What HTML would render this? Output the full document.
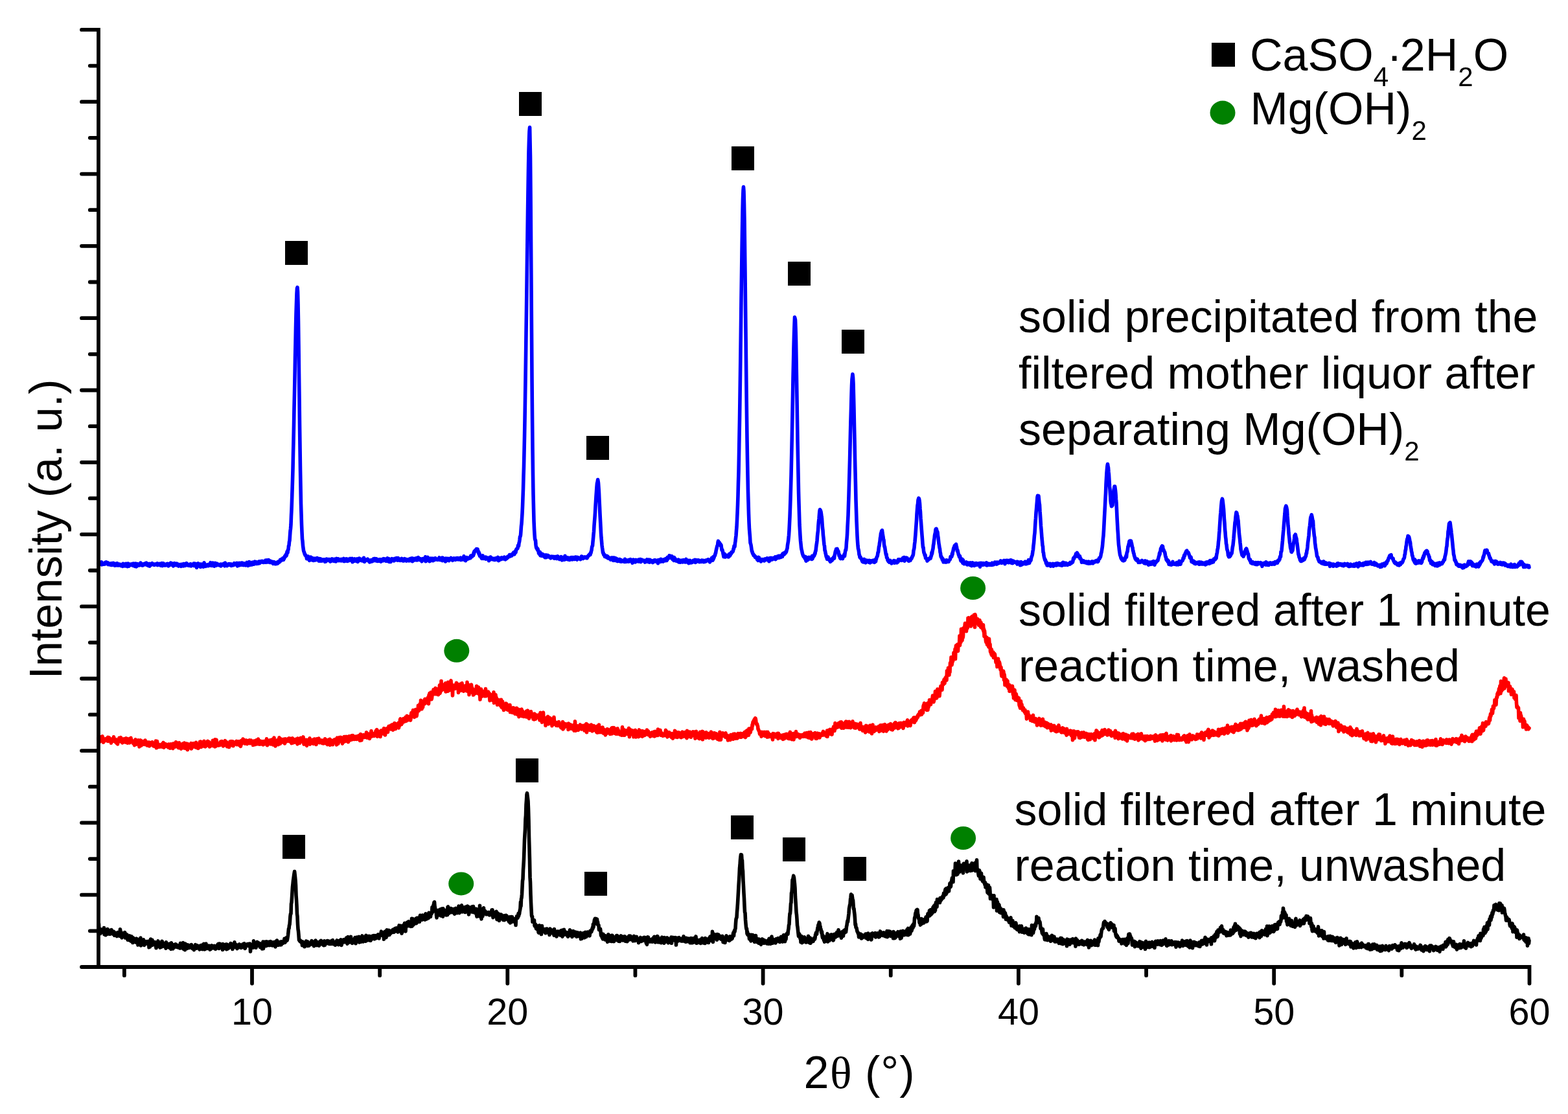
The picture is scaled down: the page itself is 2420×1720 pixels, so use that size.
<!DOCTYPE html>
<html><head><meta charset="utf-8"><title>XRD</title>
<style>
html,body{margin:0;padding:0;background:#fff;overflow:hidden;}
svg{display:block;}
text{font-family:"Liberation Sans",Arial,sans-serif;fill:#000;}
</style></head><body>
<svg width="2420" height="1720" viewBox="0 0 2420 1720">
<rect width="2420" height="1720" fill="#fff"/>
<path d="M152.0,870.0L152.5,871.6 153.0,871.5 153.5,869.4 154.0,869.6 154.5,869.4 155.0,870.7 155.5,869.9 156.0,870.9 156.5,867.8 157.0,871.9 157.5,869.9 158.0,870.8 158.5,869.9 159.0,869.6 159.5,870.6 160.0,871.1 160.5,869.8 161.0,869.9 161.5,871.0 162.0,869.1 162.5,868.4 163.0,870.7 163.5,869.5 164.0,868.0 164.5,869.4 165.0,869.8 165.5,869.0 166.0,868.7 166.5,870.5 167.0,871.6 167.5,870.3 168.0,869.8 168.5,871.2 169.0,871.6 169.5,870.4 170.0,871.5 170.5,872.1 171.0,870.7 171.5,870.0 172.0,871.5 172.5,871.4 173.0,872.5 173.5,869.7 174.0,870.5 174.5,870.3 175.0,869.3 175.5,871.6 176.0,872.1 176.5,870.6 177.0,873.2 177.5,872.6 178.0,872.4 178.5,872.2 179.0,872.9 179.5,870.2 180.0,872.6 180.5,872.6 181.0,869.8 181.5,872.4 182.0,871.7 182.5,873.0 183.0,871.5 183.5,872.1 184.0,872.5 184.5,871.1 185.0,872.9 185.5,872.1 186.0,872.8 186.5,871.6 187.0,873.6 187.5,873.0 188.0,872.1 188.5,873.1 189.0,873.8 189.5,874.4 190.0,870.4 190.5,873.4 191.0,872.9 191.5,872.2 192.0,871.1 192.5,873.8 193.0,870.8 193.5,873.0 194.0,873.8 194.5,870.3 195.0,871.9 195.5,870.7 196.0,872.5 196.5,874.0 197.0,874.6 197.5,870.1 198.0,871.5 198.5,873.0 199.0,874.1 199.5,872.7 200.0,871.2 200.5,872.5 201.0,872.1 201.5,871.9 202.0,871.2 202.5,872.5 203.0,872.4 203.5,871.9 204.0,871.8 204.5,870.5 205.0,871.4 205.5,873.4 206.0,871.7 206.5,870.2 207.0,873.5 207.5,872.5 208.0,874.4 208.5,871.9 209.0,871.3 209.5,870.1 210.0,873.4 210.5,874.9 211.0,870.8 211.5,871.0 212.0,872.5 212.5,870.7 213.0,871.4 213.5,871.3 214.0,871.9 214.5,873.0 215.0,871.7 215.5,872.7 216.0,871.1 216.5,872.0 217.0,869.0 217.5,869.8 218.0,872.5 218.5,870.8 219.0,872.2 219.5,872.2 220.0,873.1 220.5,872.5 221.0,872.7 221.5,871.4 222.0,870.6 222.5,870.6 223.0,870.9 223.5,870.1 224.0,870.8 224.5,871.3 225.0,871.7 225.5,871.0 226.0,869.1 226.5,871.3 227.0,871.7 227.5,872.7 228.0,872.1 228.5,870.6 229.0,870.5 229.5,873.8 230.0,872.3 230.5,873.6 231.0,874.0 231.5,870.4 232.0,871.9 232.5,872.0 233.0,872.1 233.5,872.1 234.0,871.7 234.5,871.6 235.0,869.6 235.5,871.2 236.0,870.5 236.5,871.6 237.0,870.9 237.5,872.2 238.0,872.4 238.5,871.8 239.0,871.8 239.5,871.6 240.0,870.9 240.5,871.3 241.0,870.9 241.5,871.9 242.0,871.5 242.5,872.2 243.0,869.9 243.5,872.6 244.0,870.6 244.5,870.6 245.0,871.3 245.5,870.8 246.0,871.9 246.5,870.9 247.0,870.3 247.5,870.5 248.0,873.1 248.5,871.6 249.0,870.2 249.5,871.6 250.0,869.7 250.5,873.7 251.0,869.8 251.5,872.2 252.0,872.3 252.5,869.9 253.0,872.0 253.5,872.8 254.0,872.2 254.5,872.0 255.0,872.8 255.5,871.9 256.0,872.1 256.5,871.5 257.0,872.5 257.5,870.6 258.0,872.7 258.5,871.1 259.0,870.4 259.5,872.2 260.0,873.8 260.5,872.9 261.0,871.2 261.5,872.6 262.0,871.2 262.5,871.6 263.0,871.9 263.5,869.0 264.0,872.1 264.5,870.6 265.0,871.0 265.5,870.1 266.0,870.0 266.5,870.7 267.0,872.9 267.5,873.9 268.0,871.8 268.5,873.2 269.0,871.6 269.5,869.6 270.0,872.1 270.5,872.4 271.0,871.4 271.5,872.3 272.0,872.6 272.5,870.9 273.0,870.2 273.5,871.7 274.0,871.7 274.5,871.5 275.0,873.1 275.5,874.0 276.0,871.5 276.5,872.8 277.0,873.1 277.5,872.8 278.0,873.2 278.5,871.5 279.0,872.9 279.5,874.4 280.0,873.0 280.5,871.3 281.0,872.7 281.5,873.5 282.0,872.4 282.5,871.3 283.0,873.9 283.5,870.5 284.0,872.6 284.5,872.0 285.0,870.6 285.5,873.5 286.0,872.4 286.5,870.6 287.0,872.7 287.5,871.5 288.0,869.7 288.5,871.2 289.0,872.3 289.5,872.8 290.0,872.2 290.5,872.1 291.0,872.6 291.5,871.8 292.0,873.4 292.5,872.2 293.0,872.4 293.5,872.7 294.0,870.8 294.5,871.2 295.0,873.9 295.5,872.4 296.0,871.7 296.5,872.4 297.0,871.5 297.5,872.4 298.0,871.2 298.5,872.4 299.0,870.1 299.5,873.6 300.0,871.4 300.5,870.1 301.0,871.8 301.5,871.6 302.0,872.2 302.5,870.7 303.0,872.5 303.5,876.4 304.0,870.5 304.5,872.5 305.0,871.7 305.5,872.3 306.0,869.9 306.5,870.7 307.0,872.6 307.5,872.0 308.0,874.0 308.5,871.2 309.0,872.3 309.5,875.5 310.0,871.1 310.5,871.0 311.0,872.0 311.5,872.0 312.0,873.1 312.5,872.2 313.0,871.1 313.5,872.3 314.0,875.2 314.5,873.6 315.0,868.7 315.5,871.9 316.0,871.0 316.5,872.8 317.0,871.8 317.5,874.4 318.0,873.2 318.5,873.1 319.0,872.3 319.5,872.0 320.0,872.5 320.5,873.6 321.0,872.7 321.5,871.6 322.0,873.6 322.5,872.3 323.0,871.9 323.5,871.1 324.0,871.4 324.5,871.3 325.0,868.7 325.5,873.3 326.0,872.7 326.5,871.8 327.0,873.3 327.5,872.6 328.0,872.5 328.5,869.1 329.0,871.7 329.5,872.7 330.0,873.9 330.5,874.2 331.0,873.7 331.5,870.6 332.0,869.4 332.5,872.7 333.0,872.0 333.5,873.2 334.0,871.8 334.5,872.3 335.0,870.2 335.5,872.5 336.0,871.5 336.5,872.4 337.0,872.5 337.5,871.8 338.0,872.4 338.5,872.0 339.0,872.9 339.5,872.6 340.0,871.3 340.5,871.2 341.0,874.0 341.5,871.8 342.0,873.1 342.5,872.4 343.0,871.2 343.5,871.0 344.0,872.0 344.5,872.2 345.0,872.6 345.5,870.4 346.0,871.2 346.5,871.7 347.0,873.8 347.5,869.0 348.0,872.4 348.5,871.2 349.0,872.3 349.5,871.2 350.0,872.2 350.5,873.7 351.0,872.2 351.5,872.3 352.0,872.2 352.5,870.8 353.0,872.4 353.5,871.5 354.0,870.7 354.5,871.6 355.0,871.4 355.5,872.6 356.0,871.6 356.5,871.0 357.0,873.4 357.5,872.8 358.0,873.1 358.5,872.3 359.0,871.4 359.5,871.1 360.0,871.2 360.5,872.7 361.0,871.6 361.5,869.7 362.0,871.4 362.5,869.8 363.0,871.7 363.5,870.0 364.0,869.9 364.5,871.5 365.0,871.3 365.5,869.4 366.0,872.2 366.5,873.9 367.0,869.5 367.5,873.5 368.0,870.4 368.5,870.7 369.0,871.0 369.5,869.5 370.0,872.8 370.5,871.8 371.0,870.3 371.5,870.8 372.0,869.3 372.5,870.7 373.0,872.2 373.5,869.0 374.0,870.5 374.5,871.2 375.0,872.2 375.5,872.6 376.0,870.4 376.5,870.0 377.0,871.4 377.5,870.4 378.0,870.5 378.5,872.1 379.0,872.8 379.5,871.1 380.0,870.5 380.5,871.4 381.0,868.4 381.5,870.6 382.0,869.4 382.5,873.5 383.0,871.5 383.5,870.7 384.0,870.3 384.5,867.5 385.0,871.3 385.5,872.4 386.0,869.5 386.5,871.2 387.0,871.2 387.5,868.5 388.0,871.4 388.5,871.9 389.0,870.4 389.5,870.0 390.0,871.0 390.5,868.1 391.0,870.0 391.5,871.1 392.0,868.3 392.5,870.9 393.0,869.1 393.5,867.1 394.0,869.3 394.5,868.2 395.0,869.7 395.5,867.8 396.0,870.4 396.5,868.1 397.0,869.4 397.5,868.1 398.0,868.4 398.5,870.1 399.0,868.8 399.5,868.0 400.0,866.9 400.5,869.7 401.0,869.1 401.5,867.7 402.0,868.3 402.5,866.7 403.0,866.6 403.5,866.7 404.0,868.0 404.5,867.9 405.0,866.5 405.5,868.2 406.0,868.2 406.5,867.4 407.0,868.4 407.5,866.7 408.0,866.8 408.5,867.4 409.0,866.8 409.5,867.7 410.0,865.2 410.5,868.3 411.0,865.6 411.5,866.3 412.0,864.8 412.5,867.1 413.0,867.9 413.5,867.7 414.0,867.4 414.5,864.6 415.0,865.7 415.5,866.2 416.0,865.8 416.5,868.4 417.0,867.5 417.5,867.4 418.0,868.2 418.5,866.7 419.0,867.0 419.5,867.2 420.0,869.1 420.5,869.1 421.0,869.6 421.5,870.3 422.0,867.6 422.5,868.6 423.0,869.6 423.5,867.9 424.0,868.9 424.5,870.8 425.0,870.8 425.5,870.7 426.0,869.4 426.5,868.9 427.0,870.3 427.5,868.4 428.0,869.1 428.5,870.1 429.0,867.8 429.5,867.3 430.0,867.8 430.5,868.3 431.0,867.8 431.5,867.2 432.0,867.3 432.5,864.4 433.0,865.0 433.5,865.9 434.0,864.2 434.5,863.3 435.0,863.1 435.5,863.0 436.0,863.5 436.5,862.0 437.0,863.1 437.5,864.4 438.0,861.6 438.5,862.8 439.0,861.1 439.5,858.8 440.0,859.2 440.5,857.6 441.0,859.0 441.5,855.9 442.0,858.0 442.5,856.1 443.0,851.8 443.5,853.8 444.0,853.2 444.5,848.6 445.0,848.7 445.5,842.8 446.0,842.3 446.5,836.5 447.0,834.8 447.5,827.0 448.0,819.9 448.5,816.3 449.0,810.1 449.5,796.8 450.0,787.0 450.5,773.0 451.0,757.5 451.5,741.9 452.0,724.4 452.5,700.5 453.0,680.4 453.5,656.5 454.0,629.4 454.5,607.3 455.0,581.6 455.5,552.1 456.0,530.2 456.5,504.8 457.0,483.6 457.5,468.0 458.0,453.2 458.5,445.0 459.0,443.6 459.5,450.2 460.0,469.4 460.5,496.5 461.0,532.9 461.5,576.4 462.0,614.8 462.5,655.6 463.0,690.6 463.5,724.1 464.0,750.8 464.5,777.7 465.0,793.6 465.5,809.8 466.0,821.5 466.5,832.1 467.0,835.7 467.5,842.5 468.0,846.1 468.5,849.8 469.0,852.0 469.5,852.6 470.0,854.9 470.5,855.3 471.0,857.3 471.5,857.4 472.0,857.5 472.5,858.9 473.0,860.0 473.5,862.7 474.0,859.9 474.5,861.3 475.0,863.0 475.5,859.1 476.0,859.8 476.5,860.7 477.0,862.2 477.5,865.4 478.0,863.2 478.5,864.3 479.0,862.7 479.5,860.2 480.0,860.4 480.5,864.5 481.0,863.6 481.5,861.9 482.0,864.9 482.5,861.7 483.0,865.0 483.5,865.4 484.0,862.8 484.5,862.4 485.0,864.8 485.5,862.4 486.0,864.8 486.5,862.3 487.0,864.8 487.5,863.9 488.0,863.3 488.5,862.7 489.0,864.1 489.5,861.6 490.0,863.5 490.5,863.4 491.0,864.7 491.5,862.4 492.0,866.1 492.5,863.6 493.0,862.6 493.5,865.8 494.0,866.1 494.5,863.9 495.0,863.1 495.5,864.2 496.0,863.4 496.5,863.8 497.0,866.1 497.5,864.7 498.0,864.5 498.5,864.7 499.0,864.2 499.5,865.4 500.0,865.4 500.5,863.9 501.0,864.5 501.5,867.3 502.0,864.9 502.5,864.2 503.0,866.9 503.5,864.5 504.0,863.1 504.5,865.3 505.0,863.4 505.5,863.9 506.0,864.9 506.5,864.3 507.0,863.6 507.5,863.8 508.0,863.8 508.5,866.0 509.0,863.7 509.5,863.8 510.0,867.1 510.5,863.9 511.0,866.4 511.5,866.2 512.0,864.4 512.5,862.8 513.0,865.1 513.5,865.4 514.0,865.8 514.5,864.7 515.0,866.1 515.5,866.3 516.0,863.3 516.5,866.4 517.0,864.8 517.5,863.9 518.0,864.2 518.5,866.9 519.0,865.8 519.5,862.4 520.0,864.8 520.5,864.5 521.0,864.4 521.5,864.0 522.0,862.9 522.5,865.7 523.0,863.5 523.5,864.2 524.0,863.9 524.5,863.8 525.0,865.6 525.5,865.1 526.0,863.9 526.5,863.5 527.0,864.1 527.5,865.9 528.0,864.8 528.5,865.0 529.0,864.3 529.5,864.4 530.0,865.0 530.5,862.4 531.0,866.7 531.5,863.7 532.0,864.0 532.5,866.3 533.0,865.0 533.5,864.8 534.0,864.0 534.5,862.8 535.0,864.9 535.5,866.2 536.0,863.6 536.5,866.4 537.0,863.3 537.5,863.8 538.0,865.3 538.5,864.7 539.0,865.6 539.5,863.8 540.0,863.4 540.5,862.4 541.0,863.2 541.5,863.4 542.0,863.0 542.5,865.1 543.0,863.9 543.5,862.3 544.0,867.8 544.5,863.7 545.0,863.2 545.5,866.2 546.0,866.2 546.5,863.3 547.0,862.9 547.5,863.5 548.0,866.1 548.5,864.3 549.0,863.7 549.5,864.7 550.0,866.2 550.5,863.0 551.0,864.3 551.5,863.0 552.0,867.4 552.5,867.0 553.0,865.9 553.5,864.6 554.0,865.5 554.5,862.1 555.0,865.1 555.5,863.1 556.0,863.1 556.5,863.9 557.0,864.3 557.5,865.4 558.0,865.6 558.5,865.1 559.0,863.6 559.5,865.6 560.0,864.6 560.5,866.2 561.0,863.6 561.5,861.3 562.0,864.1 562.5,867.4 563.0,865.3 563.5,864.5 564.0,865.8 564.5,865.3 565.0,865.3 565.5,864.1 566.0,864.8 566.5,865.0 567.0,863.9 567.5,863.3 568.0,864.9 568.5,865.9 569.0,865.5 569.5,865.3 570.0,865.3 570.5,867.9 571.0,865.0 571.5,866.0 572.0,867.1 572.5,864.8 573.0,865.0 573.5,866.0 574.0,866.8 574.5,865.1 575.0,865.1 575.5,864.8 576.0,863.2 576.5,866.0 577.0,864.4 577.5,862.5 578.0,864.5 578.5,862.5 579.0,863.4 579.5,864.7 580.0,863.5 580.5,866.0 581.0,862.8 581.5,865.0 582.0,865.3 582.5,866.4 583.0,865.8 583.5,864.9 584.0,864.7 584.5,864.5 585.0,866.0 585.5,863.8 586.0,865.2 586.5,864.5 587.0,864.9 587.5,864.2 588.0,867.2 588.5,863.8 589.0,864.9 589.5,864.9 590.0,865.3 590.5,865.1 591.0,865.1 591.5,865.7 592.0,862.7 592.5,864.5 593.0,863.0 593.5,864.8 594.0,863.0 594.5,863.3 595.0,864.4 595.5,866.2 596.0,865.2 596.5,864.8 597.0,866.2 597.5,863.3 598.0,861.9 598.5,863.9 599.0,864.1 599.5,866.0 600.0,867.1 600.5,862.8 601.0,867.5 601.5,866.3 602.0,865.4 602.5,864.9 603.0,867.4 603.5,864.5 604.0,863.8 604.5,864.5 605.0,862.7 605.5,864.9 606.0,864.2 606.5,864.8 607.0,864.8 607.5,863.0 608.0,866.0 608.5,863.1 609.0,865.4 609.5,862.4 610.0,864.8 610.5,863.3 611.0,864.4 611.5,863.5 612.0,861.6 612.5,862.9 613.0,864.4 613.5,865.1 614.0,862.5 614.5,861.7 615.0,863.2 615.5,864.0 616.0,863.5 616.5,863.3 617.0,865.3 617.5,865.5 618.0,865.2 618.5,863.1 619.0,864.4 619.5,864.0 620.0,862.5 620.5,865.3 621.0,864.4 621.5,863.6 622.0,866.0 622.5,865.2 623.0,865.3 623.5,865.7 624.0,865.1 624.5,862.7 625.0,863.7 625.5,865.5 626.0,863.3 626.5,864.3 627.0,864.7 627.5,866.0 628.0,865.8 628.5,865.3 629.0,864.0 629.5,865.3 630.0,864.8 630.5,864.0 631.0,865.9 631.5,864.8 632.0,863.2 632.5,865.7 633.0,863.8 633.5,864.9 634.0,862.3 634.5,864.1 635.0,863.0 635.5,862.9 636.0,861.8 636.5,866.8 637.0,863.9 637.5,864.4 638.0,865.5 638.5,864.0 639.0,864.8 639.5,862.4 640.0,864.3 640.5,863.6 641.0,864.7 641.5,864.3 642.0,862.4 642.5,861.8 643.0,862.8 643.5,865.0 644.0,864.6 644.5,864.6 645.0,861.6 645.5,860.7 646.0,863.3 646.5,863.6 647.0,863.3 647.5,864.5 648.0,863.8 648.5,862.6 649.0,862.9 649.5,864.2 650.0,864.1 650.5,863.9 651.0,866.8 651.5,863.7 652.0,864.1 652.5,862.7 653.0,863.5 653.5,864.6 654.0,864.7 654.5,863.7 655.0,864.4 655.5,864.0 656.0,861.6 656.5,859.8 657.0,866.8 657.5,864.9 658.0,863.8 658.5,861.7 659.0,862.3 659.5,865.5 660.0,860.4 660.5,863.4 661.0,864.9 661.5,864.0 662.0,864.8 662.5,863.6 663.0,866.8 663.5,862.5 664.0,862.1 664.5,864.1 665.0,865.5 665.5,863.7 666.0,865.0 666.5,863.1 667.0,862.2 667.5,865.4 668.0,865.6 668.5,865.6 669.0,863.1 669.5,862.2 670.0,862.2 670.5,863.4 671.0,864.4 671.5,864.3 672.0,861.8 672.5,863.8 673.0,863.6 673.5,863.7 674.0,863.5 674.5,863.3 675.0,864.3 675.5,863.7 676.0,863.8 676.5,862.7 677.0,864.0 677.5,863.4 678.0,860.9 678.5,864.1 679.0,863.1 679.5,864.6 680.0,863.3 680.5,863.3 681.0,863.7 681.5,863.4 682.0,862.9 682.5,861.2 683.0,865.7 683.5,861.4 684.0,863.0 684.5,864.2 685.0,863.8 685.5,864.1 686.0,864.3 686.5,864.9 687.0,863.7 687.5,867.0 688.0,862.1 688.5,863.6 689.0,862.9 689.5,862.6 690.0,863.7 690.5,865.1 691.0,862.4 691.5,862.4 692.0,864.2 692.5,863.9 693.0,865.7 693.5,864.5 694.0,863.5 694.5,862.8 695.0,863.5 695.5,863.0 696.0,861.5 696.5,863.2 697.0,863.0 697.5,862.9 698.0,862.6 698.5,865.3 699.0,864.0 699.5,864.3 700.0,862.4 700.5,861.9 701.0,862.8 701.5,863.4 702.0,862.7 702.5,862.9 703.0,864.3 703.5,863.4 704.0,861.8 704.5,862.5 705.0,862.2 705.5,863.3 706.0,861.6 706.5,862.8 707.0,863.9 707.5,863.0 708.0,861.8 708.5,862.2 709.0,863.1 709.5,863.5 710.0,864.0 710.5,862.7 711.0,861.2 711.5,864.6 712.0,863.2 712.5,863.3 713.0,863.2 713.5,861.5 714.0,862.4 714.5,863.1 715.0,864.0 715.5,862.8 716.0,858.8 716.5,862.4 717.0,863.1 717.5,864.2 718.0,863.5 718.5,865.7 719.0,864.3 719.5,864.2 720.0,863.6 720.5,860.7 721.0,863.4 721.5,863.0 722.0,861.6 722.5,862.9 723.0,862.6 723.5,861.4 724.0,861.7 724.5,861.3 725.0,861.8 725.5,860.7 726.0,861.7 726.5,858.3 727.0,860.0 727.5,857.8 728.0,858.8 728.5,859.5 729.0,858.2 729.5,857.3 730.0,856.8 730.5,857.8 731.0,853.6 731.5,855.2 732.0,851.2 732.5,851.6 733.0,851.6 733.5,849.5 734.0,850.2 734.5,850.4 735.4,847.6 736.0,849.2 736.5,849.2 737.0,847.8 737.5,850.6 738.0,850.7 738.5,854.2 739.0,852.4 739.5,856.5 740.0,854.6 740.5,858.6 741.0,857.6 741.5,858.3 742.0,859.4 742.5,860.1 743.0,861.3 743.5,862.2 744.0,860.0 744.5,859.2 745.0,857.8 745.5,860.8 746.0,862.4 746.5,862.1 747.0,862.0 747.5,861.5 748.0,861.2 748.5,861.8 749.0,862.7 749.5,860.1 750.0,863.2 750.5,860.6 751.0,862.3 751.5,861.7 752.0,862.1 752.5,861.3 753.0,861.2 753.5,862.4 754.0,861.4 754.5,865.8 755.0,862.4 755.5,862.1 756.0,862.3 756.5,861.7 757.0,860.0 757.5,862.8 758.0,863.5 758.5,861.3 759.0,863.2 759.5,861.8 760.0,863.2 760.5,863.7 761.0,863.9 761.5,863.9 762.0,862.5 762.5,864.4 763.0,862.8 763.5,863.8 764.0,864.2 764.5,863.0 765.0,861.8 765.5,864.1 766.0,862.0 766.5,862.2 767.0,861.9 767.5,864.2 768.0,863.0 768.5,860.4 769.0,864.0 769.5,865.6 770.0,865.2 770.5,862.3 771.0,863.0 771.5,863.5 772.0,863.9 772.5,862.8 773.0,861.4 773.5,863.5 774.0,863.3 774.5,860.9 775.0,862.0 775.5,862.6 776.0,862.2 776.5,862.8 777.0,863.0 777.5,862.6 778.0,861.7 778.5,860.1 779.0,862.4 779.5,863.2 780.0,863.8 780.5,861.2 781.0,861.1 781.5,862.7 782.0,862.5 782.5,861.1 783.0,861.3 783.5,859.4 784.0,860.8 784.5,858.9 785.0,859.6 785.5,859.4 786.0,858.7 786.5,856.5 787.0,857.8 787.5,858.9 788.0,858.2 788.5,857.5 789.0,858.1 789.5,858.1 790.0,858.0 790.5,855.6 791.0,856.2 791.5,855.4 792.0,854.3 792.5,853.1 793.0,854.3 793.5,852.8 794.0,855.9 794.5,852.6 795.0,851.8 795.5,851.0 796.0,853.0 796.5,848.8 797.0,849.0 797.5,847.3 798.0,847.2 798.5,846.2 799.0,846.5 799.5,842.2 800.0,842.5 800.5,842.9 801.0,838.5 801.5,836.8 802.0,833.6 802.5,828.7 803.0,828.4 803.5,826.1 804.0,819.5 804.5,812.4 805.0,808.6 805.5,800.7 806.0,792.8 806.5,782.1 807.0,768.3 807.5,754.8 808.0,735.6 808.5,720.3 809.0,697.8 809.5,674.9 810.0,648.4 810.5,617.5 811.0,586.1 811.5,551.3 812.0,514.0 812.5,479.0 813.0,441.0 813.5,400.7 814.0,364.7 814.5,327.1 815.0,293.1 815.5,260.8 816.0,233.6 816.5,216.7 817.0,203.3 817.6,196.6 818.5,241.7 819.0,298.8 819.5,368.5 820.0,442.4 820.5,513.5 821.0,584.3 821.5,640.4 822.0,691.3 822.5,731.1 823.0,762.7 823.5,783.6 824.0,804.2 824.5,815.8 825.0,824.7 825.5,831.7 826.0,833.7 826.5,834.2 827.0,841.3 827.5,844.7 828.0,846.3 828.5,845.7 829.0,847.5 829.5,849.2 830.0,847.5 830.5,849.9 831.0,850.7 831.5,854.3 832.0,852.1 832.5,855.5 833.0,854.1 833.5,852.4 834.0,857.8 834.5,854.2 835.0,856.5 835.5,858.2 836.0,855.7 836.5,855.1 837.0,858.3 837.5,857.3 838.0,855.9 838.5,856.2 839.0,857.3 839.5,859.2 840.0,857.8 840.5,859.1 841.0,860.6 841.5,860.2 842.0,860.6 842.5,860.4 843.0,856.9 843.5,860.6 844.0,859.6 844.5,859.1 845.0,858.0 845.5,857.5 846.0,858.2 846.5,859.6 847.0,858.3 847.5,858.8 848.0,859.1 848.5,860.8 849.0,859.7 849.5,860.0 850.0,861.9 850.5,859.9 851.0,861.1 851.5,859.1 852.0,860.9 852.5,860.7 853.0,860.8 853.5,860.1 854.0,859.4 854.5,860.4 855.0,860.2 855.5,862.2 856.0,862.1 856.5,859.5 857.0,861.8 857.5,860.5 858.0,861.7 858.5,860.6 859.0,859.4 859.5,862.6 860.0,861.9 860.5,859.8 861.0,859.0 861.5,860.8 862.0,860.0 862.5,861.1 863.0,862.4 863.5,863.5 864.0,861.2 864.5,863.4 865.0,863.2 865.5,861.2 866.0,859.7 866.5,862.9 867.0,862.6 867.5,864.8 868.0,863.7 868.5,862.9 869.0,864.1 869.5,860.6 870.0,862.2 870.5,861.6 871.0,864.2 871.5,862.7 872.0,858.2 872.5,863.8 873.0,860.9 873.5,863.0 874.0,861.5 874.5,862.4 875.0,862.9 875.5,862.3 876.0,860.9 876.5,863.9 877.0,862.6 877.5,862.1 878.0,863.0 878.5,861.4 879.0,864.5 879.5,862.4 880.0,862.6 880.5,862.6 881.0,861.0 881.5,860.6 882.0,862.4 882.5,862.6 883.0,863.8 883.5,862.7 884.0,860.7 884.5,862.7 885.0,863.1 885.5,863.3 886.0,862.5 886.5,860.5 887.0,863.5 887.5,861.1 888.0,862.7 888.5,860.0 889.0,862.9 889.5,861.0 890.0,863.3 890.5,864.1 891.0,863.4 891.5,860.4 892.0,860.7 892.5,860.7 893.0,862.6 893.5,862.2 894.0,861.9 894.5,862.1 895.0,862.4 895.5,862.4 896.0,863.7 896.5,861.5 897.0,861.7 897.5,859.1 898.0,859.7 898.5,860.4 899.0,859.8 899.5,861.4 900.0,862.4 900.5,860.5 901.0,860.3 901.5,860.2 902.0,860.9 902.5,860.0 903.0,861.1 903.5,860.8 904.0,860.7 904.5,861.1 905.0,860.0 905.5,860.0 906.0,861.8 906.5,859.3 907.0,860.2 907.5,858.9 908.0,858.0 908.5,857.6 909.0,856.7 909.5,857.2 910.0,855.8 910.5,855.3 911.0,856.4 911.5,853.6 912.0,853.8 912.5,851.0 913.0,849.6 913.5,845.3 914.0,843.3 914.5,842.9 915.0,836.6 915.5,832.1 916.0,825.8 916.5,820.7 917.0,811.6 917.5,804.9 918.0,798.9 918.5,791.5 919.0,781.9 919.5,774.1 920.0,766.2 920.5,759.2 921.0,751.7 921.5,746.3 922.0,744.5 922.7,740.6 923.5,745.8 924.0,752.8 924.5,760.9 925.0,772.6 925.5,782.4 926.0,793.6 926.5,802.8 927.0,812.7 927.5,822.8 928.0,830.1 928.5,835.4 929.0,841.6 929.5,845.7 930.0,849.0 930.5,853.5 931.0,853.0 931.5,855.6 932.0,856.8 932.5,857.0 933.0,856.5 933.5,859.4 934.0,859.3 934.5,859.5 935.0,859.7 935.5,860.0 936.0,859.1 936.5,860.8 937.0,858.4 937.5,860.8 938.0,859.1 938.5,860.7 939.0,862.2 939.5,861.1 940.0,861.0 940.5,862.4 941.0,861.5 941.5,861.5 942.0,861.6 942.5,864.1 943.0,863.2 943.5,863.1 944.0,861.1 944.5,863.4 945.0,861.2 945.5,863.5 946.0,861.6 946.5,865.5 947.0,861.1 947.5,864.8 948.0,864.4 948.5,861.3 949.0,863.3 949.5,865.5 950.0,865.2 950.5,861.9 951.0,863.4 951.5,862.7 952.0,862.9 952.5,863.5 953.0,866.6 953.5,864.6 954.0,864.3 954.5,864.2 955.0,865.5 955.5,865.6 956.0,863.7 956.5,866.7 957.0,863.7 957.5,864.7 958.0,865.7 958.5,867.2 959.0,864.8 959.5,865.6 960.0,866.9 960.5,866.1 961.0,866.8 961.5,866.7 962.0,865.8 962.5,866.3 963.0,866.6 963.5,865.5 964.0,867.5 964.5,863.2 965.0,864.5 965.5,867.3 966.0,866.1 966.5,864.8 967.0,866.1 967.5,867.0 968.0,865.0 968.5,866.6 969.0,865.5 969.5,865.6 970.0,865.6 970.5,867.1 971.0,864.4 971.5,865.3 972.0,866.5 972.5,864.3 973.0,863.8 973.5,866.4 974.0,865.8 974.5,865.6 975.0,866.0 975.5,864.6 976.0,869.3 976.5,864.6 977.0,865.3 977.5,864.1 978.0,865.3 978.5,867.7 979.0,865.9 979.5,866.6 980.0,865.3 980.5,868.0 981.0,866.1 981.5,864.4 982.0,866.8 982.5,865.4 983.0,866.6 983.5,866.0 984.0,866.2 984.5,866.1 985.0,864.8 985.5,864.1 986.0,867.1 986.5,865.7 987.0,866.2 987.5,865.3 988.0,863.5 988.5,864.4 989.0,867.6 989.5,865.0 990.0,865.5 990.5,864.2 991.0,865.3 991.5,865.5 992.0,865.7 992.5,865.9 993.0,865.2 993.5,865.3 994.0,865.9 994.5,866.3 995.0,865.8 995.5,868.1 996.0,866.2 996.5,866.2 997.0,865.2 997.5,867.2 998.0,864.7 998.5,864.0 999.0,864.8 999.5,866.7 1000.0,864.6 1000.5,867.5 1001.0,865.9 1001.5,864.1 1002.0,865.7 1002.5,868.1 1003.0,864.9 1003.5,864.4 1004.0,866.6 1004.5,867.5 1005.0,867.2 1005.5,865.6 1006.0,866.2 1006.5,866.4 1007.0,867.4 1007.5,868.5 1008.0,865.8 1008.5,867.5 1009.0,865.5 1009.5,866.7 1010.0,864.8 1010.5,865.0 1011.0,866.4 1011.5,864.9 1012.0,867.0 1012.5,865.3 1013.0,866.0 1013.5,865.8 1014.0,865.5 1014.5,866.1 1015.0,867.2 1015.5,869.7 1016.0,864.5 1016.5,866.3 1017.0,865.7 1017.5,864.8 1018.0,866.2 1018.5,864.8 1019.0,865.8 1019.5,867.3 1020.0,863.4 1020.5,866.1 1021.0,866.3 1021.5,864.6 1022.0,866.4 1022.5,866.1 1023.0,865.2 1023.5,867.1 1024.0,864.0 1024.5,866.2 1025.0,865.1 1025.5,864.0 1026.0,864.9 1026.5,864.5 1027.0,865.7 1027.5,862.7 1028.0,864.0 1028.5,863.4 1029.0,865.5 1029.5,861.9 1030.0,864.1 1030.5,860.3 1031.0,862.4 1031.5,861.4 1032.0,861.5 1032.5,859.8 1033.0,857.9 1033.5,858.1 1034.0,861.3 1034.5,859.8 1035.0,858.5 1035.5,860.6 1036.0,858.8 1036.5,859.1 1037.0,858.9 1037.5,862.1 1038.0,863.5 1038.5,860.4 1039.0,862.4 1039.5,863.7 1040.0,865.5 1040.5,860.5 1041.0,863.9 1041.5,864.9 1042.0,862.6 1042.5,865.2 1043.0,865.1 1043.5,866.0 1044.0,864.6 1044.5,866.0 1045.0,864.9 1045.5,866.4 1046.0,866.0 1046.5,865.4 1047.0,864.2 1047.5,868.0 1048.0,867.4 1048.5,867.2 1049.0,865.3 1049.5,865.8 1050.0,868.2 1050.5,867.1 1051.0,865.3 1051.5,866.4 1052.0,866.5 1052.5,866.2 1053.0,865.3 1053.5,868.0 1054.0,867.2 1054.5,866.3 1055.0,864.7 1055.5,865.9 1056.0,866.6 1056.5,867.7 1057.0,866.2 1057.5,868.0 1058.0,866.9 1058.5,865.9 1059.0,863.4 1059.5,865.4 1060.0,865.0 1060.5,866.7 1061.0,867.3 1061.5,868.5 1062.0,866.9 1062.5,865.5 1063.0,869.7 1063.5,867.3 1064.0,866.6 1064.5,866.6 1065.0,865.3 1065.5,867.7 1066.0,867.4 1066.5,868.8 1067.0,868.2 1067.5,867.9 1068.0,868.4 1068.5,866.5 1069.0,866.3 1069.5,866.8 1070.0,865.3 1070.5,866.6 1071.0,866.4 1071.5,867.6 1072.0,866.7 1072.5,864.4 1073.0,866.7 1073.5,868.4 1074.0,864.5 1074.5,865.7 1075.0,866.6 1075.5,865.0 1076.0,865.9 1076.5,866.6 1077.0,864.9 1077.5,866.9 1078.0,867.0 1078.5,864.9 1079.0,866.5 1079.5,867.7 1080.0,866.2 1080.5,866.9 1081.0,867.1 1081.5,866.0 1082.0,867.4 1082.5,866.7 1083.0,865.0 1083.5,866.8 1084.0,867.1 1084.5,867.0 1085.0,865.3 1085.5,866.5 1086.0,867.6 1086.5,866.2 1087.0,867.3 1087.5,867.4 1088.0,865.7 1088.5,866.5 1089.0,865.3 1089.5,866.9 1090.0,865.5 1090.5,864.9 1091.0,865.4 1091.5,865.3 1092.0,865.8 1092.5,865.8 1093.0,863.8 1093.5,864.3 1094.0,865.4 1094.5,865.5 1095.0,864.9 1095.5,867.9 1096.0,865.9 1096.5,864.4 1097.0,865.2 1097.5,865.7 1098.0,864.4 1098.5,861.6 1099.0,863.5 1099.5,863.1 1100.0,865.2 1100.5,859.9 1101.0,863.4 1101.5,860.6 1102.0,861.0 1102.5,858.5 1103.0,857.9 1103.5,857.7 1104.0,854.8 1104.5,854.3 1105.0,851.0 1105.5,848.6 1106.0,846.7 1106.5,844.2 1107.0,842.5 1107.5,842.3 1108.0,837.5 1108.5,835.4 1109.0,836.4 1109.6,837.9 1110.5,837.9 1111.0,839.3 1111.5,840.7 1112.0,840.1 1112.5,843.0 1113.0,841.6 1113.5,846.0 1114.0,849.4 1114.5,848.5 1115.0,849.5 1115.5,851.8 1116.0,854.9 1116.5,857.1 1117.0,859.7 1117.5,859.0 1118.0,856.0 1118.5,855.5 1119.0,858.7 1119.5,860.0 1120.0,856.9 1120.5,858.2 1121.0,858.3 1121.5,858.8 1122.0,858.4 1122.5,859.0 1123.0,859.5 1123.5,858.1 1124.0,858.6 1124.5,859.8 1125.0,855.9 1125.5,855.5 1126.0,857.0 1126.5,858.2 1127.0,855.7 1127.5,856.3 1128.0,854.1 1128.5,855.0 1129.0,852.5 1129.5,853.4 1130.0,852.3 1130.5,851.5 1131.0,851.7 1131.5,850.3 1132.0,847.1 1132.5,847.5 1133.0,842.9 1133.5,844.2 1134.0,844.1 1134.5,838.7 1135.0,835.4 1135.5,830.9 1136.0,827.0 1136.5,819.5 1137.0,813.6 1137.5,803.6 1138.0,792.7 1138.5,780.5 1139.0,765.1 1139.5,745.2 1140.0,729.1 1140.5,703.0 1141.0,674.1 1141.5,647.6 1142.0,613.6 1142.5,578.8 1143.0,542.2 1143.5,501.8 1144.0,460.4 1144.5,425.6 1145.0,389.6 1145.5,357.5 1146.0,327.5 1146.5,306.6 1147.0,294.0 1147.5,288.6 1148.0,295.1 1148.5,314.2 1149.0,341.6 1149.5,381.5 1150.0,420.7 1150.5,467.0 1151.0,512.4 1151.5,556.9 1152.0,601.1 1152.5,641.2 1153.0,677.4 1153.5,707.9 1154.0,733.9 1154.5,758.7 1155.0,775.2 1155.5,792.9 1156.0,806.4 1156.5,816.8 1157.0,823.0 1157.5,829.1 1158.0,838.0 1158.5,839.5 1159.0,841.4 1159.5,844.6 1160.0,848.3 1160.5,851.5 1161.0,851.6 1161.5,854.4 1162.0,854.4 1162.5,855.7 1163.0,857.3 1163.5,856.5 1164.0,858.1 1164.5,858.0 1165.0,858.3 1165.5,860.5 1166.0,859.3 1166.5,860.9 1167.0,860.3 1167.5,861.6 1168.0,861.4 1168.5,863.8 1169.0,862.9 1169.5,863.2 1170.0,865.4 1170.5,860.2 1171.0,862.6 1171.5,860.9 1172.0,864.4 1172.5,865.1 1173.0,865.4 1173.5,865.1 1174.0,863.8 1174.5,867.0 1175.0,865.3 1175.5,864.6 1176.0,863.6 1176.5,865.4 1177.0,864.3 1177.5,864.3 1178.0,865.0 1178.5,864.9 1179.0,863.6 1179.5,866.0 1180.0,863.2 1180.5,863.0 1181.0,864.6 1181.5,864.3 1182.0,864.1 1182.5,863.5 1183.0,863.9 1183.5,863.1 1184.0,861.8 1184.5,864.6 1185.0,862.5 1185.5,863.4 1186.0,864.5 1186.5,863.6 1187.0,866.8 1187.5,861.7 1188.0,862.4 1188.5,863.4 1189.0,864.8 1189.5,862.8 1190.0,861.3 1190.5,864.3 1191.0,861.8 1191.5,862.6 1192.0,863.8 1192.5,861.8 1193.0,862.0 1193.5,863.0 1194.0,862.1 1194.5,862.6 1195.0,861.0 1195.5,861.9 1196.0,860.6 1196.5,859.9 1197.0,863.8 1197.5,862.1 1198.0,862.5 1198.5,860.1 1199.0,861.1 1199.5,860.8 1200.0,859.1 1200.5,861.4 1201.0,859.7 1201.5,860.1 1202.0,858.4 1202.5,861.2 1203.0,860.8 1203.5,860.1 1204.0,858.3 1204.5,858.6 1205.0,860.5 1205.5,858.4 1206.0,858.8 1206.5,858.4 1207.0,856.6 1207.5,859.5 1208.0,854.9 1208.5,857.2 1209.0,856.5 1209.5,854.2 1210.0,856.1 1210.5,855.8 1211.0,854.7 1211.5,853.0 1212.0,853.8 1212.5,853.7 1213.0,851.7 1213.5,852.3 1214.0,849.9 1214.5,848.1 1215.0,846.8 1215.5,841.7 1216.0,838.7 1216.5,836.0 1217.0,831.1 1217.5,826.3 1218.0,818.5 1218.5,808.5 1219.0,797.9 1219.5,784.7 1220.0,769.9 1220.5,752.9 1221.0,735.4 1221.5,712.6 1222.0,689.5 1222.5,665.2 1223.0,638.3 1223.5,612.0 1224.0,583.1 1224.5,560.7 1225.0,536.6 1225.5,517.3 1226.0,502.2 1226.5,489.9 1227.0,491.7 1227.5,493.8 1228.0,507.5 1228.5,526.3 1229.0,555.8 1229.5,585.6 1230.0,616.4 1230.5,648.9 1231.0,680.8 1231.5,707.5 1232.0,732.7 1232.5,758.4 1233.0,776.9 1233.5,793.1 1234.0,810.0 1234.5,818.7 1235.0,827.3 1235.5,835.0 1236.0,839.8 1236.5,845.0 1237.0,848.3 1237.5,850.0 1238.0,852.6 1238.5,855.0 1239.0,856.4 1239.5,857.8 1240.0,859.0 1240.5,859.2 1241.0,860.3 1241.5,859.8 1242.0,860.5 1242.5,862.6 1243.0,859.4 1243.5,862.6 1244.0,866.2 1244.5,860.4 1245.0,864.6 1245.5,860.7 1246.0,863.2 1246.5,864.6 1247.0,864.4 1247.5,861.4 1248.0,860.8 1248.5,860.5 1249.0,863.0 1249.5,861.6 1250.0,862.1 1250.5,862.4 1251.0,862.6 1251.5,862.7 1252.0,862.1 1252.5,859.9 1253.0,863.5 1253.5,858.2 1254.0,862.8 1254.5,860.2 1255.0,860.3 1255.5,859.3 1256.0,858.8 1256.5,858.3 1257.0,856.9 1257.5,854.4 1258.0,855.0 1258.5,851.1 1259.0,850.8 1259.5,846.0 1260.0,841.8 1260.5,839.0 1261.0,835.0 1261.5,827.8 1262.0,823.1 1262.5,819.5 1263.0,810.7 1263.5,805.1 1264.0,800.8 1264.5,794.2 1265.0,788.7 1265.5,786.8 1266.2,787.8 1267.0,790.2 1267.5,793.4 1268.0,797.5 1268.5,800.7 1269.0,808.7 1269.5,815.2 1270.0,818.9 1270.5,826.7 1271.0,830.6 1271.5,836.3 1272.0,841.1 1272.5,843.0 1273.0,850.1 1273.5,850.4 1274.0,853.9 1274.5,855.6 1275.0,858.5 1275.5,860.0 1276.0,860.7 1276.5,863.3 1277.0,862.7 1277.5,862.5 1278.0,860.0 1278.5,863.6 1279.0,863.9 1279.5,863.4 1280.0,863.6 1280.5,865.5 1281.0,866.2 1281.5,867.3 1282.0,866.4 1282.5,864.1 1283.0,865.2 1283.5,863.1 1284.0,865.4 1284.5,864.6 1285.0,862.9 1285.5,862.8 1286.0,861.8 1286.5,860.3 1287.0,861.4 1287.5,862.1 1288.0,857.7 1288.5,856.2 1289.0,853.3 1289.5,850.8 1290.0,852.2 1290.5,847.8 1291.4,847.6 1292.0,847.4 1292.5,849.1 1293.0,849.7 1293.5,852.1 1294.0,851.5 1294.5,854.6 1295.0,858.0 1295.5,856.5 1296.0,858.1 1296.5,861.6 1297.0,861.2 1297.5,862.5 1298.0,858.9 1298.5,861.9 1299.0,860.2 1299.5,860.0 1300.0,861.9 1300.5,862.5 1301.0,858.9 1301.5,858.7 1302.0,858.7 1302.5,858.3 1303.0,855.8 1303.5,858.8 1304.0,855.1 1304.5,851.9 1305.0,849.1 1305.5,849.4 1306.0,845.3 1306.5,837.1 1307.0,832.2 1307.5,826.1 1308.0,814.6 1308.5,805.1 1309.0,795.7 1309.5,779.7 1310.0,764.8 1310.5,746.9 1311.0,729.2 1311.5,711.3 1312.0,689.1 1312.5,667.7 1313.0,647.9 1313.5,631.2 1314.0,611.6 1314.5,595.8 1315.0,585.5 1315.9,577.7 1316.5,582.5 1317.0,592.1 1317.5,611.9 1318.0,632.6 1318.5,657.6 1319.0,679.7 1319.5,707.2 1320.0,728.8 1320.5,749.2 1321.0,772.5 1321.5,787.6 1322.0,803.6 1322.5,815.5 1323.0,827.3 1323.5,835.7 1324.0,842.4 1324.5,847.2 1325.0,848.5 1325.5,851.7 1326.0,856.4 1326.5,857.0 1327.0,860.3 1327.5,861.2 1328.0,860.3 1328.5,861.6 1329.0,862.2 1329.5,863.1 1330.0,864.4 1330.5,865.9 1331.0,867.0 1331.5,864.5 1332.0,865.2 1332.5,867.9 1333.0,867.2 1333.5,866.5 1334.0,863.4 1334.5,865.1 1335.0,866.6 1335.5,865.7 1336.0,868.8 1336.5,866.6 1337.0,866.8 1337.5,865.2 1338.0,865.3 1338.5,865.9 1339.0,866.0 1339.5,866.5 1340.0,867.3 1340.5,867.2 1341.0,868.1 1341.5,865.3 1342.0,867.2 1342.5,867.3 1343.0,868.9 1343.5,866.7 1344.0,867.4 1344.5,866.0 1345.0,867.5 1345.5,867.4 1346.0,866.1 1346.5,866.3 1347.0,866.7 1347.5,867.4 1348.0,865.2 1348.5,867.5 1349.0,865.8 1349.5,868.3 1350.0,867.4 1350.5,864.8 1351.0,864.0 1351.5,867.1 1352.0,864.1 1352.5,863.1 1353.0,860.7 1353.5,859.6 1354.0,859.1 1354.5,856.9 1355.0,852.8 1355.5,852.8 1356.0,848.7 1356.5,844.1 1357.0,843.1 1357.5,838.2 1358.0,835.8 1358.5,830.7 1359.0,828.6 1359.5,823.4 1360.0,823.7 1360.5,820.0 1361.0,821.6 1361.5,818.8 1362.0,823.2 1362.5,826.4 1363.0,828.9 1363.5,833.0 1364.0,833.7 1364.5,840.5 1365.0,844.0 1365.5,844.0 1366.0,847.7 1366.5,850.9 1367.0,854.2 1367.5,856.7 1368.0,855.5 1368.5,860.9 1369.0,861.4 1369.5,861.6 1370.0,865.0 1370.5,864.3 1371.0,866.7 1371.5,866.5 1372.0,865.9 1372.5,868.1 1373.0,867.9 1373.5,866.5 1374.0,865.4 1374.5,866.8 1375.0,868.4 1375.5,867.5 1376.0,870.0 1376.5,868.3 1377.0,868.3 1377.5,868.6 1378.0,867.1 1378.5,868.1 1379.0,867.5 1379.5,865.5 1380.0,866.2 1380.5,869.2 1381.0,867.7 1381.5,868.0 1382.0,866.2 1382.5,867.1 1383.0,868.6 1383.5,867.5 1384.0,866.6 1384.5,868.8 1385.0,866.6 1385.5,866.0 1386.0,867.5 1386.5,863.7 1387.0,866.2 1387.5,863.9 1388.0,864.0 1388.5,863.8 1389.0,864.5 1389.5,864.3 1390.0,864.2 1390.5,863.9 1391.0,865.2 1391.5,865.3 1392.0,863.9 1392.5,863.9 1393.0,862.3 1393.5,861.4 1394.0,863.4 1394.5,862.7 1395.0,863.8 1395.5,860.5 1396.0,866.1 1396.5,861.4 1397.0,863.1 1397.5,864.4 1398.0,861.6 1398.5,862.8 1399.0,861.2 1399.5,862.1 1400.0,861.6 1400.5,864.2 1401.0,864.5 1401.5,863.9 1402.0,865.9 1402.5,866.1 1403.0,864.4 1403.5,864.0 1404.0,863.9 1404.5,863.5 1405.0,865.3 1405.5,863.7 1406.0,862.5 1406.5,862.0 1407.0,862.2 1407.5,860.2 1408.0,859.9 1408.5,858.1 1409.0,858.0 1409.5,855.7 1410.0,850.0 1410.5,848.4 1411.0,845.7 1411.5,840.1 1412.0,836.6 1412.5,830.5 1413.0,824.7 1413.5,817.2 1414.0,810.5 1414.5,803.4 1415.0,793.6 1415.5,787.1 1416.0,780.4 1416.5,778.1 1417.0,772.1 1417.9,769.1 1418.5,770.2 1419.0,772.7 1419.5,777.2 1420.0,785.2 1420.5,790.6 1421.0,800.2 1421.5,806.0 1422.0,813.1 1422.5,819.7 1423.0,826.4 1423.5,832.4 1424.0,839.5 1424.5,845.2 1425.0,845.0 1425.5,850.1 1426.0,853.5 1426.5,854.0 1427.0,856.2 1427.5,858.0 1428.0,856.9 1428.5,861.6 1429.0,861.5 1429.5,862.1 1430.0,862.8 1430.5,863.3 1431.0,866.1 1431.5,863.7 1432.0,864.6 1432.5,863.0 1433.0,864.1 1433.5,863.2 1434.0,863.2 1434.5,862.0 1435.0,861.7 1435.5,862.6 1436.0,862.2 1436.5,860.9 1437.0,858.4 1437.5,858.1 1438.0,852.9 1438.5,855.0 1439.0,851.4 1439.5,849.0 1440.0,847.0 1440.5,841.8 1441.0,839.8 1441.5,834.4 1442.0,831.8 1442.5,826.9 1443.0,824.3 1443.5,822.7 1444.0,817.9 1444.5,816.5 1445.0,816.3 1445.5,817.6 1446.0,822.1 1446.5,820.5 1447.0,821.8 1447.5,827.0 1448.0,829.7 1448.5,834.8 1449.0,839.3 1449.5,841.8 1450.0,845.6 1450.5,847.3 1451.0,852.6 1451.5,854.0 1452.0,858.4 1452.5,860.2 1453.0,859.5 1453.5,861.4 1454.0,863.0 1454.5,864.7 1455.0,862.5 1455.5,865.0 1456.0,867.8 1456.5,865.8 1457.0,866.4 1457.5,866.4 1458.0,865.1 1458.5,867.9 1459.0,867.2 1459.5,867.1 1460.0,867.8 1460.5,867.9 1461.0,864.7 1461.5,867.5 1462.0,866.2 1462.5,867.0 1463.0,865.8 1463.5,865.4 1464.0,867.3 1464.5,865.8 1465.0,865.0 1465.5,864.5 1466.0,864.2 1466.5,863.3 1467.0,859.6 1467.5,860.3 1468.0,859.9 1468.5,859.7 1469.0,858.9 1469.5,854.5 1470.0,856.2 1470.5,852.1 1471.0,850.7 1471.5,847.7 1472.0,845.8 1472.5,846.6 1473.0,843.2 1473.5,842.2 1474.0,843.0 1474.6,843.4 1475.5,840.3 1476.0,842.9 1476.5,844.5 1477.0,848.3 1477.5,850.9 1478.0,849.7 1478.5,852.2 1479.0,854.7 1479.5,856.9 1480.0,856.8 1480.5,859.9 1481.0,859.5 1481.5,858.5 1482.0,861.2 1482.5,864.2 1483.0,865.8 1483.5,862.9 1484.0,864.1 1484.5,866.8 1485.0,863.3 1485.5,868.4 1486.0,869.3 1486.5,864.8 1487.0,869.5 1487.5,868.5 1488.0,870.6 1488.5,869.4 1489.0,868.9 1489.5,869.4 1490.0,870.5 1490.5,869.7 1491.0,869.6 1491.5,867.9 1492.0,870.3 1492.5,869.8 1493.0,872.0 1493.5,869.8 1494.0,869.8 1494.5,869.2 1495.0,870.9 1495.5,869.8 1496.0,869.2 1496.5,872.0 1497.0,872.3 1497.5,869.6 1498.0,869.0 1498.5,871.6 1499.0,869.3 1499.5,873.7 1500.0,870.2 1500.5,871.5 1501.0,868.8 1501.5,870.4 1502.0,871.8 1502.5,871.0 1503.0,869.8 1503.5,873.5 1504.0,871.4 1504.5,870.3 1505.0,869.9 1505.5,870.3 1506.0,872.3 1506.5,869.7 1507.0,870.7 1507.5,869.7 1508.0,872.2 1508.5,870.5 1509.0,871.8 1509.5,871.5 1510.0,870.1 1510.5,871.7 1511.0,872.0 1511.5,869.5 1512.0,871.7 1512.5,875.2 1513.0,870.5 1513.5,871.7 1514.0,869.3 1514.5,871.5 1515.0,870.2 1515.5,871.9 1516.0,870.9 1516.5,869.6 1517.0,872.3 1517.5,870.7 1518.0,869.8 1518.5,871.1 1519.0,869.9 1519.5,871.5 1520.0,871.0 1520.5,870.6 1521.0,871.9 1521.5,869.5 1522.0,872.3 1522.5,868.7 1523.0,873.0 1523.5,871.3 1524.0,870.8 1524.5,870.2 1525.0,871.7 1525.5,870.9 1526.0,870.8 1526.5,872.2 1527.0,870.4 1527.5,870.6 1528.0,871.4 1528.5,872.1 1529.0,870.6 1529.5,870.9 1530.0,870.7 1530.5,871.4 1531.0,872.3 1531.5,869.2 1532.0,870.1 1532.5,870.1 1533.0,870.8 1533.5,871.8 1534.0,869.9 1534.5,870.1 1535.0,871.1 1535.5,868.1 1536.0,868.6 1536.5,868.9 1537.0,869.3 1537.5,869.5 1538.0,868.5 1538.5,871.1 1539.0,868.1 1539.5,868.6 1540.0,870.0 1540.5,869.6 1541.0,868.5 1541.5,868.9 1542.0,869.3 1542.5,868.2 1543.0,869.0 1543.5,867.0 1544.0,868.1 1544.5,865.9 1545.0,866.8 1545.5,866.4 1546.0,869.3 1546.5,867.1 1547.0,868.0 1547.5,866.5 1548.0,867.3 1548.5,867.2 1549.0,866.5 1549.5,868.5 1550.0,865.4 1550.5,868.2 1551.0,870.7 1551.5,866.5 1552.0,867.5 1552.5,865.6 1553.0,867.4 1553.5,865.4 1554.0,868.3 1554.5,866.9 1555.0,865.3 1555.5,866.0 1556.0,865.6 1556.5,867.3 1557.0,868.7 1557.5,867.2 1558.0,866.3 1558.5,866.7 1559.0,867.9 1559.5,864.8 1560.0,868.6 1560.5,868.4 1561.0,864.9 1561.5,869.4 1562.0,866.0 1562.5,867.8 1563.0,869.6 1563.5,866.2 1564.0,866.0 1564.5,866.9 1565.0,867.0 1565.5,868.2 1566.0,867.8 1566.5,867.9 1567.0,867.9 1567.5,868.3 1568.0,867.6 1568.5,869.1 1569.0,868.7 1569.5,867.5 1570.0,871.1 1570.5,867.3 1571.0,869.8 1571.5,868.0 1572.0,869.4 1572.5,869.7 1573.0,870.1 1573.5,870.9 1574.0,868.1 1574.5,872.7 1575.0,869.7 1575.5,868.2 1576.0,867.6 1576.5,872.2 1577.0,871.3 1577.5,869.3 1578.0,870.3 1578.5,871.0 1579.0,869.5 1579.5,868.9 1580.0,869.3 1580.5,870.4 1581.0,869.4 1581.5,867.9 1582.0,870.3 1582.5,867.2 1583.0,868.4 1583.5,870.8 1584.0,869.5 1584.5,869.4 1585.0,869.2 1585.5,870.2 1586.0,868.8 1586.5,866.3 1587.0,868.8 1587.5,864.5 1588.0,865.4 1588.5,869.5 1589.0,868.4 1589.5,866.0 1590.0,865.8 1590.5,865.2 1591.0,865.3 1591.5,861.9 1592.0,860.2 1592.5,858.7 1593.0,857.4 1593.5,854.9 1594.0,851.0 1594.5,848.8 1595.0,842.5 1595.5,838.9 1596.0,832.8 1596.5,826.6 1597.0,822.9 1597.5,814.2 1598.0,806.2 1598.5,800.2 1599.0,791.6 1599.5,786.4 1600.0,780.2 1600.5,774.6 1601.0,767.4 1601.5,765.3 1602.2,766.0 1603.0,765.9 1603.5,771.4 1604.0,776.7 1604.5,779.2 1605.0,789.2 1605.5,795.9 1606.0,803.5 1606.5,812.0 1607.0,817.6 1607.5,824.0 1608.0,831.1 1608.5,835.7 1609.0,842.1 1609.5,843.7 1610.0,852.5 1610.5,853.3 1611.0,857.7 1611.5,860.1 1612.0,862.0 1612.5,863.9 1613.0,865.4 1613.5,864.5 1614.0,866.9 1614.5,869.9 1615.0,867.9 1615.5,868.5 1616.0,872.9 1616.5,872.2 1617.0,872.9 1617.5,871.3 1618.0,871.9 1618.5,872.6 1619.0,872.6 1619.5,871.9 1620.0,870.3 1620.5,871.3 1621.0,870.4 1621.5,874.2 1622.0,871.8 1622.5,872.1 1623.0,872.6 1623.5,872.3 1624.0,872.9 1624.5,871.4 1625.0,870.3 1625.5,874.2 1626.0,871.2 1626.5,871.4 1627.0,871.0 1627.5,871.2 1628.0,871.8 1628.5,872.7 1629.0,870.4 1629.5,872.0 1630.0,870.7 1630.5,873.0 1631.0,869.9 1631.5,871.5 1632.0,872.2 1632.5,869.7 1633.0,871.4 1633.5,871.4 1634.0,870.3 1634.5,871.0 1635.0,872.4 1635.5,871.5 1636.0,870.7 1636.5,871.0 1637.0,871.8 1637.5,872.8 1638.0,872.3 1638.5,872.2 1639.0,873.2 1639.5,869.4 1640.0,869.6 1640.5,868.5 1641.0,872.3 1641.5,868.5 1642.0,871.2 1642.5,872.2 1643.0,869.6 1643.5,870.4 1644.0,870.9 1644.5,872.1 1645.0,869.3 1645.5,871.5 1646.0,871.9 1646.5,871.2 1647.0,871.2 1647.5,872.4 1648.0,871.1 1648.5,870.7 1649.0,870.2 1649.5,871.3 1650.0,870.0 1650.5,871.0 1651.0,870.1 1651.5,871.1 1652.0,868.4 1652.5,869.1 1653.0,869.1 1653.5,868.7 1654.0,869.0 1654.5,867.5 1655.0,867.5 1655.5,868.0 1656.0,865.8 1656.5,862.7 1657.0,861.3 1657.5,862.9 1658.0,860.6 1658.5,860.4 1659.0,858.8 1659.5,859.7 1660.0,858.7 1660.5,855.1 1661.0,856.1 1661.5,855.0 1662.3,853.4 1663.0,856.0 1663.5,855.4 1664.0,856.6 1664.5,859.8 1665.0,859.2 1665.5,859.8 1666.0,858.9 1666.5,858.9 1667.0,862.8 1667.5,861.8 1668.0,863.1 1668.5,863.5 1669.0,864.8 1669.5,868.3 1670.0,865.6 1670.5,866.2 1671.0,867.3 1671.5,867.8 1672.0,866.4 1672.5,866.0 1673.0,867.7 1673.5,868.3 1674.0,867.8 1674.5,867.7 1675.0,867.9 1675.5,868.6 1676.0,869.0 1676.5,867.2 1677.0,868.5 1677.5,869.6 1678.0,869.1 1678.5,867.6 1679.0,868.8 1679.5,869.1 1680.0,870.1 1680.5,867.2 1681.0,869.9 1681.5,868.5 1682.0,869.2 1682.5,869.8 1683.0,867.9 1683.5,867.9 1684.0,868.7 1684.5,869.6 1685.0,868.0 1685.5,866.9 1686.0,867.7 1686.5,868.9 1687.0,869.7 1687.5,867.6 1688.0,867.7 1688.5,867.8 1689.0,867.7 1689.5,866.6 1690.0,867.0 1690.5,867.6 1691.0,867.3 1691.5,867.0 1692.0,865.6 1692.5,865.9 1693.0,865.4 1693.5,867.2 1694.0,867.4 1694.5,865.7 1695.0,866.8 1695.5,864.1 1696.0,863.5 1696.5,861.7 1697.0,862.8 1697.5,861.0 1698.0,860.6 1698.5,859.7 1699.0,857.2 1699.5,854.1 1700.0,852.9 1700.5,849.9 1701.0,846.5 1701.5,843.0 1702.0,837.0 1702.5,831.2 1703.0,826.9 1703.5,818.6 1704.0,808.9 1704.5,798.7 1705.0,789.5 1705.5,780.1 1706.0,770.1 1706.5,761.3 1707.0,747.8 1707.5,738.8 1708.0,730.0 1708.5,724.0 1709.0,719.1 1709.5,716.5 1710.0,719.8 1710.5,721.9 1711.0,728.5 1711.5,733.2 1712.0,741.9 1712.5,750.5 1713.0,755.6 1713.5,763.7 1714.0,772.7 1714.5,777.1 1715.0,778.5 1715.5,781.7 1716.0,781.6 1716.5,780.8 1717.0,780.2 1717.5,773.3 1718.0,771.2 1718.5,762.8 1719.0,756.8 1719.5,754.8 1720.0,751.0 1720.7,751.0 1721.5,757.1 1722.0,762.4 1722.5,770.7 1723.0,776.5 1723.5,787.4 1724.0,798.7 1724.5,808.0 1725.0,817.6 1725.5,824.3 1726.0,833.5 1726.5,840.9 1727.0,844.7 1727.5,849.5 1728.0,852.9 1728.5,856.4 1729.0,858.0 1729.5,859.0 1730.0,861.4 1730.5,862.5 1731.0,861.4 1731.5,864.2 1732.0,864.5 1732.5,865.1 1733.0,864.4 1733.5,865.7 1734.0,865.8 1734.5,864.1 1735.0,865.0 1735.5,865.1 1736.0,864.4 1736.5,861.6 1737.0,860.4 1737.5,860.5 1738.0,857.7 1738.5,860.3 1739.0,854.5 1739.5,852.4 1740.0,851.9 1740.5,848.2 1741.0,843.6 1741.5,843.7 1742.0,840.4 1742.5,838.9 1743.0,835.8 1743.5,835.3 1744.4,835.1 1745.0,835.6 1745.5,835.3 1746.0,837.3 1746.5,839.0 1747.0,842.3 1747.5,844.3 1748.0,845.4 1748.5,850.0 1749.0,850.7 1749.5,854.1 1750.0,854.6 1750.5,857.8 1751.0,858.9 1751.5,860.6 1752.0,862.3 1752.5,863.3 1753.0,863.8 1753.5,864.5 1754.0,863.4 1754.5,865.3 1755.0,863.1 1755.5,863.4 1756.0,865.9 1756.5,866.2 1757.0,868.3 1757.5,867.5 1758.0,868.1 1758.5,866.5 1759.0,867.4 1759.5,868.3 1760.0,867.6 1760.5,867.4 1761.0,867.1 1761.5,866.0 1762.0,866.0 1762.5,865.4 1763.0,867.6 1763.5,866.8 1764.0,866.4 1764.5,867.7 1765.0,866.6 1765.5,868.6 1766.0,869.7 1766.5,868.1 1767.0,866.8 1767.5,866.0 1768.0,870.3 1768.5,868.6 1769.0,866.8 1769.5,869.6 1770.0,866.5 1770.5,868.2 1771.0,868.6 1771.5,868.6 1772.0,867.8 1772.5,872.2 1773.0,869.0 1773.5,870.1 1774.0,869.8 1774.5,868.0 1775.0,869.3 1775.5,870.3 1776.0,871.2 1776.5,869.8 1777.0,870.6 1777.5,869.8 1778.0,870.9 1778.5,867.2 1779.0,870.8 1779.5,869.3 1780.0,869.2 1780.5,866.5 1781.0,868.5 1781.5,870.3 1782.0,872.2 1782.5,868.4 1783.0,868.1 1783.5,869.2 1784.0,868.5 1784.5,867.0 1785.0,866.9 1785.5,865.9 1786.0,866.2 1786.5,865.4 1787.0,865.4 1787.5,863.0 1788.0,861.2 1788.5,859.0 1789.0,858.2 1789.5,854.0 1790.0,855.8 1790.5,851.7 1791.0,851.1 1791.5,846.7 1792.0,847.4 1792.5,845.4 1793.0,843.9 1793.6,843.0 1794.5,843.5 1795.0,847.8 1795.5,848.6 1796.0,848.9 1796.5,850.9 1797.0,851.7 1797.5,852.3 1798.0,854.3 1798.5,857.5 1799.0,859.8 1799.5,860.1 1800.0,863.9 1800.5,864.8 1801.0,865.4 1801.5,864.1 1802.0,866.7 1802.5,867.6 1803.0,866.7 1803.5,866.0 1804.0,871.3 1804.5,870.1 1805.0,869.1 1805.5,871.7 1806.0,871.3 1806.5,870.6 1807.0,870.5 1807.5,871.2 1808.0,872.1 1808.5,870.5 1809.0,870.2 1809.5,871.2 1810.0,867.2 1810.5,870.7 1811.0,870.1 1811.5,870.6 1812.0,870.4 1812.5,871.1 1813.0,870.8 1813.5,870.7 1814.0,870.5 1814.5,871.2 1815.0,870.0 1815.5,871.8 1816.0,868.5 1816.5,870.8 1817.0,871.0 1817.5,868.9 1818.0,869.8 1818.5,871.8 1819.0,870.0 1819.5,868.9 1820.0,866.3 1820.5,870.0 1821.0,869.5 1821.5,869.8 1822.0,871.2 1822.5,868.3 1823.0,868.0 1823.5,866.4 1824.0,866.4 1824.5,865.7 1825.0,865.7 1825.5,864.4 1826.0,861.7 1826.5,860.9 1827.0,861.8 1827.5,857.6 1828.0,858.3 1828.5,857.9 1829.0,855.4 1829.5,853.7 1830.0,853.9 1830.5,851.8 1831.0,850.7 1831.7,850.2 1832.5,852.2 1833.0,852.3 1833.5,854.2 1834.0,853.1 1834.5,854.4 1835.0,855.6 1835.5,857.8 1836.0,858.0 1836.5,861.2 1837.0,861.8 1837.5,861.4 1838.0,860.1 1838.5,862.4 1839.0,867.2 1839.5,866.1 1840.0,867.0 1840.5,866.9 1841.0,868.3 1841.5,866.0 1842.0,866.2 1842.5,866.9 1843.0,869.1 1843.5,870.1 1844.0,870.0 1844.5,869.3 1845.0,868.0 1845.5,870.6 1846.0,869.4 1846.5,869.7 1847.0,869.7 1847.5,869.3 1848.0,869.0 1848.5,869.2 1849.0,868.3 1849.5,870.2 1850.0,869.7 1850.5,871.1 1851.0,867.7 1851.5,871.3 1852.0,869.8 1852.5,869.7 1853.0,868.9 1853.5,868.9 1854.0,868.1 1854.5,870.9 1855.0,869.6 1855.5,870.7 1856.0,870.8 1856.5,869.2 1857.0,869.5 1857.5,869.3 1858.0,870.9 1858.5,869.8 1859.0,869.8 1859.5,870.5 1860.0,869.5 1860.5,872.0 1861.0,868.3 1861.5,870.9 1862.0,871.0 1862.5,867.9 1863.0,870.3 1863.5,869.5 1864.0,870.1 1864.5,867.5 1865.0,869.2 1865.5,867.6 1866.0,868.3 1866.5,870.2 1867.0,868.2 1867.5,865.6 1868.0,866.4 1868.5,866.6 1869.0,869.0 1869.5,866.7 1870.0,865.5 1870.5,868.5 1871.0,867.2 1871.5,867.1 1872.0,865.5 1872.5,867.8 1873.0,865.6 1873.5,863.0 1874.0,863.6 1874.5,863.4 1875.0,863.6 1875.5,863.9 1876.0,861.2 1876.5,860.2 1877.0,862.1 1877.5,857.9 1878.0,855.0 1878.5,853.1 1879.0,848.5 1879.5,847.1 1880.0,843.4 1880.5,836.7 1881.0,833.1 1881.5,825.5 1882.0,819.7 1882.5,811.5 1883.0,804.2 1883.5,796.1 1884.0,791.2 1884.5,784.1 1885.0,778.6 1885.5,773.4 1886.4,770.2 1887.0,772.2 1887.5,776.6 1888.0,781.1 1888.5,785.7 1889.0,793.5 1889.5,802.3 1890.0,807.5 1890.5,816.8 1891.0,821.6 1891.5,828.9 1892.0,832.4 1892.5,839.5 1893.0,841.1 1893.5,846.6 1894.0,849.1 1894.5,849.8 1895.0,852.7 1895.5,857.4 1896.0,857.9 1896.5,859.8 1897.0,859.1 1897.5,855.7 1898.0,859.5 1898.5,858.3 1899.0,857.9 1899.5,857.1 1900.0,855.6 1900.5,853.8 1901.0,854.5 1901.5,851.2 1902.0,847.0 1902.5,843.9 1903.0,841.6 1903.5,836.5 1904.0,831.4 1904.5,824.5 1905.0,819.9 1905.5,813.3 1906.0,806.8 1906.5,804.8 1907.0,798.5 1907.5,794.5 1908.0,791.1 1908.7,791.7 1909.5,795.4 1910.0,796.7 1910.5,801.3 1911.0,803.8 1911.5,811.0 1912.0,816.8 1912.5,824.2 1913.0,828.0 1913.5,832.1 1914.0,838.0 1914.5,842.0 1915.0,848.1 1915.5,850.4 1916.0,852.8 1916.5,854.7 1917.0,857.2 1917.5,856.7 1918.0,856.8 1918.5,855.9 1919.0,859.3 1919.5,857.8 1920.0,857.0 1920.5,855.0 1921.0,855.5 1921.5,850.9 1922.0,852.0 1922.5,848.4 1923.0,848.1 1923.6,846.9 1924.5,849.9 1925.0,850.9 1925.5,853.6 1926.0,854.3 1926.5,855.4 1927.0,859.7 1927.5,862.4 1928.0,863.3 1928.5,863.8 1929.0,865.6 1929.5,864.0 1930.0,866.5 1930.5,868.9 1931.0,868.6 1931.5,867.4 1932.0,869.8 1932.5,868.9 1933.0,870.1 1933.5,867.7 1934.0,868.9 1934.5,870.1 1935.0,870.2 1935.5,870.6 1936.0,870.0 1936.5,869.8 1937.0,870.7 1937.5,871.2 1938.0,868.5 1938.5,870.0 1939.0,870.2 1939.5,870.6 1940.0,871.7 1940.5,869.0 1941.0,871.2 1941.5,868.6 1942.0,869.8 1942.5,870.1 1943.0,870.4 1943.5,870.0 1944.0,870.2 1944.5,870.4 1945.0,870.5 1945.5,868.6 1946.0,869.2 1946.5,870.3 1947.0,871.5 1947.5,872.1 1948.0,874.3 1948.5,871.0 1949.0,869.9 1949.5,871.1 1950.0,871.6 1950.5,871.0 1951.0,869.5 1951.5,870.6 1952.0,870.7 1952.5,869.0 1953.0,869.2 1953.5,872.1 1954.0,867.9 1954.5,870.7 1955.0,870.2 1955.5,872.1 1956.0,871.1 1956.5,869.3 1957.0,871.8 1957.5,869.6 1958.0,872.5 1958.5,872.1 1959.0,869.9 1959.5,870.9 1960.0,870.1 1960.5,868.8 1961.0,871.0 1961.5,870.2 1962.0,870.6 1962.5,870.8 1963.0,871.2 1963.5,870.6 1964.0,869.2 1964.5,869.3 1965.0,869.6 1965.5,868.9 1966.0,868.7 1966.5,871.1 1967.0,869.3 1967.5,870.9 1968.0,867.6 1968.5,868.3 1969.0,867.7 1969.5,867.5 1970.0,867.5 1970.5,867.4 1971.0,866.8 1971.5,869.2 1972.0,867.5 1972.5,865.4 1973.0,865.2 1973.5,866.1 1974.0,865.2 1974.5,862.9 1975.0,863.7 1975.5,859.5 1976.0,859.1 1976.5,859.7 1977.0,852.1 1977.5,852.1 1978.0,850.1 1978.5,844.8 1979.0,839.6 1979.5,834.4 1980.0,827.4 1980.5,822.2 1981.0,817.5 1981.5,810.2 1982.0,804.3 1982.5,797.8 1983.0,792.6 1983.5,785.5 1984.0,783.6 1984.8,781.2 1985.5,782.8 1986.0,785.3 1986.5,788.1 1987.0,796.9 1987.5,803.2 1988.0,811.4 1988.5,815.8 1989.0,823.1 1989.5,827.7 1990.0,831.9 1990.5,837.8 1991.0,839.9 1991.5,845.0 1992.0,847.3 1992.5,848.1 1993.0,852.0 1993.5,852.3 1994.0,851.2 1994.5,850.5 1995.0,849.7 1995.5,845.1 1996.0,840.7 1996.5,837.8 1997.0,836.2 1997.5,832.1 1998.0,826.9 1998.5,827.9 1999.3,825.2 2000.0,828.4 2000.5,830.4 2001.0,831.9 2001.5,836.4 2002.0,839.5 2002.5,843.5 2003.0,847.9 2003.5,852.3 2004.0,856.3 2004.5,856.2 2005.0,860.2 2005.5,861.1 2006.0,862.1 2006.5,864.7 2007.0,863.7 2007.5,866.3 2008.0,864.6 2008.5,864.1 2009.0,866.3 2009.5,863.7 2010.0,864.0 2010.5,865.1 2011.0,865.1 2011.5,864.5 2012.0,862.1 2012.5,862.4 2013.0,864.0 2013.5,863.2 2014.0,860.4 2014.5,860.7 2015.0,859.2 2015.5,858.4 2016.0,854.3 2016.5,854.5 2017.0,849.6 2017.5,848.5 2018.0,844.3 2018.5,838.0 2019.0,834.6 2019.5,830.7 2020.0,826.8 2020.5,818.9 2021.0,815.1 2021.5,811.6 2022.0,807.0 2022.5,801.3 2023.0,798.3 2023.5,797.7 2024.2,794.8 2025.0,797.9 2025.5,801.2 2026.0,803.5 2026.5,804.3 2027.0,813.5 2027.5,818.4 2028.0,823.7 2028.5,828.0 2029.0,829.8 2029.5,838.1 2030.0,841.2 2030.5,845.8 2031.0,848.1 2031.5,851.1 2032.0,853.9 2032.5,858.6 2033.0,859.1 2033.5,860.3 2034.0,860.5 2034.5,863.8 2035.0,864.3 2035.5,865.4 2036.0,867.1 2036.5,867.3 2037.0,867.0 2037.5,867.6 2038.0,867.8 2038.5,868.9 2039.0,869.1 2039.5,868.7 2040.0,867.7 2040.5,869.9 2041.0,870.1 2041.5,867.9 2042.0,869.8 2042.5,869.0 2043.0,866.9 2043.5,869.6 2044.0,870.9 2044.5,869.0 2045.0,869.1 2045.5,871.2 2046.0,868.8 2046.5,869.0 2047.0,869.9 2047.5,871.1 2048.0,871.1 2048.5,869.8 2049.0,870.2 2049.5,870.7 2050.0,870.2 2050.5,869.7 2051.0,869.5 2051.5,871.7 2052.0,870.7 2052.5,874.4 2053.0,871.8 2053.5,870.2 2054.0,871.2 2054.5,871.6 2055.0,871.8 2055.5,871.9 2056.0,871.9 2056.5,871.3 2057.0,872.3 2057.5,874.2 2058.0,871.1 2058.5,871.2 2059.0,872.6 2059.5,873.3 2060.0,872.8 2060.5,873.3 2061.0,871.9 2061.5,871.7 2062.0,872.8 2062.5,872.9 2063.0,874.1 2063.5,874.0 2064.0,870.0 2064.5,873.1 2065.0,871.4 2065.5,869.8 2066.0,872.8 2066.5,872.1 2067.0,871.9 2067.5,870.9 2068.0,871.2 2068.5,872.2 2069.0,870.7 2069.5,872.3 2070.0,872.6 2070.5,872.3 2071.0,872.9 2071.5,872.4 2072.0,871.1 2072.5,871.3 2073.0,872.7 2073.5,873.7 2074.0,872.7 2074.5,872.0 2075.0,872.8 2075.5,870.4 2076.0,871.4 2076.5,872.1 2077.0,872.5 2077.5,872.2 2078.0,872.3 2078.5,871.2 2079.0,871.9 2079.5,872.9 2080.0,870.4 2080.5,871.2 2081.0,872.2 2081.5,874.4 2082.0,873.4 2082.5,874.5 2083.0,874.2 2083.5,872.1 2084.0,872.5 2084.5,871.2 2085.0,874.0 2085.5,873.5 2086.0,873.3 2086.5,873.4 2087.0,873.1 2087.5,872.8 2088.0,872.9 2088.5,874.0 2089.0,871.6 2089.5,871.3 2090.0,872.6 2090.5,874.0 2091.0,872.9 2091.5,872.3 2092.0,873.6 2092.5,872.7 2093.0,870.3 2093.5,871.3 2094.0,870.0 2094.5,872.3 2095.0,872.0 2095.5,873.1 2096.0,875.0 2096.5,871.8 2097.0,872.5 2097.5,872.0 2098.0,869.1 2098.5,871.5 2099.0,871.5 2099.5,872.7 2100.0,871.2 2100.5,870.6 2101.0,872.7 2101.5,871.8 2102.0,870.7 2102.5,870.7 2103.0,871.1 2103.5,872.3 2104.0,872.9 2104.5,869.5 2105.0,872.2 2105.5,870.8 2106.0,870.9 2106.5,871.5 2107.0,869.0 2107.5,871.0 2108.0,868.3 2108.5,869.1 2109.0,868.5 2109.5,871.4 2110.0,871.2 2110.5,870.0 2111.0,869.6 2111.5,868.2 2112.0,870.9 2112.5,870.4 2113.0,869.7 2113.5,868.4 2114.0,868.1 2114.5,868.4 2115.0,870.1 2115.5,867.4 2116.0,868.8 2116.5,870.7 2117.0,869.9 2117.5,871.0 2118.0,869.6 2118.5,869.8 2119.0,871.1 2119.5,870.4 2120.0,870.3 2120.5,869.5 2121.0,868.5 2121.5,872.3 2122.0,870.3 2122.5,870.1 2123.0,872.3 2123.5,870.4 2124.0,870.1 2124.5,871.2 2125.0,872.0 2125.5,872.6 2126.0,873.1 2126.5,873.8 2127.0,872.7 2127.5,873.4 2128.0,872.9 2128.5,872.4 2129.0,873.7 2129.5,873.7 2130.0,875.5 2130.5,874.0 2131.0,872.4 2131.5,873.9 2132.0,872.8 2132.5,875.0 2133.0,871.0 2133.5,872.2 2134.0,872.1 2134.5,872.9 2135.0,872.5 2135.5,870.6 2136.0,870.1 2136.5,872.3 2137.0,873.6 2137.5,873.3 2138.0,870.7 2138.5,871.2 2139.0,869.1 2139.5,867.8 2140.0,870.2 2140.5,868.7 2141.0,866.5 2141.5,865.5 2142.0,865.9 2142.5,864.0 2143.0,862.1 2143.5,861.6 2144.0,860.2 2144.5,858.7 2145.0,857.6 2145.5,859.0 2146.1,857.1 2147.0,856.7 2147.5,860.9 2148.0,861.1 2148.5,861.2 2149.0,861.6 2149.5,863.1 2150.0,862.2 2150.5,865.0 2151.0,866.4 2151.5,866.7 2152.0,868.3 2152.5,867.6 2153.0,869.4 2153.5,867.8 2154.0,870.1 2154.5,869.7 2155.0,869.2 2155.5,870.5 2156.0,871.1 2156.5,870.5 2157.0,872.4 2157.5,870.5 2158.0,872.4 2158.5,872.2 2159.0,870.5 2159.5,872.9 2160.0,869.5 2160.5,871.6 2161.0,870.9 2161.5,871.5 2162.0,868.5 2162.5,868.7 2163.0,868.7 2163.5,869.3 2164.0,868.8 2164.5,868.0 2165.0,866.8 2165.5,865.2 2166.0,863.2 2166.5,862.7 2167.0,862.1 2167.5,860.6 2168.0,856.4 2168.5,855.6 2169.0,849.9 2169.5,849.3 2170.0,843.8 2170.5,842.0 2171.0,837.2 2171.5,834.0 2172.0,831.7 2172.5,831.7 2173.0,827.6 2173.7,828.1 2174.5,828.7 2175.0,830.6 2175.5,832.9 2176.0,836.1 2176.5,837.1 2177.0,841.8 2177.5,845.5 2178.0,847.6 2178.5,851.7 2179.0,852.8 2179.5,857.4 2180.0,857.9 2180.5,860.4 2181.0,863.3 2181.5,865.0 2182.0,864.3 2182.5,865.1 2183.0,867.8 2183.5,863.9 2184.0,869.3 2184.5,869.7 2185.0,867.2 2185.5,870.1 2186.0,869.3 2186.5,869.5 2187.0,866.4 2187.5,868.6 2188.0,869.0 2188.5,868.8 2189.0,868.8 2189.5,868.9 2190.0,865.8 2190.5,868.8 2191.0,868.1 2191.5,868.6 2192.0,867.9 2192.5,868.1 2193.0,868.0 2193.5,869.3 2194.0,865.6 2194.5,867.8 2195.0,864.6 2195.5,862.8 2196.0,861.0 2196.5,862.5 2197.0,858.3 2197.5,859.6 2198.0,857.5 2198.5,854.9 2199.0,853.3 2199.5,853.3 2200.0,851.8 2200.5,851.7 2201.3,850.4 2202.0,850.3 2202.5,852.3 2203.0,851.4 2203.5,855.2 2204.0,855.8 2204.5,856.0 2205.0,857.7 2205.5,860.1 2206.0,859.9 2206.5,865.1 2207.0,865.8 2207.5,864.5 2208.0,866.7 2208.5,869.7 2209.0,868.9 2209.5,867.8 2210.0,867.0 2210.5,868.0 2211.0,871.7 2211.5,871.0 2212.0,869.3 2212.5,871.8 2213.0,870.7 2213.5,870.5 2214.0,870.7 2214.5,870.9 2215.0,873.4 2215.5,870.4 2216.0,871.0 2216.5,873.1 2217.0,873.3 2217.5,870.4 2218.0,873.9 2218.5,872.8 2219.0,869.7 2219.5,873.5 2220.0,869.6 2220.5,872.1 2221.0,869.9 2221.5,869.0 2222.0,872.1 2222.5,871.5 2223.0,870.7 2223.5,870.9 2224.0,870.4 2224.5,870.0 2225.0,868.8 2225.5,870.5 2226.0,869.5 2226.5,868.7 2227.0,867.8 2227.5,867.4 2228.0,865.1 2228.5,865.4 2229.0,863.3 2229.5,864.4 2230.0,859.7 2230.5,858.0 2231.0,855.8 2231.5,853.6 2232.0,849.6 2232.5,845.1 2233.0,843.3 2233.5,836.0 2234.0,831.6 2234.5,829.6 2235.0,820.5 2235.5,818.3 2236.0,813.8 2236.5,808.7 2237.0,807.7 2237.5,808.8 2238.0,806.8 2238.5,810.3 2239.0,814.7 2239.5,817.2 2240.0,822.3 2240.5,826.1 2241.0,831.1 2241.5,836.0 2242.0,841.1 2242.5,846.7 2243.0,850.1 2243.5,856.0 2244.0,857.5 2244.5,860.0 2245.0,864.8 2245.5,864.0 2246.0,864.9 2246.5,867.4 2247.0,867.1 2247.5,870.0 2248.0,871.7 2248.5,871.5 2249.0,870.7 2249.5,871.5 2250.0,872.6 2250.5,873.7 2251.0,872.0 2251.5,872.2 2252.0,874.2 2252.5,873.3 2253.0,873.6 2253.5,873.9 2254.0,872.5 2254.5,873.3 2255.0,874.9 2255.5,873.5 2256.0,873.5 2256.5,874.2 2257.0,874.3 2257.5,876.9 2258.0,873.0 2258.5,874.1 2259.0,876.4 2259.5,874.0 2260.0,874.4 2260.5,872.2 2261.0,875.0 2261.5,874.8 2262.0,874.7 2262.5,873.3 2263.0,873.8 2263.5,873.0 2264.0,873.7 2264.5,872.3 2265.0,872.8 2265.5,869.7 2266.0,870.3 2266.5,866.7 2267.0,869.3 2267.5,869.8 2268.0,868.1 2268.5,870.9 2269.0,866.8 2269.5,867.7 2270.0,867.3 2270.5,868.3 2271.0,868.9 2271.5,868.3 2272.0,869.5 2272.5,873.6 2273.0,871.4 2273.5,873.3 2274.0,871.1 2274.5,872.8 2275.0,873.8 2275.5,873.2 2276.0,872.9 2276.5,873.4 2277.0,873.7 2277.5,874.7 2278.0,875.1 2278.5,872.1 2279.0,871.1 2279.5,873.3 2280.0,873.4 2280.5,874.1 2281.0,874.3 2281.5,872.0 2282.0,875.0 2282.5,872.5 2283.0,869.7 2283.5,872.5 2284.0,871.1 2284.5,870.5 2285.0,867.5 2285.5,868.2 2286.0,867.8 2286.5,866.4 2287.0,866.3 2287.5,865.8 2288.0,864.8 2288.5,863.2 2289.0,860.1 2289.5,860.9 2290.0,857.7 2290.5,857.0 2291.0,854.4 2291.5,851.8 2292.0,849.8 2292.5,851.9 2293.0,850.3 2293.5,850.8 2294.0,851.9 2294.5,849.3 2295.0,849.5 2295.5,852.7 2296.0,853.7 2296.5,854.0 2297.0,854.8 2297.5,854.7 2298.0,857.7 2298.5,858.0 2299.0,860.5 2299.5,862.2 2300.0,861.4 2300.5,863.4 2301.0,864.0 2301.5,865.3 2302.0,867.0 2302.5,866.5 2303.0,867.0 2303.5,867.5 2304.0,866.4 2304.5,867.2 2305.0,867.9 2305.5,869.2 2306.0,869.4 2306.5,870.8 2307.0,866.9 2307.5,868.3 2308.0,866.4 2308.5,867.9 2309.0,866.7 2309.5,870.1 2310.0,869.7 2310.5,867.6 2311.0,869.4 2311.5,870.0 2312.0,871.2 2312.5,870.2 2313.0,869.5 2313.5,869.3 2314.0,870.3 2314.5,870.0 2315.0,869.2 2315.5,868.4 2316.0,871.2 2316.5,869.2 2317.0,869.8 2317.5,871.2 2318.0,870.3 2318.5,871.8 2319.0,869.2 2319.5,871.6 2320.0,869.2 2320.5,869.1 2321.0,869.8 2321.5,871.2 2322.0,870.4 2322.5,869.7 2323.0,873.0 2323.5,870.6 2324.0,871.8 2324.5,872.4 2325.0,871.8 2325.5,873.0 2326.0,873.5 2326.5,872.9 2327.0,874.5 2327.5,872.7 2328.0,872.4 2328.5,874.1 2329.0,872.9 2329.5,874.6 2330.0,874.2 2330.5,873.9 2331.0,875.2 2331.5,875.2 2332.0,871.1 2332.5,874.2 2333.0,874.8 2333.5,875.2 2334.0,874.0 2334.5,873.3 2335.0,874.8 2335.5,875.4 2336.0,872.2 2336.5,872.8 2337.0,873.9 2337.5,871.5 2338.0,873.8 2338.5,875.4 2339.0,873.1 2339.5,874.5 2340.0,873.1 2340.5,874.5 2341.0,874.5 2341.5,875.0 2342.0,873.2 2342.5,874.0 2343.0,872.7 2343.5,871.1 2344.0,872.8 2344.5,869.7 2345.0,870.0 2345.5,872.1 2346.0,869.8 2346.5,867.4 2347.0,868.7 2347.5,867.8 2348.0,868.6 2348.5,867.4 2349.0,870.1 2349.5,868.6 2350.0,871.5 2350.5,872.2 2351.0,873.3 2351.5,875.5 2352.0,871.3 2352.5,872.2 2353.0,872.7 2353.5,873.5 2354.0,875.4 2354.5,874.1 2355.0,873.9 2355.5,873.3 2356.0,874.0 2356.5,874.3 2357.0,874.7 2357.5,873.2 2358.0,874.8 2358.5,875.6 2359.0,875.4 2359.5,873.5 2360.0,876.0" fill="none" stroke="#0000ff" stroke-width="5.6" stroke-linejoin="round" stroke-linecap="round"/>
<path d="M152.0,1140.0L152.5,1143.0 153.0,1142.5 153.5,1142.7 154.0,1145.2 154.5,1138.0 155.0,1139.6 155.5,1137.8 156.0,1141.0 156.5,1144.0 157.0,1141.4 157.5,1142.8 158.0,1136.7 158.5,1142.0 159.0,1139.4 159.5,1146.3 160.0,1144.1 160.5,1144.3 161.0,1141.7 161.5,1143.5 162.0,1143.6 162.5,1141.1 163.0,1140.8 163.5,1141.8 164.0,1140.5 164.5,1140.6 165.0,1141.4 165.5,1140.3 166.0,1144.2 166.5,1138.2 167.0,1144.4 167.5,1140.7 168.0,1140.9 168.5,1138.9 169.0,1142.0 169.5,1141.8 170.0,1142.9 170.5,1141.1 171.0,1142.7 171.5,1147.1 172.0,1143.6 172.5,1141.1 173.0,1145.0 173.5,1142.3 174.0,1144.1 174.5,1144.2 175.0,1141.7 175.5,1137.8 176.0,1141.9 176.5,1144.2 177.0,1141.9 177.5,1144.0 178.0,1145.4 178.5,1141.6 179.0,1146.1 179.5,1147.1 180.0,1145.8 180.5,1146.1 181.0,1145.9 181.5,1148.9 182.0,1143.7 182.5,1143.3 183.0,1144.8 183.5,1141.0 184.0,1139.4 184.5,1141.2 185.0,1144.4 185.5,1144.7 186.0,1139.6 186.5,1138.8 187.0,1142.8 187.5,1143.1 188.0,1143.5 188.5,1145.4 189.0,1146.8 189.5,1144.3 190.0,1145.3 190.5,1141.0 191.0,1140.9 191.5,1144.5 192.0,1145.6 192.5,1145.8 193.0,1145.5 193.5,1146.0 194.0,1146.1 194.5,1139.7 195.0,1142.3 195.5,1145.3 196.0,1145.7 196.5,1140.5 197.0,1147.2 197.5,1143.2 198.0,1143.8 198.5,1145.1 199.0,1146.3 199.5,1140.9 200.0,1147.0 200.5,1144.8 201.0,1142.7 201.5,1144.0 202.0,1139.3 202.5,1143.2 203.0,1145.3 203.5,1143.1 204.0,1144.1 204.5,1144.7 205.0,1145.2 205.5,1147.7 206.0,1145.2 206.5,1144.6 207.0,1146.7 207.5,1150.6 208.0,1144.6 208.5,1146.8 209.0,1141.7 209.5,1149.1 210.0,1147.4 210.5,1149.2 211.0,1145.8 211.5,1143.5 212.0,1148.3 212.5,1148.1 213.0,1144.2 213.5,1142.8 214.0,1147.6 214.5,1146.1 215.0,1153.0 215.5,1145.2 216.0,1145.5 216.5,1146.6 217.0,1142.9 217.5,1144.9 218.0,1151.2 218.5,1146.9 219.0,1145.8 219.5,1144.3 220.0,1148.9 220.5,1149.2 221.0,1148.3 221.5,1146.8 222.0,1148.5 222.5,1148.8 223.0,1146.3 223.5,1149.5 224.0,1143.0 224.5,1145.1 225.0,1147.5 225.5,1148.1 226.0,1145.6 226.5,1149.2 227.0,1151.0 227.5,1149.6 228.0,1149.2 228.5,1150.7 229.0,1149.7 229.5,1146.0 230.0,1148.3 230.5,1152.0 231.0,1146.2 231.5,1149.1 232.0,1148.1 232.5,1146.9 233.0,1146.7 233.5,1149.4 234.0,1150.0 234.5,1150.0 235.0,1145.9 235.5,1148.7 236.0,1150.2 236.5,1151.7 237.0,1151.1 237.5,1151.5 238.0,1152.2 238.5,1151.6 239.0,1147.7 239.5,1149.9 240.0,1148.1 240.5,1144.1 241.0,1145.8 241.5,1154.8 242.0,1147.3 242.5,1144.6 243.0,1148.6 243.5,1153.6 244.0,1150.0 244.5,1151.1 245.0,1149.5 245.5,1150.0 246.0,1153.2 246.5,1152.1 247.0,1150.1 247.5,1152.4 248.0,1152.9 248.5,1149.9 249.0,1151.1 249.5,1151.0 250.0,1148.9 250.5,1153.2 251.0,1150.1 251.5,1149.1 252.0,1146.6 252.5,1147.6 253.0,1154.2 253.5,1148.0 254.0,1151.7 254.5,1149.8 255.0,1151.9 255.5,1152.1 256.0,1148.9 256.5,1150.1 257.0,1151.0 257.5,1151.1 258.0,1150.7 258.5,1150.1 259.0,1152.3 259.5,1154.0 260.0,1152.1 260.5,1149.1 261.0,1151.8 261.5,1151.1 262.0,1152.0 262.5,1155.3 263.0,1150.5 263.5,1151.0 264.0,1148.9 264.5,1150.3 265.0,1149.7 265.5,1154.8 266.0,1151.8 266.5,1149.7 267.0,1155.6 267.5,1148.0 268.0,1153.1 268.5,1153.5 269.0,1152.5 269.5,1150.5 270.0,1150.9 270.5,1150.4 271.0,1153.0 271.5,1145.7 272.0,1150.0 272.5,1151.6 273.0,1149.9 273.5,1147.0 274.0,1150.7 274.5,1149.5 275.0,1153.1 275.5,1154.5 276.0,1151.4 276.5,1146.7 277.0,1150.8 277.5,1149.1 278.0,1152.9 278.5,1155.3 279.0,1152.0 279.5,1156.1 280.0,1154.8 280.5,1152.9 281.0,1149.3 281.5,1151.8 282.0,1148.2 282.5,1154.0 283.0,1151.9 283.5,1154.8 284.0,1152.3 284.5,1147.1 285.0,1153.1 285.5,1153.8 286.0,1155.5 286.5,1149.3 287.0,1149.4 287.5,1151.7 288.0,1149.1 288.5,1148.3 289.0,1149.0 289.5,1157.6 290.0,1150.0 290.5,1149.0 291.0,1150.3 291.5,1151.4 292.0,1154.4 292.5,1153.5 293.0,1153.1 293.5,1151.4 294.0,1151.6 294.5,1149.7 295.0,1147.7 295.5,1156.0 296.0,1150.1 296.5,1153.5 297.0,1150.4 297.5,1150.9 298.0,1150.7 298.5,1147.8 299.0,1150.8 299.5,1151.9 300.0,1152.9 300.5,1152.1 301.0,1153.3 301.5,1151.6 302.0,1150.9 302.5,1146.2 303.0,1149.6 303.5,1154.5 304.0,1151.1 304.5,1152.6 305.0,1150.2 305.5,1149.1 306.0,1155.5 306.5,1151.5 307.0,1154.2 307.5,1151.9 308.0,1149.9 308.5,1145.2 309.0,1150.7 309.5,1146.8 310.0,1145.2 310.5,1153.4 311.0,1152.1 311.5,1151.9 312.0,1150.5 312.5,1150.2 313.0,1151.3 313.5,1150.6 314.0,1150.4 314.5,1151.9 315.0,1144.3 315.5,1152.2 316.0,1148.6 316.5,1152.1 317.0,1152.8 317.5,1148.0 318.0,1151.8 318.5,1151.7 319.0,1148.1 319.5,1148.5 320.0,1150.0 320.5,1144.3 321.0,1148.5 321.5,1150.0 322.0,1148.4 322.5,1145.6 323.0,1148.5 323.5,1153.0 324.0,1152.5 324.5,1149.0 325.0,1147.3 325.5,1149.2 326.0,1149.2 326.5,1147.5 327.0,1148.3 327.5,1150.6 328.0,1151.3 328.5,1143.2 329.0,1151.3 329.5,1149.3 330.0,1151.7 330.5,1148.8 331.0,1149.9 331.5,1152.8 332.0,1141.7 332.5,1152.6 333.0,1149.2 333.5,1144.3 334.0,1142.3 334.5,1149.4 335.0,1146.2 335.5,1151.0 336.0,1149.1 336.5,1148.3 337.0,1151.0 337.5,1149.0 338.0,1150.3 338.5,1150.5 339.0,1149.3 339.5,1150.4 340.0,1150.3 340.5,1145.1 341.0,1147.7 341.5,1148.1 342.0,1147.5 342.5,1144.5 343.0,1147.0 343.5,1149.1 344.0,1148.8 344.5,1152.0 345.0,1146.8 345.5,1147.2 346.0,1146.9 346.5,1147.5 347.0,1146.7 347.5,1143.7 348.0,1149.0 348.5,1150.5 349.0,1150.8 349.5,1145.5 350.0,1147.6 350.5,1152.6 351.0,1147.8 351.5,1148.9 352.0,1147.7 352.5,1150.5 353.0,1150.3 353.5,1153.6 354.0,1149.2 354.5,1149.0 355.0,1145.0 355.5,1146.9 356.0,1146.2 356.5,1147.1 357.0,1144.7 357.5,1150.8 358.0,1145.2 358.5,1148.4 359.0,1144.7 359.5,1148.6 360.0,1151.7 360.5,1145.7 361.0,1148.5 361.5,1147.5 362.0,1148.3 362.5,1148.6 363.0,1146.0 363.5,1147.0 364.0,1146.0 364.5,1145.4 365.0,1144.4 365.5,1149.7 366.0,1145.5 366.5,1148.9 367.0,1148.6 367.5,1144.7 368.0,1149.7 368.5,1145.0 369.0,1148.6 369.5,1150.6 370.0,1145.2 370.5,1144.6 371.0,1144.6 371.5,1152.4 372.0,1145.9 372.5,1143.6 373.0,1148.7 373.5,1146.2 374.0,1146.5 374.5,1144.1 375.0,1141.0 375.5,1144.7 376.0,1143.8 376.5,1142.4 377.0,1143.6 377.5,1143.9 378.0,1148.2 378.5,1147.9 379.0,1147.4 379.5,1144.8 380.0,1143.0 380.5,1146.8 381.0,1147.1 381.5,1148.5 382.0,1145.9 382.5,1145.6 383.0,1146.7 383.5,1143.6 384.0,1143.9 384.5,1147.4 385.0,1142.7 385.5,1145.6 386.0,1147.7 386.5,1146.4 387.0,1146.8 387.5,1143.0 388.0,1145.4 388.5,1145.1 389.0,1147.2 389.5,1146.8 390.0,1145.8 390.5,1150.4 391.0,1147.1 391.5,1145.0 392.0,1144.2 392.5,1145.6 393.0,1144.3 393.5,1149.7 394.0,1147.1 394.5,1144.9 395.0,1144.1 395.5,1143.0 396.0,1145.0 396.5,1148.9 397.0,1147.8 397.5,1145.5 398.0,1146.0 398.5,1141.1 399.0,1147.5 399.5,1145.1 400.0,1149.1 400.5,1145.2 401.0,1144.5 401.5,1146.2 402.0,1144.1 402.5,1149.0 403.0,1146.4 403.5,1146.6 404.0,1146.5 404.5,1144.8 405.0,1146.8 405.5,1146.1 406.0,1150.0 406.5,1145.8 407.0,1146.6 407.5,1144.5 408.0,1144.7 408.5,1144.9 409.0,1148.8 409.5,1145.8 410.0,1148.1 410.5,1145.0 411.0,1144.7 411.5,1140.9 412.0,1147.7 412.5,1150.7 413.0,1145.0 413.5,1149.2 414.0,1147.7 414.5,1143.9 415.0,1147.5 415.5,1143.3 416.0,1144.8 416.5,1148.6 417.0,1145.9 417.5,1142.6 418.0,1149.0 418.5,1142.7 419.0,1145.0 419.5,1144.5 420.0,1145.0 420.5,1143.2 421.0,1141.3 421.5,1149.9 422.0,1142.9 422.5,1143.0 423.0,1139.1 423.5,1145.4 424.0,1148.4 424.5,1148.6 425.0,1152.0 425.5,1148.8 426.0,1146.1 426.5,1145.1 427.0,1148.6 427.5,1144.9 428.0,1145.5 428.5,1142.5 429.0,1145.2 429.5,1149.8 430.0,1144.7 430.5,1145.8 431.0,1138.8 431.5,1148.1 432.0,1145.7 432.5,1148.2 433.0,1145.3 433.5,1142.5 434.0,1141.2 434.5,1145.8 435.0,1144.5 435.5,1142.1 436.0,1144.3 436.5,1142.8 437.0,1146.2 437.5,1143.3 438.0,1141.3 438.5,1144.1 439.0,1142.9 439.5,1147.9 440.0,1143.0 440.5,1140.9 441.0,1144.0 441.5,1143.5 442.0,1144.8 442.5,1144.6 443.0,1141.4 443.5,1143.9 444.0,1143.7 444.5,1140.9 445.0,1142.5 445.5,1144.4 446.0,1139.9 446.5,1141.1 447.0,1142.6 447.5,1143.6 448.0,1145.0 448.5,1140.3 449.0,1144.5 449.5,1145.3 450.0,1147.6 450.5,1142.6 451.0,1141.3 451.5,1139.8 452.0,1145.0 452.5,1146.9 453.0,1141.9 453.5,1144.7 454.0,1145.8 454.5,1146.0 455.0,1142.7 455.5,1145.3 456.0,1143.6 456.5,1141.4 457.0,1144.4 457.5,1144.7 458.0,1141.4 458.5,1144.9 459.0,1148.9 459.5,1140.1 460.0,1145.7 460.5,1146.2 461.0,1144.1 461.5,1144.8 462.0,1143.3 462.5,1147.4 463.0,1141.7 463.5,1143.7 464.0,1139.2 464.5,1144.9 465.0,1145.0 465.5,1139.9 466.0,1141.9 466.5,1145.3 467.0,1142.9 467.5,1141.1 468.0,1137.9 468.5,1145.1 469.0,1149.1 469.5,1143.1 470.0,1145.4 470.5,1145.4 471.0,1144.1 471.5,1144.6 472.0,1144.7 472.5,1142.3 473.0,1150.7 473.5,1151.3 474.0,1145.3 474.5,1149.0 475.0,1142.6 475.5,1144.1 476.0,1147.5 476.5,1141.8 477.0,1141.5 477.5,1145.6 478.0,1139.8 478.5,1149.1 479.0,1146.7 479.5,1145.5 480.0,1146.6 480.5,1142.6 481.0,1142.6 481.5,1147.0 482.0,1147.3 482.5,1145.3 483.0,1144.9 483.5,1143.6 484.0,1148.4 484.5,1141.3 485.0,1142.8 485.5,1143.6 486.0,1141.2 486.5,1141.7 487.0,1142.4 487.5,1147.5 488.0,1149.5 488.5,1145.8 489.0,1140.9 489.5,1143.4 490.0,1144.6 490.5,1144.3 491.0,1144.0 491.5,1146.2 492.0,1140.1 492.5,1143.5 493.0,1145.4 493.5,1146.7 494.0,1145.6 494.5,1144.9 495.0,1144.5 495.5,1143.2 496.0,1145.1 496.5,1144.3 497.0,1143.1 497.5,1147.8 498.0,1147.8 498.5,1143.9 499.0,1146.4 499.5,1147.8 500.0,1145.5 500.5,1145.1 501.0,1146.0 501.5,1140.7 502.0,1141.2 502.5,1146.0 503.0,1145.4 503.5,1148.1 504.0,1143.5 504.5,1147.4 505.0,1147.3 505.5,1149.6 506.0,1142.6 506.5,1143.7 507.0,1145.3 507.5,1145.2 508.0,1142.1 508.5,1143.1 509.0,1141.3 509.5,1150.3 510.0,1144.3 510.5,1144.4 511.0,1142.9 511.5,1144.5 512.0,1146.3 512.5,1143.5 513.0,1144.2 513.5,1149.7 514.0,1146.5 514.5,1144.8 515.0,1143.1 515.5,1144.0 516.0,1142.1 516.5,1144.6 517.0,1142.2 517.5,1142.0 518.0,1142.7 518.5,1141.0 519.0,1144.1 519.5,1149.9 520.0,1141.9 520.5,1139.2 521.0,1145.7 521.5,1142.9 522.0,1148.1 522.5,1144.0 523.0,1145.3 523.5,1140.9 524.0,1138.7 524.5,1142.2 525.0,1144.3 525.5,1140.3 526.0,1138.4 526.5,1140.8 527.0,1141.1 527.5,1141.3 528.0,1142.0 528.5,1148.1 529.0,1142.0 529.5,1140.6 530.0,1139.0 530.5,1143.7 531.0,1137.5 531.5,1145.2 532.0,1141.4 532.5,1137.5 533.0,1141.7 533.5,1140.9 534.0,1144.3 534.5,1137.2 535.0,1141.5 535.5,1140.9 536.0,1143.2 536.5,1137.8 537.0,1138.7 537.5,1145.7 538.0,1142.0 538.5,1136.7 539.0,1141.2 539.5,1138.3 540.0,1138.5 540.5,1137.0 541.0,1142.7 541.5,1138.7 542.0,1140.5 542.5,1140.1 543.0,1135.9 543.5,1137.8 544.0,1141.7 544.5,1135.6 545.0,1140.2 545.5,1139.2 546.0,1141.1 546.5,1141.1 547.0,1141.4 547.5,1139.4 548.0,1139.8 548.5,1137.2 549.0,1137.6 549.5,1141.3 550.0,1137.3 550.5,1141.5 551.0,1141.3 551.5,1136.5 552.0,1140.0 552.5,1136.4 553.0,1139.3 553.5,1136.3 554.0,1139.1 554.5,1138.6 555.0,1135.4 555.5,1143.4 556.0,1140.5 556.5,1133.6 557.0,1138.7 557.5,1136.6 558.0,1143.0 558.5,1137.4 559.0,1138.5 559.5,1136.9 560.0,1138.9 560.5,1135.8 561.0,1134.7 561.5,1135.7 562.0,1135.8 562.5,1138.5 563.0,1137.0 563.5,1135.4 564.0,1135.4 564.5,1134.0 565.0,1136.7 565.5,1130.8 566.0,1135.5 566.5,1139.2 567.0,1135.0 567.5,1134.1 568.0,1135.8 568.5,1133.1 569.0,1133.5 569.5,1137.2 570.0,1133.6 570.5,1140.5 571.0,1136.5 571.5,1134.7 572.0,1133.2 572.5,1134.0 573.0,1128.5 573.5,1135.2 574.0,1136.8 574.5,1135.8 575.0,1133.0 575.5,1135.7 576.0,1135.6 576.5,1133.4 577.0,1134.6 577.5,1136.4 578.0,1134.6 578.5,1132.2 579.0,1133.2 579.5,1133.4 580.0,1128.5 580.5,1133.1 581.0,1132.2 581.5,1126.5 582.0,1127.6 582.5,1137.1 583.0,1132.3 583.5,1135.6 584.0,1130.7 584.5,1135.8 585.0,1133.0 585.5,1129.4 586.0,1131.9 586.5,1135.3 587.0,1137.5 587.5,1132.1 588.0,1129.3 588.5,1127.9 589.0,1132.1 589.5,1133.1 590.0,1130.2 590.5,1129.4 591.0,1131.8 591.5,1130.7 592.0,1130.2 592.5,1124.6 593.0,1127.8 593.5,1133.9 594.0,1128.3 594.5,1135.0 595.0,1129.0 595.5,1126.9 596.0,1128.3 596.5,1129.0 597.0,1124.9 597.5,1127.5 598.0,1125.3 598.5,1130.5 599.0,1124.8 599.5,1126.2 600.0,1121.2 600.5,1121.4 601.0,1124.8 601.5,1122.2 602.0,1123.7 602.5,1125.0 603.0,1125.7 603.5,1119.7 604.0,1123.0 604.5,1125.2 605.0,1121.0 605.5,1118.9 606.0,1120.5 606.5,1127.1 607.0,1122.0 607.5,1126.3 608.0,1120.5 608.5,1124.7 609.0,1116.6 609.5,1119.9 610.0,1120.6 610.5,1125.4 611.0,1121.2 611.5,1122.9 612.0,1118.0 612.5,1117.7 613.0,1122.6 613.5,1122.8 614.0,1121.9 614.5,1121.5 615.0,1116.0 615.5,1123.9 616.0,1117.6 616.5,1120.7 617.0,1118.8 617.5,1110.8 618.0,1110.0 618.5,1110.7 619.0,1115.2 619.5,1118.6 620.0,1114.1 620.5,1117.1 621.0,1110.4 621.5,1112.0 622.0,1110.9 622.5,1113.5 623.0,1109.5 623.5,1112.4 624.0,1114.3 624.5,1110.7 625.0,1109.0 625.5,1110.1 626.0,1107.4 626.5,1107.7 627.0,1113.2 627.5,1111.4 628.0,1105.4 628.5,1108.8 629.0,1110.8 629.5,1111.6 630.0,1110.7 630.5,1111.5 631.0,1107.9 631.5,1107.6 632.0,1106.5 632.5,1110.6 633.0,1109.4 633.5,1112.1 634.0,1109.6 634.5,1102.9 635.0,1100.4 635.5,1100.3 636.0,1101.5 636.5,1106.1 637.0,1099.1 637.5,1096.6 638.0,1102.3 638.5,1105.2 639.0,1104.7 639.5,1107.3 640.0,1101.2 640.5,1099.0 641.0,1099.4 641.5,1095.5 642.0,1097.3 642.5,1103.4 643.0,1105.7 643.5,1102.3 644.0,1098.5 644.5,1096.1 645.0,1097.2 645.5,1089.3 646.0,1097.2 646.5,1097.3 647.0,1093.6 647.5,1093.5 648.0,1086.9 648.5,1094.9 649.0,1094.3 649.5,1081.2 650.0,1088.2 650.5,1090.8 651.0,1094.8 651.5,1085.2 652.0,1087.5 652.5,1092.2 653.0,1088.0 653.5,1084.8 654.0,1083.4 654.5,1084.4 655.0,1080.8 655.5,1086.7 656.0,1079.2 656.5,1083.9 657.0,1084.6 657.5,1085.0 658.0,1080.5 658.5,1079.5 659.0,1080.2 659.5,1078.7 660.0,1081.9 660.5,1076.9 661.0,1084.0 661.5,1086.7 662.0,1073.3 662.5,1076.7 663.0,1070.4 663.5,1077.1 664.0,1075.4 664.5,1072.5 665.0,1069.0 665.5,1072.6 666.0,1079.8 666.5,1077.9 667.0,1072.9 667.5,1068.8 668.0,1070.7 668.5,1067.4 669.0,1064.9 669.5,1066.1 670.0,1071.7 670.5,1070.2 671.0,1069.4 671.5,1064.1 672.0,1062.5 672.5,1071.6 673.0,1065.9 673.5,1071.6 674.0,1063.8 674.5,1070.2 675.0,1067.0 675.5,1064.0 676.0,1063.7 676.5,1072.6 677.0,1068.4 677.5,1063.4 678.0,1064.8 678.5,1057.8 679.0,1070.4 679.5,1068.8 680.0,1061.4 680.5,1064.6 681.0,1051.6 681.5,1066.1 682.0,1063.9 682.5,1062.8 683.0,1064.8 683.5,1062.5 684.0,1057.2 684.5,1058.1 685.0,1059.9 685.5,1064.1 686.0,1060.4 686.5,1057.4 687.0,1061.4 687.5,1054.9 688.0,1068.0 688.5,1060.7 689.0,1055.5 689.5,1060.0 690.0,1063.5 690.5,1061.3 691.0,1067.3 691.5,1053.4 692.0,1065.4 692.5,1058.9 693.0,1062.5 693.5,1065.9 694.0,1054.2 694.5,1053.3 695.0,1057.5 695.5,1052.4 696.0,1051.0 696.5,1059.4 697.0,1063.8 697.5,1057.2 698.0,1061.2 698.5,1074.0 699.0,1060.6 699.5,1058.1 700.0,1058.7 700.5,1061.1 701.0,1058.3 701.5,1062.3 702.0,1060.5 702.5,1063.3 703.0,1060.3 703.5,1059.5 704.0,1056.1 704.5,1054.4 705.0,1058.9 705.5,1058.5 706.0,1061.3 706.5,1059.9 707.0,1058.7 707.5,1069.4 708.0,1061.7 708.5,1065.4 709.0,1056.5 709.5,1064.7 710.0,1065.5 710.5,1062.7 711.0,1057.4 711.5,1066.1 712.0,1058.3 712.5,1055.0 713.0,1054.9 713.5,1061.7 714.0,1059.5 714.5,1064.8 715.0,1064.3 715.5,1067.2 716.0,1063.2 716.5,1062.4 717.0,1062.1 717.5,1059.0 718.0,1058.9 718.5,1059.4 719.0,1063.3 719.5,1059.1 720.0,1062.3 720.5,1067.0 721.0,1053.4 721.5,1059.5 722.0,1059.1 722.5,1063.1 723.0,1057.4 723.5,1060.8 724.0,1072.6 724.5,1058.3 725.0,1063.5 725.5,1064.8 726.0,1063.0 726.5,1059.6 727.0,1068.4 727.5,1057.1 728.0,1061.0 728.5,1064.0 729.0,1062.6 729.5,1069.8 730.0,1064.2 730.5,1073.0 731.0,1065.7 731.5,1071.9 732.0,1067.7 732.5,1065.3 733.0,1065.3 733.5,1070.6 734.0,1064.6 734.5,1066.8 735.0,1064.0 735.5,1059.4 736.0,1069.6 736.5,1070.1 737.0,1063.2 737.5,1069.8 738.0,1067.2 738.5,1061.0 739.0,1064.9 739.5,1071.3 740.0,1072.9 740.5,1070.6 741.0,1080.0 741.5,1070.8 742.0,1066.7 742.5,1064.1 743.0,1075.6 743.5,1068.2 744.0,1068.7 744.5,1067.2 745.0,1067.3 745.5,1069.2 746.0,1072.5 746.5,1072.9 747.0,1072.3 747.5,1074.7 748.0,1069.3 748.5,1067.3 749.0,1071.2 749.5,1063.6 750.0,1074.8 750.5,1073.6 751.0,1073.8 751.5,1067.7 752.0,1070.1 752.5,1072.1 753.0,1068.3 753.5,1068.1 754.0,1071.6 754.5,1073.2 755.0,1070.2 755.5,1076.9 756.0,1081.6 756.5,1075.6 757.0,1072.9 757.5,1072.7 758.0,1080.3 758.5,1075.6 759.0,1077.1 759.5,1075.9 760.0,1073.3 760.5,1081.4 761.0,1075.2 761.5,1077.0 762.0,1068.8 762.5,1085.3 763.0,1080.4 763.5,1077.6 764.0,1075.4 764.5,1076.4 765.0,1072.8 765.5,1081.3 766.0,1076.7 766.5,1081.9 767.0,1082.4 767.5,1088.2 768.0,1082.4 768.5,1083.1 769.0,1084.2 769.5,1080.5 770.0,1082.3 770.5,1084.8 771.0,1088.2 771.5,1087.1 772.0,1083.8 772.5,1089.6 773.0,1084.2 773.5,1080.4 774.0,1091.9 774.5,1086.7 775.0,1085.3 775.5,1083.0 776.0,1086.0 776.5,1093.9 777.0,1088.0 777.5,1096.4 778.0,1088.9 778.5,1093.1 779.0,1089.5 779.5,1088.0 780.0,1088.4 780.5,1089.2 781.0,1086.2 781.5,1086.4 782.0,1092.3 782.5,1095.7 783.0,1092.1 783.5,1092.0 784.0,1088.9 784.5,1096.3 785.0,1096.3 785.5,1088.8 786.0,1093.4 786.5,1092.3 787.0,1088.5 787.5,1099.5 788.0,1098.3 788.5,1095.5 789.0,1099.6 789.5,1093.2 790.0,1096.1 790.5,1100.1 791.0,1094.6 791.5,1096.9 792.0,1092.8 792.5,1098.6 793.0,1100.6 793.5,1093.4 794.0,1094.3 794.5,1097.0 795.0,1102.2 795.5,1095.9 796.0,1095.0 796.5,1097.6 797.0,1102.1 797.5,1093.2 798.0,1098.0 798.5,1103.2 799.0,1098.8 799.5,1098.2 800.0,1102.2 800.5,1095.4 801.0,1106.6 801.5,1101.4 802.0,1098.7 802.5,1100.4 803.0,1100.1 803.5,1099.5 804.0,1096.5 804.5,1099.9 805.0,1095.1 805.5,1105.6 806.0,1097.3 806.5,1098.8 807.0,1098.7 807.5,1103.9 808.0,1101.0 808.5,1106.5 809.0,1100.3 809.5,1102.5 810.0,1101.9 810.5,1101.1 811.0,1106.1 811.5,1106.5 812.0,1106.9 812.5,1098.1 813.0,1104.0 813.5,1099.2 814.0,1099.2 814.5,1097.2 815.0,1100.1 815.5,1105.3 816.0,1108.1 816.5,1109.3 817.0,1100.7 817.5,1101.7 818.0,1104.7 818.5,1104.5 819.0,1104.8 819.5,1098.5 820.0,1103.7 820.5,1106.4 821.0,1105.4 821.5,1104.3 822.0,1102.4 822.5,1104.6 823.0,1110.3 823.5,1106.8 824.0,1108.7 824.5,1110.8 825.0,1102.0 825.5,1107.8 826.0,1107.3 826.5,1110.2 827.0,1105.3 827.5,1105.5 828.0,1104.2 828.5,1107.0 829.0,1105.7 829.5,1106.2 830.0,1108.0 830.5,1105.8 831.0,1104.2 831.5,1106.1 832.0,1105.8 832.5,1109.1 833.0,1111.9 833.5,1107.0 834.0,1100.4 834.5,1110.3 835.0,1108.5 835.5,1105.8 836.0,1108.3 836.5,1115.2 837.0,1104.7 837.5,1105.9 838.0,1109.7 838.5,1100.1 839.0,1108.8 839.5,1113.6 840.0,1112.4 840.5,1112.1 841.0,1110.0 841.5,1110.8 842.0,1120.2 842.5,1112.5 843.0,1116.2 843.5,1108.2 844.0,1113.1 844.5,1113.7 845.0,1113.3 845.5,1106.2 846.0,1111.9 846.5,1117.9 847.0,1115.3 847.5,1111.4 848.0,1116.7 848.5,1108.3 849.0,1116.2 849.5,1115.6 850.0,1112.8 850.5,1111.8 851.0,1110.0 851.5,1114.6 852.0,1120.8 852.5,1118.3 853.0,1117.0 853.5,1118.8 854.0,1114.3 854.5,1117.8 855.0,1107.4 855.5,1115.0 856.0,1115.2 856.5,1116.6 857.0,1116.4 857.5,1118.8 858.0,1115.3 858.5,1120.1 859.0,1116.7 859.5,1120.3 860.0,1118.1 860.5,1120.5 861.0,1119.4 861.5,1116.3 862.0,1118.8 862.5,1114.5 863.0,1118.7 863.5,1119.8 864.0,1118.0 864.5,1118.5 865.0,1122.0 865.5,1122.9 866.0,1123.6 866.5,1117.8 867.0,1118.3 867.5,1122.1 868.0,1122.5 868.5,1114.5 869.0,1126.0 869.5,1123.7 870.0,1116.6 870.5,1123.9 871.0,1119.3 871.5,1120.3 872.0,1117.9 872.5,1118.5 873.0,1119.9 873.5,1121.4 874.0,1117.9 874.5,1121.1 875.0,1119.3 875.5,1120.0 876.0,1119.0 876.5,1119.8 877.0,1126.5 877.5,1117.0 878.0,1118.0 878.5,1121.8 879.0,1120.5 879.5,1119.0 880.0,1123.3 880.5,1118.7 881.0,1122.2 881.5,1125.1 882.0,1124.0 882.5,1121.5 883.0,1122.4 883.5,1122.9 884.0,1124.2 884.5,1119.7 885.0,1126.2 885.5,1124.7 886.0,1128.1 886.5,1125.1 887.0,1125.6 887.5,1113.9 888.0,1121.4 888.5,1128.2 889.0,1123.8 889.5,1121.4 890.0,1124.8 890.5,1123.0 891.0,1124.0 891.5,1120.7 892.0,1124.4 892.5,1127.3 893.0,1123.6 893.5,1124.2 894.0,1120.8 894.5,1124.3 895.0,1121.7 895.5,1118.9 896.0,1121.7 896.5,1122.3 897.0,1124.6 897.5,1125.8 898.0,1122.4 898.5,1122.0 899.0,1124.9 899.5,1120.4 900.0,1122.1 900.5,1122.4 901.0,1122.7 901.5,1121.4 902.0,1128.0 902.5,1126.0 903.0,1122.7 903.5,1119.0 904.0,1121.8 904.5,1125.1 905.0,1117.6 905.5,1130.7 906.0,1123.2 906.5,1123.3 907.0,1125.4 907.5,1119.3 908.0,1123.8 908.5,1123.6 909.0,1125.8 909.5,1120.8 910.0,1125.6 910.5,1127.4 911.0,1124.8 911.5,1122.4 912.0,1121.6 912.5,1119.0 913.0,1122.6 913.5,1125.8 914.0,1128.8 914.5,1127.6 915.0,1128.1 915.5,1123.4 916.0,1123.6 916.5,1120.5 917.0,1123.1 917.5,1121.9 918.0,1124.5 918.5,1127.3 919.0,1125.2 919.5,1124.7 920.0,1127.7 920.5,1130.2 921.0,1129.1 921.5,1121.2 922.0,1131.2 922.5,1125.0 923.0,1122.2 923.5,1125.5 924.0,1129.5 924.5,1119.1 925.0,1130.6 925.5,1127.6 926.0,1128.6 926.5,1123.2 927.0,1125.6 927.5,1124.1 928.0,1130.8 928.5,1125.3 929.0,1128.7 929.5,1125.8 930.0,1123.0 930.5,1130.3 931.0,1131.3 931.5,1132.3 932.0,1126.4 932.5,1128.2 933.0,1130.1 933.5,1129.1 934.0,1128.8 934.5,1134.9 935.0,1127.1 935.5,1130.8 936.0,1126.8 936.5,1132.4 937.0,1127.7 937.5,1125.6 938.0,1130.6 938.5,1128.6 939.0,1127.4 939.5,1127.9 940.0,1126.8 940.5,1130.1 941.0,1129.6 941.5,1133.4 942.0,1126.7 942.5,1132.8 943.0,1130.3 943.5,1124.7 944.0,1133.0 944.5,1123.7 945.0,1130.3 945.5,1123.5 946.0,1129.6 946.5,1127.8 947.0,1128.1 947.5,1123.5 948.0,1126.8 948.5,1132.3 949.0,1130.8 949.5,1128.9 950.0,1128.7 950.5,1127.3 951.0,1133.3 951.5,1129.1 952.0,1132.3 952.5,1125.0 953.0,1124.9 953.5,1133.2 954.0,1126.9 954.5,1128.8 955.0,1130.8 955.5,1132.1 956.0,1131.3 956.5,1131.1 957.0,1134.2 957.5,1130.3 958.0,1132.2 958.5,1129.8 959.0,1130.1 959.5,1135.1 960.0,1129.0 960.5,1122.6 961.0,1130.0 961.5,1130.4 962.0,1135.1 962.5,1128.9 963.0,1126.7 963.5,1130.4 964.0,1135.3 964.5,1129.1 965.0,1133.7 965.5,1131.6 966.0,1132.1 966.5,1127.9 967.0,1130.5 967.5,1128.1 968.0,1130.4 968.5,1128.5 969.0,1133.6 969.5,1129.1 970.0,1130.0 970.5,1124.4 971.0,1127.9 971.5,1137.6 972.0,1129.7 972.5,1126.3 973.0,1130.9 973.5,1130.3 974.0,1129.6 974.5,1130.2 975.0,1129.8 975.5,1133.8 976.0,1127.9 976.5,1131.9 977.0,1133.7 977.5,1128.9 978.0,1137.8 978.5,1131.7 979.0,1131.3 979.5,1130.1 980.0,1133.9 980.5,1127.3 981.0,1133.4 981.5,1138.0 982.0,1132.9 982.5,1134.3 983.0,1129.5 983.5,1134.3 984.0,1130.0 984.5,1130.9 985.0,1132.2 985.5,1137.6 986.0,1130.6 986.5,1126.9 987.0,1132.7 987.5,1134.5 988.0,1134.2 988.5,1133.1 989.0,1136.3 989.5,1134.9 990.0,1134.8 990.5,1131.3 991.0,1128.5 991.5,1137.1 992.0,1130.2 992.5,1136.2 993.0,1135.9 993.5,1129.4 994.0,1130.9 994.5,1133.8 995.0,1135.4 995.5,1130.0 996.0,1131.9 996.5,1129.9 997.0,1129.3 997.5,1133.0 998.0,1131.4 998.5,1127.1 999.0,1133.9 999.5,1131.7 1000.0,1131.6 1000.5,1129.0 1001.0,1134.7 1001.5,1133.6 1002.0,1133.6 1002.5,1132.6 1003.0,1133.8 1003.5,1137.2 1004.0,1133.3 1004.5,1133.5 1005.0,1131.6 1005.5,1134.7 1006.0,1132.2 1006.5,1130.8 1007.0,1136.0 1007.5,1132.4 1008.0,1130.5 1008.5,1130.9 1009.0,1131.4 1009.5,1129.9 1010.0,1136.9 1010.5,1134.6 1011.0,1129.2 1011.5,1136.2 1012.0,1132.0 1012.5,1133.7 1013.0,1131.9 1013.5,1134.2 1014.0,1134.1 1014.5,1135.2 1015.0,1135.4 1015.5,1126.0 1016.0,1131.7 1016.5,1133.0 1017.0,1132.5 1017.5,1129.0 1018.0,1132.0 1018.5,1132.5 1019.0,1127.4 1019.5,1130.7 1020.0,1135.1 1020.5,1131.0 1021.0,1132.6 1021.5,1133.1 1022.0,1134.6 1022.5,1135.2 1023.0,1136.2 1023.5,1133.6 1024.0,1133.9 1024.5,1133.0 1025.0,1134.0 1025.5,1133.2 1026.0,1135.6 1026.5,1135.5 1027.0,1129.9 1027.5,1127.4 1028.0,1134.9 1028.5,1132.3 1029.0,1129.5 1029.5,1136.4 1030.0,1137.9 1030.5,1130.7 1031.0,1131.3 1031.5,1132.0 1032.0,1131.7 1032.5,1133.6 1033.0,1130.8 1033.5,1133.9 1034.0,1132.9 1034.5,1136.8 1035.0,1133.7 1035.5,1136.4 1036.0,1138.1 1036.5,1135.4 1037.0,1135.8 1037.5,1132.7 1038.0,1134.1 1038.5,1140.3 1039.0,1137.8 1039.5,1134.1 1040.0,1132.9 1040.5,1133.6 1041.0,1137.0 1041.5,1128.4 1042.0,1134.7 1042.5,1130.4 1043.0,1137.9 1043.5,1130.1 1044.0,1136.5 1044.5,1133.2 1045.0,1134.0 1045.5,1138.5 1046.0,1133.9 1046.5,1135.8 1047.0,1135.0 1047.5,1130.8 1048.0,1133.8 1048.5,1136.6 1049.0,1134.9 1049.5,1134.5 1050.0,1131.9 1050.5,1138.2 1051.0,1132.4 1051.5,1138.8 1052.0,1134.4 1052.5,1135.8 1053.0,1130.0 1053.5,1134.2 1054.0,1131.3 1054.5,1134.1 1055.0,1137.2 1055.5,1134.9 1056.0,1134.6 1056.5,1136.6 1057.0,1130.6 1057.5,1134.2 1058.0,1132.3 1058.5,1137.0 1059.0,1132.0 1059.5,1138.4 1060.0,1139.6 1060.5,1128.2 1061.0,1133.6 1061.5,1129.7 1062.0,1137.5 1062.5,1131.7 1063.0,1135.9 1063.5,1135.0 1064.0,1131.6 1064.5,1130.0 1065.0,1137.3 1065.5,1132.6 1066.0,1135.0 1066.5,1138.2 1067.0,1134.3 1067.5,1133.5 1068.0,1131.6 1068.5,1135.7 1069.0,1132.2 1069.5,1129.9 1070.0,1132.9 1070.5,1132.8 1071.0,1130.1 1071.5,1133.9 1072.0,1136.9 1072.5,1136.2 1073.0,1140.3 1073.5,1137.9 1074.0,1135.5 1074.5,1129.2 1075.0,1135.5 1075.5,1138.2 1076.0,1134.2 1076.5,1138.9 1077.0,1132.5 1077.5,1135.8 1078.0,1137.4 1078.5,1139.8 1079.0,1135.0 1079.5,1140.6 1080.0,1134.2 1080.5,1130.3 1081.0,1135.0 1081.5,1139.1 1082.0,1134.4 1082.5,1139.9 1083.0,1134.8 1083.5,1140.6 1084.0,1129.3 1084.5,1141.8 1085.0,1129.8 1085.5,1135.3 1086.0,1132.2 1086.5,1136.4 1087.0,1135.0 1087.5,1134.8 1088.0,1137.4 1088.5,1138.3 1089.0,1134.8 1089.5,1139.1 1090.0,1130.9 1090.5,1132.8 1091.0,1132.0 1091.5,1137.2 1092.0,1138.4 1092.5,1134.7 1093.0,1134.1 1093.5,1132.6 1094.0,1137.9 1094.5,1139.2 1095.0,1134.5 1095.5,1135.6 1096.0,1135.0 1096.5,1136.1 1097.0,1137.4 1097.5,1130.0 1098.0,1134.7 1098.5,1138.5 1099.0,1133.7 1099.5,1139.8 1100.0,1140.2 1100.5,1133.7 1101.0,1134.2 1101.5,1140.0 1102.0,1131.9 1102.5,1133.5 1103.0,1132.0 1103.5,1136.6 1104.0,1137.5 1104.5,1137.9 1105.0,1137.3 1105.5,1132.7 1106.0,1139.8 1106.5,1136.4 1107.0,1135.5 1107.5,1141.3 1108.0,1136.9 1108.5,1137.6 1109.0,1138.9 1109.5,1142.2 1110.0,1136.6 1110.5,1138.5 1111.0,1130.2 1111.5,1133.9 1112.0,1142.3 1112.5,1142.1 1113.0,1136.2 1113.5,1134.2 1114.0,1132.8 1114.5,1133.3 1115.0,1135.0 1115.5,1131.8 1116.0,1136.3 1116.5,1136.2 1117.0,1133.2 1117.5,1133.0 1118.0,1133.4 1118.5,1135.3 1119.0,1136.0 1119.5,1138.2 1120.0,1131.8 1120.5,1135.7 1121.0,1136.7 1121.5,1137.5 1122.0,1139.0 1122.5,1135.5 1123.0,1140.1 1123.5,1143.0 1124.0,1137.9 1124.5,1141.0 1125.0,1139.4 1125.5,1137.9 1126.0,1136.1 1126.5,1137.4 1127.0,1142.4 1127.5,1136.9 1128.0,1134.6 1128.5,1135.4 1129.0,1138.9 1129.5,1135.0 1130.0,1139.2 1130.5,1138.8 1131.0,1137.4 1131.5,1141.3 1132.0,1133.2 1132.5,1135.2 1133.0,1136.2 1133.5,1137.8 1134.0,1133.0 1134.5,1135.1 1135.0,1140.3 1135.5,1135.6 1136.0,1139.2 1136.5,1135.9 1137.0,1134.5 1137.5,1137.9 1138.0,1140.0 1138.5,1136.2 1139.0,1132.6 1139.5,1134.0 1140.0,1134.8 1140.5,1135.2 1141.0,1133.2 1141.5,1137.6 1142.0,1132.6 1142.5,1138.2 1143.0,1132.4 1143.5,1132.5 1144.0,1138.2 1144.5,1136.9 1145.0,1133.9 1145.5,1133.1 1146.0,1134.0 1146.5,1134.6 1147.0,1135.1 1147.5,1137.2 1148.0,1131.9 1148.5,1134.2 1149.0,1134.3 1149.5,1130.2 1150.0,1137.2 1150.5,1138.5 1151.0,1133.8 1151.5,1128.8 1152.0,1131.4 1152.5,1136.1 1153.0,1127.7 1153.5,1127.6 1154.0,1131.6 1154.5,1134.1 1155.0,1134.8 1155.5,1135.0 1156.0,1125.1 1156.5,1129.5 1157.0,1127.8 1157.5,1127.0 1158.0,1131.0 1158.5,1129.0 1159.0,1124.6 1159.5,1125.9 1160.0,1124.4 1160.5,1125.7 1161.0,1118.9 1161.5,1120.4 1162.0,1114.9 1162.5,1116.4 1163.0,1113.5 1163.5,1112.9 1164.0,1111.2 1164.9,1114.6 1165.5,1108.9 1166.0,1109.1 1166.5,1111.3 1167.0,1115.5 1167.5,1117.9 1168.0,1117.6 1168.5,1117.7 1169.0,1120.2 1169.5,1121.2 1170.0,1126.0 1170.5,1126.0 1171.0,1128.0 1171.5,1128.7 1172.0,1129.7 1172.5,1133.4 1173.0,1129.7 1173.5,1132.7 1174.0,1133.3 1174.5,1130.5 1175.0,1137.1 1175.5,1133.6 1176.0,1130.2 1176.5,1135.9 1177.0,1135.0 1177.5,1135.5 1178.0,1133.1 1178.5,1132.8 1179.0,1134.2 1179.5,1130.3 1180.0,1134.4 1180.5,1134.2 1181.0,1136.4 1181.5,1133.5 1182.0,1135.7 1182.5,1130.4 1183.0,1132.1 1183.5,1136.3 1184.0,1138.1 1184.5,1136.7 1185.0,1130.4 1185.5,1131.7 1186.0,1132.9 1186.5,1137.8 1187.0,1133.0 1187.5,1135.3 1188.0,1136.0 1188.5,1136.1 1189.0,1134.5 1189.5,1135.9 1190.0,1137.3 1190.5,1135.6 1191.0,1135.1 1191.5,1137.4 1192.0,1139.4 1192.5,1142.0 1193.0,1132.6 1193.5,1136.4 1194.0,1136.1 1194.5,1133.0 1195.0,1135.2 1195.5,1134.3 1196.0,1133.5 1196.5,1134.6 1197.0,1137.9 1197.5,1133.6 1198.0,1135.0 1198.5,1136.1 1199.0,1134.0 1199.5,1133.4 1200.0,1132.5 1200.5,1134.8 1201.0,1140.4 1201.5,1132.4 1202.0,1139.1 1202.5,1134.5 1203.0,1134.5 1203.5,1139.0 1204.0,1138.5 1204.5,1138.8 1205.0,1137.1 1205.5,1139.4 1206.0,1135.5 1206.5,1138.1 1207.0,1139.7 1207.5,1137.1 1208.0,1135.0 1208.5,1141.5 1209.0,1136.6 1209.5,1134.7 1210.0,1138.8 1210.5,1140.5 1211.0,1138.6 1211.5,1134.0 1212.0,1137.3 1212.5,1137.9 1213.0,1138.7 1213.5,1133.3 1214.0,1133.7 1214.5,1137.5 1215.0,1137.0 1215.5,1138.1 1216.0,1139.9 1216.5,1133.3 1217.0,1133.8 1217.5,1135.2 1218.0,1140.6 1218.5,1136.1 1219.0,1139.1 1219.5,1130.3 1220.0,1137.0 1220.5,1138.8 1221.0,1140.1 1221.5,1134.5 1222.0,1141.6 1222.5,1134.1 1223.0,1140.1 1223.5,1140.7 1224.0,1135.9 1224.5,1132.5 1225.0,1141.9 1225.5,1137.0 1226.0,1132.8 1226.5,1137.2 1227.0,1133.0 1227.5,1136.2 1228.0,1132.8 1228.5,1129.6 1229.0,1137.4 1229.5,1133.7 1230.0,1135.2 1230.5,1135.8 1231.0,1135.0 1231.5,1133.5 1232.0,1136.3 1232.5,1137.0 1233.0,1135.9 1233.5,1134.4 1234.0,1135.4 1234.5,1139.3 1235.0,1138.5 1235.5,1134.7 1236.0,1136.9 1236.5,1136.9 1237.0,1136.9 1237.5,1135.5 1238.0,1136.7 1238.5,1134.5 1239.0,1137.2 1239.5,1136.8 1240.0,1137.2 1240.5,1137.1 1241.0,1136.8 1241.5,1133.3 1242.0,1132.2 1242.5,1135.7 1243.0,1134.3 1243.5,1137.3 1244.0,1133.6 1244.5,1134.0 1245.0,1131.6 1245.5,1134.9 1246.0,1134.1 1246.5,1138.3 1247.0,1135.3 1247.5,1138.9 1248.0,1133.1 1248.5,1130.9 1249.0,1138.0 1249.5,1136.5 1250.0,1139.3 1250.5,1133.4 1251.0,1130.5 1251.5,1139.4 1252.0,1136.0 1252.5,1133.7 1253.0,1141.0 1253.5,1135.4 1254.0,1133.1 1254.5,1136.3 1255.0,1133.8 1255.5,1133.0 1256.0,1136.3 1256.5,1135.3 1257.0,1134.7 1257.5,1134.9 1258.0,1131.5 1258.5,1137.0 1259.0,1140.2 1259.5,1135.8 1260.0,1138.5 1260.5,1140.3 1261.0,1134.4 1261.5,1133.1 1262.0,1132.3 1262.5,1133.6 1263.0,1136.9 1263.5,1134.3 1264.0,1137.8 1264.5,1132.8 1265.0,1138.9 1265.5,1133.5 1266.0,1134.1 1266.5,1134.4 1267.0,1133.5 1267.5,1133.7 1268.0,1135.5 1268.5,1133.5 1269.0,1134.8 1269.5,1131.4 1270.0,1131.2 1270.5,1129.4 1271.0,1135.0 1271.5,1130.7 1272.0,1134.0 1272.5,1132.9 1273.0,1132.8 1273.5,1131.7 1274.0,1133.8 1274.5,1133.4 1275.0,1136.4 1275.5,1131.2 1276.0,1130.6 1276.5,1128.2 1277.0,1137.3 1277.5,1129.2 1278.0,1133.2 1278.5,1132.9 1279.0,1127.3 1279.5,1128.7 1280.0,1132.3 1280.5,1130.1 1281.0,1126.3 1281.5,1129.9 1282.0,1133.5 1282.5,1130.0 1283.0,1130.2 1283.5,1131.9 1284.0,1134.1 1284.5,1127.8 1285.0,1125.6 1285.5,1126.7 1286.0,1125.2 1286.5,1122.2 1287.0,1125.2 1287.5,1122.5 1288.0,1128.4 1288.5,1124.1 1289.0,1116.5 1289.5,1120.6 1290.0,1124.2 1290.5,1121.0 1291.0,1119.9 1291.5,1120.3 1292.0,1119.0 1292.5,1122.9 1293.0,1119.4 1293.5,1117.7 1294.0,1122.5 1294.5,1116.2 1295.0,1120.1 1295.5,1116.2 1296.0,1117.7 1296.5,1117.3 1297.0,1115.2 1297.5,1116.7 1298.0,1122.7 1298.5,1114.9 1299.0,1124.1 1299.5,1120.6 1300.0,1122.9 1300.5,1116.7 1301.0,1121.4 1301.5,1118.8 1302.0,1124.3 1302.5,1116.9 1303.0,1122.0 1303.5,1116.5 1304.0,1122.5 1304.5,1117.2 1305.0,1114.9 1305.5,1114.2 1306.0,1116.6 1306.5,1123.0 1307.0,1114.4 1307.5,1116.1 1308.0,1118.1 1308.5,1118.5 1309.0,1119.2 1309.5,1123.3 1310.0,1117.9 1310.5,1114.2 1311.0,1120.8 1311.5,1117.4 1312.0,1118.0 1312.5,1119.1 1313.0,1123.6 1313.5,1122.6 1314.0,1119.0 1314.5,1117.9 1315.0,1120.4 1315.5,1116.8 1316.0,1113.8 1316.5,1117.1 1317.0,1122.1 1317.5,1117.2 1318.0,1117.8 1318.5,1123.7 1319.0,1123.8 1319.5,1124.0 1320.0,1117.3 1320.5,1121.2 1321.0,1123.9 1321.5,1123.0 1322.0,1119.0 1322.5,1119.7 1323.0,1118.2 1323.5,1119.1 1324.0,1122.0 1324.5,1122.2 1325.0,1118.8 1325.5,1123.5 1326.0,1122.4 1326.5,1125.9 1327.0,1120.8 1327.5,1123.3 1328.0,1116.3 1328.5,1125.4 1329.0,1125.1 1329.5,1126.2 1330.0,1124.1 1330.5,1124.3 1331.0,1124.3 1331.5,1128.3 1332.0,1122.2 1332.5,1125.0 1333.0,1127.2 1333.5,1124.6 1334.0,1123.2 1334.5,1125.2 1335.0,1127.1 1335.5,1130.9 1336.0,1125.0 1336.5,1120.4 1337.0,1129.6 1337.5,1126.8 1338.0,1128.5 1338.5,1126.6 1339.0,1126.8 1339.5,1121.3 1340.0,1128.4 1340.5,1123.6 1341.0,1128.6 1341.5,1121.3 1342.0,1130.0 1342.5,1126.1 1343.0,1120.0 1343.5,1126.9 1344.0,1126.8 1344.5,1126.7 1345.0,1123.2 1345.5,1132.7 1346.0,1124.8 1346.5,1129.1 1347.0,1119.0 1347.5,1127.9 1348.0,1127.4 1348.5,1125.9 1349.0,1129.5 1349.5,1124.1 1350.0,1127.1 1350.5,1125.5 1351.0,1126.5 1351.5,1122.8 1352.0,1127.4 1352.5,1127.1 1353.0,1126.3 1353.5,1126.3 1354.0,1124.2 1354.5,1123.5 1355.0,1124.6 1355.5,1126.2 1356.0,1121.6 1356.5,1124.7 1357.0,1129.4 1357.5,1127.0 1358.0,1122.2 1358.5,1128.4 1359.0,1119.9 1359.5,1124.1 1360.0,1127.9 1360.5,1126.5 1361.0,1125.6 1361.5,1121.5 1362.0,1119.7 1362.5,1125.9 1363.0,1125.1 1363.5,1129.1 1364.0,1122.5 1364.5,1120.9 1365.0,1122.4 1365.5,1118.6 1366.0,1122.7 1366.5,1123.5 1367.0,1123.1 1367.5,1128.8 1368.0,1128.9 1368.5,1122.4 1369.0,1121.7 1369.5,1127.0 1370.0,1126.3 1370.5,1119.5 1371.0,1120.9 1371.5,1120.7 1372.0,1119.1 1372.5,1121.2 1373.0,1119.1 1373.5,1124.9 1374.0,1124.0 1374.5,1117.5 1375.0,1120.6 1375.5,1120.6 1376.0,1126.4 1376.5,1120.3 1377.0,1124.7 1377.5,1126.8 1378.0,1119.4 1378.5,1123.5 1379.0,1122.1 1379.5,1124.4 1380.0,1117.6 1380.5,1120.5 1381.0,1116.6 1381.5,1123.6 1382.0,1115.5 1382.5,1121.4 1383.0,1116.5 1383.5,1118.8 1384.0,1118.5 1384.5,1121.1 1385.0,1122.4 1385.5,1124.1 1386.0,1124.7 1386.5,1120.6 1387.0,1117.2 1387.5,1124.1 1388.0,1116.6 1388.5,1120.2 1389.0,1118.0 1389.5,1118.2 1390.0,1120.5 1390.5,1116.4 1391.0,1119.5 1391.5,1119.4 1392.0,1122.7 1392.5,1122.9 1393.0,1121.7 1393.5,1119.5 1394.0,1124.4 1394.5,1122.0 1395.0,1115.2 1395.5,1119.8 1396.0,1120.2 1396.5,1116.1 1397.0,1119.3 1397.5,1117.4 1398.0,1115.6 1398.5,1118.3 1399.0,1116.1 1399.5,1114.1 1400.0,1117.8 1400.5,1111.9 1401.0,1120.9 1401.5,1116.2 1402.0,1117.4 1402.5,1119.9 1403.0,1119.6 1403.5,1115.7 1404.0,1117.4 1404.5,1119.2 1405.0,1120.4 1405.5,1113.4 1406.0,1116.5 1406.5,1111.9 1407.0,1112.2 1407.5,1114.4 1408.0,1113.6 1408.5,1110.5 1409.0,1110.6 1409.5,1112.7 1410.0,1108.0 1410.5,1112.5 1411.0,1107.8 1411.5,1115.5 1412.0,1111.0 1412.5,1112.3 1413.0,1108.2 1413.5,1112.4 1414.0,1109.9 1414.5,1110.1 1415.0,1107.4 1415.5,1108.5 1416.0,1105.6 1416.5,1107.3 1417.0,1103.7 1417.5,1103.1 1418.0,1104.0 1418.5,1103.3 1419.0,1102.2 1419.5,1099.2 1420.0,1100.3 1420.5,1103.8 1421.0,1100.6 1421.5,1100.7 1422.0,1097.3 1422.5,1103.3 1423.0,1097.4 1423.5,1099.4 1424.0,1097.0 1424.5,1100.7 1425.0,1090.7 1425.5,1088.5 1426.0,1093.9 1426.5,1085.9 1427.0,1091.3 1427.5,1091.0 1428.0,1092.1 1428.5,1094.9 1429.0,1087.3 1429.5,1093.4 1430.0,1095.5 1430.5,1096.4 1431.0,1086.3 1431.5,1088.5 1432.0,1096.1 1432.5,1085.2 1433.0,1092.4 1433.5,1089.1 1434.0,1089.3 1434.5,1080.8 1435.0,1081.2 1435.5,1082.6 1436.0,1087.5 1436.5,1087.6 1437.0,1081.3 1437.5,1084.7 1438.0,1083.6 1438.5,1079.0 1439.0,1077.9 1439.5,1074.1 1440.0,1076.4 1440.5,1077.0 1441.0,1083.9 1441.5,1081.9 1442.0,1077.4 1442.5,1078.6 1443.0,1073.6 1443.5,1067.3 1444.0,1076.4 1444.5,1076.9 1445.0,1071.1 1445.5,1078.0 1446.0,1076.7 1446.5,1075.1 1447.0,1064.0 1447.5,1070.7 1448.0,1072.2 1448.5,1065.7 1449.0,1066.3 1449.5,1070.8 1450.0,1074.8 1450.5,1069.1 1451.0,1066.1 1451.5,1062.3 1452.0,1059.2 1452.5,1059.2 1453.0,1063.2 1453.5,1058.8 1454.0,1065.2 1454.5,1053.6 1455.0,1053.3 1455.5,1056.8 1456.0,1056.8 1456.5,1055.3 1457.0,1049.2 1457.5,1049.4 1458.0,1055.1 1458.5,1048.3 1459.0,1046.5 1459.5,1049.9 1460.0,1047.5 1460.5,1044.4 1461.0,1050.1 1461.5,1035.7 1462.0,1041.6 1462.5,1035.9 1463.0,1041.3 1463.5,1031.3 1464.0,1036.8 1464.5,1030.8 1465.0,1042.1 1465.5,1030.6 1466.0,1037.9 1466.5,1023.7 1467.0,1022.6 1467.5,1025.5 1468.0,1014.9 1468.5,1017.0 1469.0,1026.7 1469.5,1023.7 1470.0,1016.4 1470.5,1021.2 1471.0,1016.9 1471.5,1015.6 1472.0,1007.8 1472.5,1015.4 1473.0,1007.0 1473.5,1015.3 1474.0,1002.2 1474.5,1017.5 1475.0,1001.4 1475.5,996.8 1476.0,996.7 1476.5,1002.6 1477.0,1000.9 1477.5,995.0 1478.0,1000.8 1478.5,1005.3 1479.0,995.3 1479.5,997.3 1480.0,996.7 1480.5,995.4 1481.0,981.7 1481.5,996.4 1482.0,987.7 1482.5,987.4 1483.0,991.5 1483.5,971.2 1484.0,987.1 1484.5,983.3 1485.0,988.9 1485.5,981.3 1486.0,985.0 1486.5,982.4 1487.0,969.7 1487.5,974.2 1488.0,969.7 1488.5,971.9 1489.0,966.6 1489.5,962.2 1490.0,968.3 1490.5,966.3 1491.0,969.4 1491.5,974.6 1492.0,963.3 1492.5,963.3 1493.0,970.1 1493.5,968.2 1494.0,954.3 1494.5,962.0 1495.0,953.7 1495.5,956.6 1496.0,958.0 1496.5,959.4 1497.0,958.2 1497.5,960.4 1498.0,960.7 1498.5,966.9 1499.0,962.5 1499.5,952.5 1500.0,964.9 1500.5,959.3 1501.0,951.4 1501.5,952.2 1502.0,957.6 1502.5,957.8 1503.0,959.2 1503.5,949.4 1504.0,955.8 1504.5,968.5 1505.0,948.8 1505.5,951.0 1506.0,958.5 1506.5,960.1 1507.0,955.8 1507.5,959.9 1508.0,959.0 1508.5,955.5 1509.0,960.1 1509.5,959.1 1510.0,963.0 1510.5,965.2 1511.0,957.5 1511.5,962.0 1512.0,957.6 1512.5,961.7 1513.0,964.7 1513.5,968.2 1514.0,961.1 1514.5,968.9 1515.0,965.9 1515.5,965.8 1516.0,966.9 1516.5,966.0 1517.0,971.9 1517.5,964.9 1518.0,974.7 1518.5,971.0 1519.0,982.3 1519.5,973.8 1520.0,979.3 1520.5,982.7 1521.0,984.4 1521.5,989.8 1522.0,991.7 1522.5,984.5 1523.0,984.4 1523.5,995.0 1524.0,991.6 1524.5,990.5 1525.0,992.6 1525.5,998.0 1526.0,998.9 1526.5,986.2 1527.0,993.7 1527.5,995.9 1528.0,994.7 1528.5,1005.9 1529.0,1007.4 1529.5,1001.9 1530.0,1010.2 1530.5,1003.1 1531.0,1011.9 1531.5,1010.2 1532.0,1008.5 1532.5,1010.9 1533.0,1007.1 1533.5,1015.5 1534.0,1009.5 1534.5,1014.8 1535.0,1009.4 1535.5,1010.5 1536.0,1015.5 1536.5,1016.5 1537.0,1022.6 1537.5,1016.9 1538.0,1020.2 1538.5,1021.3 1539.0,1029.5 1539.5,1022.3 1540.0,1017.6 1540.5,1017.1 1541.0,1022.9 1541.5,1025.9 1542.0,1021.6 1542.5,1022.7 1543.0,1024.8 1543.5,1030.0 1544.0,1034.0 1544.5,1029.6 1545.0,1030.4 1545.5,1040.6 1546.0,1044.0 1546.5,1040.2 1547.0,1036.8 1547.5,1038.1 1548.0,1044.8 1548.5,1036.0 1549.0,1037.8 1549.5,1049.6 1550.0,1041.0 1550.5,1044.9 1551.0,1057.7 1551.5,1048.4 1552.0,1057.0 1552.5,1051.4 1553.0,1049.2 1553.5,1056.3 1554.0,1055.0 1554.5,1059.7 1555.0,1051.4 1555.5,1060.1 1556.0,1059.8 1556.5,1062.8 1557.0,1061.5 1557.5,1057.4 1558.0,1067.1 1558.5,1066.2 1559.0,1067.0 1559.5,1066.4 1560.0,1066.1 1560.5,1063.2 1561.0,1059.3 1561.5,1060.7 1562.0,1066.8 1562.5,1059.4 1563.0,1066.2 1563.5,1072.5 1564.0,1066.4 1564.5,1077.8 1565.0,1065.0 1565.5,1074.6 1566.0,1065.4 1566.5,1074.7 1567.0,1080.4 1567.5,1073.8 1568.0,1071.2 1568.5,1072.4 1569.0,1079.8 1569.5,1081.4 1570.0,1080.6 1570.5,1078.2 1571.0,1076.9 1571.5,1078.7 1572.0,1078.9 1572.5,1077.8 1573.0,1088.3 1573.5,1089.9 1574.0,1090.9 1574.5,1093.3 1575.0,1085.8 1575.5,1082.5 1576.0,1090.6 1576.5,1089.8 1577.0,1087.7 1577.5,1094.0 1578.0,1091.8 1578.5,1096.4 1579.0,1096.4 1579.5,1092.9 1580.0,1096.6 1580.5,1095.6 1581.0,1099.2 1581.5,1098.6 1582.0,1096.3 1582.5,1101.6 1583.0,1100.1 1583.5,1100.9 1584.0,1102.4 1584.5,1109.9 1585.0,1104.4 1585.5,1102.9 1586.0,1102.0 1586.5,1099.1 1587.0,1104.8 1587.5,1105.3 1588.0,1103.9 1588.5,1108.4 1589.0,1107.7 1589.5,1108.9 1590.0,1106.3 1590.5,1112.3 1591.0,1109.7 1591.5,1106.2 1592.0,1108.6 1592.5,1112.0 1593.0,1107.2 1593.5,1113.5 1594.0,1108.5 1594.5,1104.4 1595.0,1112.6 1595.5,1109.1 1596.0,1111.0 1596.5,1110.7 1597.0,1114.8 1597.5,1111.7 1598.0,1114.7 1598.5,1109.5 1599.0,1112.7 1599.5,1110.9 1600.0,1112.9 1600.5,1119.9 1601.0,1111.0 1601.5,1114.8 1602.0,1112.8 1602.5,1115.4 1603.0,1111.7 1603.5,1112.8 1604.0,1109.4 1604.5,1118.7 1605.0,1115.3 1605.5,1116.1 1606.0,1111.5 1606.5,1120.2 1607.0,1119.3 1607.5,1115.0 1608.0,1117.2 1608.5,1115.7 1609.0,1119.6 1609.5,1110.4 1610.0,1117.7 1610.5,1118.1 1611.0,1120.1 1611.5,1114.7 1612.0,1115.7 1612.5,1115.0 1613.0,1121.2 1613.5,1119.8 1614.0,1122.0 1614.5,1121.5 1615.0,1121.2 1615.5,1116.0 1616.0,1119.1 1616.5,1123.8 1617.0,1121.1 1617.5,1117.4 1618.0,1118.0 1618.5,1119.4 1619.0,1120.1 1619.5,1121.4 1620.0,1121.2 1620.5,1122.7 1621.0,1124.6 1621.5,1123.6 1622.0,1118.9 1622.5,1128.0 1623.0,1121.6 1623.5,1120.4 1624.0,1125.7 1624.5,1126.7 1625.0,1124.3 1625.5,1126.8 1626.0,1122.7 1626.5,1123.0 1627.0,1120.4 1627.5,1126.7 1628.0,1124.4 1628.5,1128.8 1629.0,1123.3 1629.5,1127.6 1630.0,1124.9 1630.5,1129.6 1631.0,1125.0 1631.5,1129.1 1632.0,1122.4 1632.5,1124.2 1633.0,1124.1 1633.5,1128.7 1634.0,1119.9 1634.5,1122.7 1635.0,1126.8 1635.5,1126.2 1636.0,1126.3 1636.5,1127.8 1637.0,1126.1 1637.5,1128.8 1638.0,1130.7 1638.5,1124.6 1639.0,1130.9 1639.5,1125.4 1640.0,1124.0 1640.5,1127.6 1641.0,1127.7 1641.5,1128.9 1642.0,1125.1 1642.5,1128.2 1643.0,1127.0 1643.5,1131.8 1644.0,1129.2 1644.5,1127.5 1645.0,1126.6 1645.5,1129.6 1646.0,1135.1 1646.5,1125.3 1647.0,1128.4 1647.5,1133.8 1648.0,1133.4 1648.5,1130.2 1649.0,1130.7 1649.5,1130.0 1650.0,1129.0 1650.5,1130.8 1651.0,1133.2 1651.5,1132.9 1652.0,1128.1 1652.5,1131.7 1653.0,1130.6 1653.5,1135.8 1654.0,1129.0 1654.5,1129.7 1655.0,1129.3 1655.5,1142.6 1656.0,1137.8 1656.5,1132.6 1657.0,1135.9 1657.5,1128.7 1658.0,1132.8 1658.5,1139.7 1659.0,1133.1 1659.5,1130.1 1660.0,1132.0 1660.5,1132.1 1661.0,1133.3 1661.5,1133.4 1662.0,1132.6 1662.5,1129.9 1663.0,1133.9 1663.5,1134.0 1664.0,1129.8 1664.5,1135.6 1665.0,1133.7 1665.5,1138.9 1666.0,1135.6 1666.5,1132.6 1667.0,1132.0 1667.5,1139.2 1668.0,1137.7 1668.5,1136.1 1669.0,1136.9 1669.5,1131.1 1670.0,1137.9 1670.5,1134.4 1671.0,1134.8 1671.5,1137.7 1672.0,1136.5 1672.5,1130.9 1673.0,1136.9 1673.5,1134.7 1674.0,1138.3 1674.5,1135.7 1675.0,1136.9 1675.5,1132.8 1676.0,1133.2 1676.5,1132.5 1677.0,1136.4 1677.5,1133.1 1678.0,1134.7 1678.5,1141.4 1679.0,1138.2 1679.5,1142.4 1680.0,1134.1 1680.5,1133.7 1681.0,1135.0 1681.5,1137.9 1682.0,1134.0 1682.5,1141.6 1683.0,1133.8 1683.5,1139.9 1684.0,1133.5 1684.5,1133.9 1685.0,1137.0 1685.5,1135.9 1686.0,1135.0 1686.5,1134.6 1687.0,1136.5 1687.5,1134.1 1688.0,1140.6 1688.5,1137.6 1689.0,1136.7 1689.5,1132.6 1690.0,1142.8 1690.5,1135.9 1691.0,1133.1 1691.5,1132.2 1692.0,1127.7 1692.5,1132.7 1693.0,1128.7 1693.5,1130.1 1694.0,1137.5 1694.5,1132.8 1695.0,1131.3 1695.5,1138.1 1696.0,1131.6 1696.5,1138.8 1697.0,1132.4 1697.5,1134.1 1698.0,1131.9 1698.5,1131.3 1699.0,1133.3 1699.5,1136.4 1700.0,1132.8 1700.5,1129.7 1701.0,1127.5 1701.5,1135.6 1702.0,1130.2 1702.5,1129.1 1703.0,1133.3 1703.5,1133.3 1704.0,1133.5 1704.5,1130.1 1705.0,1126.5 1705.5,1133.2 1706.0,1131.5 1706.5,1131.4 1707.0,1129.0 1707.5,1133.0 1708.0,1131.6 1708.5,1132.2 1709.0,1134.9 1709.5,1130.8 1710.0,1130.5 1710.5,1130.6 1711.0,1127.0 1711.5,1130.5 1712.0,1134.3 1712.5,1133.8 1713.0,1130.2 1713.5,1128.4 1714.0,1133.1 1714.5,1132.1 1715.0,1132.6 1715.5,1136.4 1716.0,1131.8 1716.5,1135.7 1717.0,1133.6 1717.5,1135.3 1718.0,1131.2 1718.5,1133.1 1719.0,1134.3 1719.5,1133.3 1720.0,1134.1 1720.5,1133.3 1721.0,1139.2 1721.5,1128.4 1722.0,1136.9 1722.5,1135.2 1723.0,1132.0 1723.5,1133.6 1724.0,1131.5 1724.5,1137.3 1725.0,1137.9 1725.5,1137.2 1726.0,1140.7 1726.5,1132.0 1727.0,1133.2 1727.5,1135.6 1728.0,1138.9 1728.5,1138.4 1729.0,1134.5 1729.5,1137.5 1730.0,1139.6 1730.5,1133.8 1731.0,1139.3 1731.5,1140.3 1732.0,1140.8 1732.5,1140.9 1733.0,1137.3 1733.5,1132.6 1734.0,1134.5 1734.5,1135.8 1735.0,1137.6 1735.5,1140.2 1736.0,1138.3 1736.5,1139.0 1737.0,1141.9 1737.5,1134.1 1738.0,1138.9 1738.5,1140.0 1739.0,1141.6 1739.5,1144.0 1740.0,1141.0 1740.5,1135.4 1741.0,1139.8 1741.5,1136.0 1742.0,1139.3 1742.5,1136.5 1743.0,1136.8 1743.5,1138.9 1744.0,1136.5 1744.5,1138.3 1745.0,1138.0 1745.5,1139.5 1746.0,1136.5 1746.5,1135.0 1747.0,1133.4 1747.5,1139.3 1748.0,1139.7 1748.5,1135.2 1749.0,1133.0 1749.5,1139.8 1750.0,1138.0 1750.5,1140.0 1751.0,1138.0 1751.5,1141.3 1752.0,1138.9 1752.5,1137.7 1753.0,1140.5 1753.5,1134.9 1754.0,1137.7 1754.5,1138.2 1755.0,1137.0 1755.5,1138.7 1756.0,1136.8 1756.5,1133.4 1757.0,1142.9 1757.5,1137.7 1758.0,1137.1 1758.5,1134.0 1759.0,1137.9 1759.5,1137.2 1760.0,1134.0 1760.5,1140.8 1761.0,1140.2 1761.5,1132.9 1762.0,1139.8 1762.5,1135.8 1763.0,1139.9 1763.5,1139.2 1764.0,1140.5 1764.5,1139.3 1765.0,1141.8 1765.5,1137.0 1766.0,1137.1 1766.5,1137.1 1767.0,1136.8 1767.5,1143.7 1768.0,1138.5 1768.5,1141.5 1769.0,1138.8 1769.5,1137.9 1770.0,1140.7 1770.5,1136.5 1771.0,1140.1 1771.5,1141.7 1772.0,1138.6 1772.5,1138.8 1773.0,1137.4 1773.5,1140.3 1774.0,1141.0 1774.5,1141.3 1775.0,1137.5 1775.5,1138.7 1776.0,1136.4 1776.5,1139.7 1777.0,1140.5 1777.5,1139.1 1778.0,1138.5 1778.5,1139.8 1779.0,1139.5 1779.5,1140.0 1780.0,1137.0 1780.5,1136.7 1781.0,1137.6 1781.5,1136.5 1782.0,1139.7 1782.5,1144.1 1783.0,1139.2 1783.5,1134.7 1784.0,1136.9 1784.5,1136.4 1785.0,1140.2 1785.5,1139.5 1786.0,1143.5 1786.5,1139.3 1787.0,1138.6 1787.5,1142.2 1788.0,1136.5 1788.5,1138.9 1789.0,1142.0 1789.5,1139.6 1790.0,1140.1 1790.5,1136.6 1791.0,1135.0 1791.5,1138.2 1792.0,1141.6 1792.5,1137.6 1793.0,1136.2 1793.5,1135.0 1794.0,1143.9 1794.5,1134.9 1795.0,1137.4 1795.5,1136.0 1796.0,1140.7 1796.5,1134.6 1797.0,1135.3 1797.5,1139.5 1798.0,1134.8 1798.5,1140.3 1799.0,1142.1 1799.5,1139.3 1800.0,1132.4 1800.5,1137.3 1801.0,1138.3 1801.5,1142.5 1802.0,1143.0 1802.5,1141.6 1803.0,1139.2 1803.5,1138.4 1804.0,1138.8 1804.5,1137.4 1805.0,1137.9 1805.5,1137.5 1806.0,1139.0 1806.5,1142.4 1807.0,1135.5 1807.5,1143.9 1808.0,1140.6 1808.5,1141.4 1809.0,1138.9 1809.5,1138.9 1810.0,1142.2 1810.5,1138.0 1811.0,1136.6 1811.5,1138.9 1812.0,1137.5 1812.5,1142.6 1813.0,1139.5 1813.5,1140.5 1814.0,1139.2 1814.5,1139.1 1815.0,1142.1 1815.5,1140.0 1816.0,1143.0 1816.5,1134.4 1817.0,1140.4 1817.5,1141.5 1818.0,1139.1 1818.5,1134.6 1819.0,1139.2 1819.5,1138.5 1820.0,1142.7 1820.5,1142.4 1821.0,1142.1 1821.5,1140.0 1822.0,1140.4 1822.5,1140.1 1823.0,1142.4 1823.5,1139.7 1824.0,1141.4 1824.5,1142.0 1825.0,1139.6 1825.5,1140.3 1826.0,1138.1 1826.5,1137.0 1827.0,1138.3 1827.5,1138.0 1828.0,1135.9 1828.5,1140.3 1829.0,1142.1 1829.5,1142.3 1830.0,1143.8 1830.5,1139.4 1831.0,1145.8 1831.5,1139.1 1832.0,1140.6 1832.5,1143.5 1833.0,1135.9 1833.5,1141.1 1834.0,1141.0 1834.5,1145.6 1835.0,1138.6 1835.5,1140.6 1836.0,1133.8 1836.5,1140.1 1837.0,1136.0 1837.5,1136.8 1838.0,1141.7 1838.5,1138.4 1839.0,1136.6 1839.5,1141.9 1840.0,1140.4 1840.5,1138.9 1841.0,1135.9 1841.5,1138.0 1842.0,1136.4 1842.5,1139.0 1843.0,1138.7 1843.5,1139.2 1844.0,1137.7 1844.5,1138.6 1845.0,1141.6 1845.5,1137.8 1846.0,1141.3 1846.5,1140.9 1847.0,1140.7 1847.5,1133.9 1848.0,1140.5 1848.5,1138.6 1849.0,1139.2 1849.5,1137.2 1850.0,1137.0 1850.5,1134.6 1851.0,1134.1 1851.5,1138.0 1852.0,1134.6 1852.5,1135.5 1853.0,1139.1 1853.5,1139.9 1854.0,1135.9 1854.5,1130.8 1855.0,1136.8 1855.5,1138.3 1856.0,1135.8 1856.5,1134.5 1857.0,1132.4 1857.5,1135.7 1858.0,1142.5 1858.5,1136.7 1859.0,1134.0 1859.5,1132.3 1860.0,1135.8 1860.5,1130.8 1861.0,1133.0 1861.5,1133.6 1862.0,1133.5 1862.5,1135.2 1863.0,1133.8 1863.5,1130.6 1864.0,1128.0 1864.5,1134.0 1865.0,1126.2 1865.5,1129.6 1866.0,1138.9 1866.5,1131.2 1867.0,1137.0 1867.5,1131.2 1868.0,1133.8 1868.5,1134.7 1869.0,1135.8 1869.5,1131.8 1870.0,1129.3 1870.5,1132.3 1871.0,1128.1 1871.5,1128.1 1872.0,1134.8 1872.5,1129.6 1873.0,1135.3 1873.5,1135.0 1874.0,1129.5 1874.5,1130.4 1875.0,1130.9 1875.5,1134.3 1876.0,1131.5 1876.5,1134.7 1877.0,1131.3 1877.5,1134.5 1878.0,1130.7 1878.5,1134.9 1879.0,1133.4 1879.5,1134.8 1880.0,1133.7 1880.5,1126.2 1881.0,1136.0 1881.5,1131.1 1882.0,1126.6 1882.5,1128.8 1883.0,1127.8 1883.5,1132.0 1884.0,1129.1 1884.5,1130.0 1885.0,1132.6 1885.5,1125.5 1886.0,1125.5 1886.5,1130.0 1887.0,1125.1 1887.5,1131.6 1888.0,1125.8 1888.5,1126.2 1889.0,1131.0 1889.5,1133.1 1890.0,1128.4 1890.5,1127.1 1891.0,1124.3 1891.5,1127.1 1892.0,1126.7 1892.5,1124.7 1893.0,1126.3 1893.5,1130.1 1894.0,1127.8 1894.5,1120.1 1895.0,1131.9 1895.5,1130.3 1896.0,1123.4 1896.5,1130.4 1897.0,1123.3 1897.5,1128.2 1898.0,1126.9 1898.5,1123.6 1899.0,1127.3 1899.5,1126.5 1900.0,1126.6 1900.5,1122.2 1901.0,1127.9 1901.5,1124.9 1902.0,1129.4 1902.5,1127.8 1903.0,1127.2 1903.5,1122.0 1904.0,1130.7 1904.5,1125.9 1905.0,1124.7 1905.5,1123.0 1906.0,1124.4 1906.5,1127.5 1907.0,1118.3 1907.5,1125.5 1908.0,1120.3 1908.5,1121.2 1909.0,1125.0 1909.5,1125.1 1910.0,1122.7 1910.5,1124.3 1911.0,1127.6 1911.5,1123.4 1912.0,1119.8 1912.5,1121.8 1913.0,1121.6 1913.5,1126.7 1914.0,1121.3 1914.5,1117.3 1915.0,1118.2 1915.5,1125.6 1916.0,1123.3 1916.5,1118.4 1917.0,1117.3 1917.5,1123.7 1918.0,1117.5 1918.5,1120.4 1919.0,1123.3 1919.5,1122.7 1920.0,1117.8 1920.5,1122.1 1921.0,1115.5 1921.5,1120.9 1922.0,1118.2 1922.5,1114.2 1923.0,1123.5 1923.5,1118.9 1924.0,1120.7 1924.5,1117.9 1925.0,1127.6 1925.5,1123.7 1926.0,1118.2 1926.5,1124.8 1927.0,1121.4 1927.5,1123.4 1928.0,1112.2 1928.5,1119.1 1929.0,1114.8 1929.5,1117.5 1930.0,1116.7 1930.5,1118.5 1931.0,1111.4 1931.5,1116.2 1932.0,1112.8 1932.5,1120.2 1933.0,1117.7 1933.5,1118.7 1934.0,1119.7 1934.5,1118.8 1935.0,1114.4 1935.5,1116.5 1936.0,1110.3 1936.5,1114.5 1937.0,1114.6 1937.5,1114.9 1938.0,1116.5 1938.5,1115.4 1939.0,1120.7 1939.5,1118.2 1940.0,1115.3 1940.5,1114.1 1941.0,1113.2 1941.5,1118.5 1942.0,1112.3 1942.5,1117.4 1943.0,1111.0 1943.5,1114.0 1944.0,1110.2 1944.5,1115.5 1945.0,1114.6 1945.5,1112.3 1946.0,1108.7 1946.5,1105.1 1947.0,1111.7 1947.5,1116.4 1948.0,1110.1 1948.5,1113.7 1949.0,1109.9 1949.5,1114.7 1950.0,1109.7 1950.5,1116.5 1951.0,1109.5 1951.5,1111.3 1952.0,1117.4 1952.5,1112.9 1953.0,1112.1 1953.5,1111.3 1954.0,1112.8 1954.5,1108.2 1955.0,1107.6 1955.5,1115.7 1956.0,1110.8 1956.5,1111.2 1957.0,1110.2 1957.5,1110.4 1958.0,1113.5 1958.5,1110.1 1959.0,1108.8 1959.5,1106.9 1960.0,1109.1 1960.5,1111.9 1961.0,1106.2 1961.5,1106.2 1962.0,1111.1 1962.5,1107.7 1963.0,1110.2 1963.5,1102.9 1964.0,1103.6 1964.5,1102.3 1965.0,1106.7 1965.5,1100.0 1966.0,1106.4 1966.5,1104.2 1967.0,1105.7 1967.5,1106.5 1968.0,1106.6 1968.5,1095.4 1969.0,1104.9 1969.5,1106.3 1970.0,1101.1 1970.5,1104.4 1971.0,1104.1 1971.5,1104.2 1972.0,1098.0 1972.5,1105.8 1973.0,1096.9 1973.5,1102.9 1974.0,1103.3 1974.5,1103.0 1975.0,1102.5 1975.5,1106.1 1976.0,1103.4 1976.5,1102.4 1977.0,1105.1 1977.5,1096.4 1978.0,1099.7 1978.5,1097.1 1979.0,1096.8 1979.5,1104.3 1980.0,1101.5 1980.5,1106.1 1981.0,1103.2 1981.5,1090.9 1982.0,1099.6 1982.5,1099.1 1983.0,1098.4 1983.5,1106.3 1984.0,1098.8 1984.5,1104.2 1985.0,1100.3 1985.5,1100.2 1986.0,1098.6 1986.5,1106.4 1987.0,1100.5 1987.5,1097.2 1988.0,1101.2 1988.5,1095.8 1989.0,1105.1 1989.5,1096.7 1990.0,1098.4 1990.5,1101.5 1991.0,1097.3 1991.5,1105.7 1992.0,1100.7 1992.5,1101.2 1993.0,1101.1 1993.5,1100.8 1994.0,1101.3 1994.5,1107.5 1995.0,1100.2 1995.5,1097.6 1996.0,1105.3 1996.5,1104.3 1997.0,1099.6 1997.5,1099.6 1998.0,1105.5 1998.5,1101.7 1999.0,1101.0 1999.5,1100.8 2000.0,1099.1 2000.5,1103.4 2001.0,1096.7 2001.5,1097.4 2002.0,1095.3 2002.5,1099.3 2003.0,1097.6 2003.5,1102.3 2004.0,1099.0 2004.5,1100.9 2005.0,1103.7 2005.5,1101.9 2006.0,1099.6 2006.5,1100.1 2007.0,1099.4 2007.5,1102.2 2008.0,1102.5 2008.5,1106.8 2009.0,1105.0 2009.5,1103.9 2010.0,1100.8 2010.5,1104.1 2011.0,1099.7 2011.5,1096.9 2012.0,1105.0 2012.5,1106.3 2013.0,1093.1 2013.5,1107.1 2014.0,1098.5 2014.5,1100.7 2015.0,1105.8 2015.5,1103.7 2016.0,1104.4 2016.5,1101.2 2017.0,1109.1 2017.5,1104.7 2018.0,1104.7 2018.5,1111.0 2019.0,1105.9 2019.5,1108.0 2020.0,1108.9 2020.5,1106.5 2021.0,1102.4 2021.5,1108.9 2022.0,1105.0 2022.5,1111.6 2023.0,1111.2 2023.5,1097.8 2024.0,1114.5 2024.5,1104.0 2025.0,1109.1 2025.5,1109.8 2026.0,1108.4 2026.5,1110.0 2027.0,1113.3 2027.5,1110.2 2028.0,1108.8 2028.5,1109.9 2029.0,1109.6 2029.5,1109.4 2030.0,1109.8 2030.5,1109.7 2031.0,1113.3 2031.5,1108.5 2032.0,1107.3 2032.5,1115.1 2033.0,1110.4 2033.5,1115.4 2034.0,1111.9 2034.5,1108.9 2035.0,1113.1 2035.5,1118.0 2036.0,1109.6 2036.5,1111.1 2037.0,1107.5 2037.5,1113.3 2038.0,1112.2 2038.5,1119.6 2039.0,1105.8 2039.5,1114.6 2040.0,1113.4 2040.5,1115.1 2041.0,1112.6 2041.5,1114.2 2042.0,1111.8 2042.5,1112.5 2043.0,1116.5 2043.5,1106.2 2044.0,1117.6 2044.5,1112.0 2045.0,1114.2 2045.5,1118.2 2046.0,1118.3 2046.5,1115.4 2047.0,1114.7 2047.5,1110.4 2048.0,1115.1 2048.5,1114.3 2049.0,1113.6 2049.5,1111.9 2050.0,1115.2 2050.5,1117.1 2051.0,1113.6 2051.5,1110.7 2052.0,1117.4 2052.5,1112.7 2053.0,1114.0 2053.5,1115.1 2054.0,1114.8 2054.5,1113.1 2055.0,1114.0 2055.5,1116.5 2056.0,1115.3 2056.5,1117.4 2057.0,1119.6 2057.5,1120.8 2058.0,1114.5 2058.5,1115.8 2059.0,1117.0 2059.5,1117.3 2060.0,1119.4 2060.5,1118.7 2061.0,1113.4 2061.5,1114.2 2062.0,1119.9 2062.5,1122.7 2063.0,1123.1 2063.5,1121.2 2064.0,1121.3 2064.5,1116.5 2065.0,1116.1 2065.5,1120.6 2066.0,1129.4 2066.5,1124.5 2067.0,1120.5 2067.5,1119.8 2068.0,1120.6 2068.5,1120.4 2069.0,1126.5 2069.5,1119.8 2070.0,1124.7 2070.5,1121.7 2071.0,1124.6 2071.5,1127.2 2072.0,1124.5 2072.5,1124.9 2073.0,1122.5 2073.5,1123.1 2074.0,1130.0 2074.5,1123.9 2075.0,1125.4 2075.5,1122.7 2076.0,1127.6 2076.5,1123.9 2077.0,1127.5 2077.5,1125.8 2078.0,1125.2 2078.5,1128.4 2079.0,1129.9 2079.5,1124.6 2080.0,1130.8 2080.5,1128.7 2081.0,1130.7 2081.5,1131.6 2082.0,1127.3 2082.5,1128.2 2083.0,1129.8 2083.5,1132.3 2084.0,1122.9 2084.5,1134.2 2085.0,1129.1 2085.5,1125.3 2086.0,1129.6 2086.5,1127.5 2087.0,1135.7 2087.5,1129.4 2088.0,1129.1 2088.5,1129.9 2089.0,1128.5 2089.5,1131.7 2090.0,1133.0 2090.5,1132.0 2091.0,1129.3 2091.5,1134.3 2092.0,1131.7 2092.5,1131.5 2093.0,1135.3 2093.5,1133.0 2094.0,1125.2 2094.5,1134.3 2095.0,1127.9 2095.5,1129.9 2096.0,1132.3 2096.5,1133.8 2097.0,1134.5 2097.5,1132.6 2098.0,1136.0 2098.5,1135.1 2099.0,1133.3 2099.5,1129.9 2100.0,1135.7 2100.5,1131.3 2101.0,1132.4 2101.5,1133.3 2102.0,1133.1 2102.5,1128.9 2103.0,1134.9 2103.5,1132.7 2104.0,1133.4 2104.5,1137.4 2105.0,1140.3 2105.5,1136.4 2106.0,1133.8 2106.5,1134.3 2107.0,1139.2 2107.5,1136.2 2108.0,1133.2 2108.5,1142.4 2109.0,1138.7 2109.5,1135.0 2110.0,1135.1 2110.5,1132.7 2111.0,1131.4 2111.5,1137.5 2112.0,1134.9 2112.5,1140.8 2113.0,1135.7 2113.5,1137.1 2114.0,1139.8 2114.5,1133.9 2115.0,1139.0 2115.5,1133.5 2116.0,1144.3 2116.5,1134.5 2117.0,1135.8 2117.5,1144.7 2118.0,1137.1 2118.5,1140.3 2119.0,1138.3 2119.5,1132.7 2120.0,1138.9 2120.5,1136.2 2121.0,1143.4 2121.5,1136.0 2122.0,1143.5 2122.5,1138.1 2123.0,1140.2 2123.5,1146.0 2124.0,1138.2 2124.5,1138.4 2125.0,1141.1 2125.5,1136.8 2126.0,1141.8 2126.5,1141.9 2127.0,1139.8 2127.5,1135.1 2128.0,1133.8 2128.5,1137.7 2129.0,1138.8 2129.5,1134.0 2130.0,1139.4 2130.5,1140.4 2131.0,1140.4 2131.5,1143.7 2132.0,1139.2 2132.5,1141.3 2133.0,1138.5 2133.5,1143.3 2134.0,1140.1 2134.5,1140.3 2135.0,1141.2 2135.5,1135.7 2136.0,1143.5 2136.5,1139.6 2137.0,1140.7 2137.5,1140.9 2138.0,1148.3 2138.5,1141.6 2139.0,1140.1 2139.5,1141.5 2140.0,1141.1 2140.5,1141.1 2141.0,1142.5 2141.5,1144.8 2142.0,1139.3 2142.5,1143.3 2143.0,1142.0 2143.5,1142.7 2144.0,1145.0 2144.5,1142.2 2145.0,1136.1 2145.5,1144.6 2146.0,1144.7 2146.5,1144.7 2147.0,1141.3 2147.5,1147.6 2148.0,1142.8 2148.5,1141.2 2149.0,1148.3 2149.5,1137.1 2150.0,1145.3 2150.5,1145.0 2151.0,1142.9 2151.5,1141.8 2152.0,1147.7 2152.5,1147.1 2153.0,1148.3 2153.5,1144.4 2154.0,1144.2 2154.5,1144.4 2155.0,1141.2 2155.5,1148.0 2156.0,1147.7 2156.5,1146.7 2157.0,1141.3 2157.5,1144.4 2158.0,1145.9 2158.5,1146.3 2159.0,1143.2 2159.5,1146.8 2160.0,1149.4 2160.5,1142.0 2161.0,1144.0 2161.5,1141.8 2162.0,1141.5 2162.5,1143.6 2163.0,1146.0 2163.5,1146.5 2164.0,1145.0 2164.5,1147.8 2165.0,1147.1 2165.5,1144.3 2166.0,1146.9 2166.5,1145.7 2167.0,1145.7 2167.5,1142.9 2168.0,1147.1 2168.5,1143.9 2169.0,1149.3 2169.5,1145.3 2170.0,1147.7 2170.5,1144.8 2171.0,1141.8 2171.5,1146.3 2172.0,1143.5 2172.5,1145.8 2173.0,1145.0 2173.5,1151.2 2174.0,1145.6 2174.5,1146.0 2175.0,1145.8 2175.5,1150.4 2176.0,1146.8 2176.5,1146.4 2177.0,1150.6 2177.5,1149.9 2178.0,1146.0 2178.5,1142.6 2179.0,1148.3 2179.5,1146.6 2180.0,1144.7 2180.5,1147.9 2181.0,1147.3 2181.5,1144.0 2182.0,1148.7 2182.5,1147.8 2183.0,1150.3 2183.5,1146.5 2184.0,1150.5 2184.5,1147.0 2185.0,1146.7 2185.5,1147.5 2186.0,1148.6 2186.5,1144.9 2187.0,1150.4 2187.5,1148.1 2188.0,1149.6 2188.5,1147.8 2189.0,1148.5 2189.5,1148.0 2190.0,1144.0 2190.5,1143.6 2191.0,1146.4 2191.5,1152.3 2192.0,1144.7 2192.5,1148.5 2193.0,1150.1 2193.5,1146.4 2194.0,1148.9 2194.5,1147.9 2195.0,1153.3 2195.5,1150.1 2196.0,1144.2 2196.5,1147.0 2197.0,1144.3 2197.5,1146.8 2198.0,1145.4 2198.5,1145.1 2199.0,1151.1 2199.5,1148.5 2200.0,1148.8 2200.5,1150.4 2201.0,1150.9 2201.5,1148.4 2202.0,1143.0 2202.5,1150.3 2203.0,1148.7 2203.5,1142.8 2204.0,1146.5 2204.5,1144.9 2205.0,1144.6 2205.5,1149.7 2206.0,1145.7 2206.5,1147.0 2207.0,1145.6 2207.5,1150.2 2208.0,1143.8 2208.5,1147.0 2209.0,1149.5 2209.5,1147.2 2210.0,1145.3 2210.5,1143.5 2211.0,1150.2 2211.5,1148.8 2212.0,1148.2 2212.5,1147.3 2213.0,1149.3 2213.5,1148.8 2214.0,1143.7 2214.5,1147.2 2215.0,1149.7 2215.5,1150.7 2216.0,1141.5 2216.5,1148.9 2217.0,1151.1 2217.5,1148.4 2218.0,1150.9 2218.5,1146.5 2219.0,1147.6 2219.5,1146.4 2220.0,1145.9 2220.5,1148.7 2221.0,1146.6 2221.5,1149.2 2222.0,1148.2 2222.5,1144.1 2223.0,1148.9 2223.5,1140.7 2224.0,1145.5 2224.5,1144.7 2225.0,1143.6 2225.5,1146.8 2226.0,1149.5 2226.5,1148.0 2227.0,1146.8 2227.5,1142.9 2228.0,1147.2 2228.5,1144.4 2229.0,1144.4 2229.5,1146.5 2230.0,1143.7 2230.5,1143.7 2231.0,1146.3 2231.5,1143.9 2232.0,1147.4 2232.5,1141.9 2233.0,1147.1 2233.5,1146.7 2234.0,1145.4 2234.5,1142.5 2235.0,1147.0 2235.5,1143.1 2236.0,1147.6 2236.5,1146.0 2237.0,1142.1 2237.5,1145.6 2238.0,1146.3 2238.5,1146.2 2239.0,1144.7 2239.5,1144.8 2240.0,1149.1 2240.5,1145.3 2241.0,1146.3 2241.5,1144.9 2242.0,1140.6 2242.5,1145.8 2243.0,1143.7 2243.5,1144.4 2244.0,1143.6 2244.5,1142.0 2245.0,1142.5 2245.5,1142.0 2246.0,1145.0 2246.5,1142.2 2247.0,1142.7 2247.5,1140.7 2248.0,1146.1 2248.5,1142.7 2249.0,1143.4 2249.5,1144.5 2250.0,1141.2 2250.5,1143.4 2251.0,1145.0 2251.5,1148.5 2252.0,1143.5 2252.5,1142.5 2253.0,1143.9 2253.5,1142.2 2254.0,1139.3 2254.5,1142.2 2255.0,1141.8 2255.5,1143.4 2256.0,1135.3 2256.5,1142.8 2257.0,1142.2 2257.5,1142.9 2258.0,1141.3 2258.5,1142.4 2259.0,1138.0 2259.5,1140.4 2260.0,1139.5 2260.5,1144.8 2261.0,1143.2 2261.5,1140.2 2262.0,1137.1 2262.5,1141.7 2263.0,1142.8 2263.5,1138.5 2264.0,1141.5 2264.5,1140.6 2265.0,1142.4 2265.5,1141.4 2266.0,1139.7 2266.5,1140.1 2267.0,1144.4 2267.5,1142.6 2268.0,1143.8 2268.5,1141.0 2269.0,1141.0 2269.5,1143.9 2270.0,1138.7 2270.5,1140.1 2271.0,1140.2 2271.5,1135.8 2272.0,1144.6 2272.5,1134.3 2273.0,1134.7 2273.5,1135.9 2274.0,1138.6 2274.5,1140.1 2275.0,1142.1 2275.5,1139.1 2276.0,1135.1 2276.5,1138.1 2277.0,1132.2 2277.5,1140.3 2278.0,1135.5 2278.5,1129.0 2279.0,1134.9 2279.5,1135.8 2280.0,1130.7 2280.5,1132.1 2281.0,1132.1 2281.5,1132.6 2282.0,1128.4 2282.5,1133.2 2283.0,1129.9 2283.5,1123.7 2284.0,1126.3 2284.5,1132.6 2285.0,1133.1 2285.5,1129.6 2286.0,1127.1 2286.5,1124.8 2287.0,1121.2 2287.5,1120.7 2288.0,1128.7 2288.5,1116.5 2289.0,1123.6 2289.5,1127.8 2290.0,1123.5 2290.5,1117.1 2291.0,1119.8 2291.5,1121.9 2292.0,1116.5 2292.5,1118.0 2293.0,1121.2 2293.5,1114.6 2294.0,1117.1 2294.5,1118.0 2295.0,1116.5 2295.5,1115.7 2296.0,1117.2 2296.5,1117.4 2297.0,1117.6 2297.5,1117.1 2298.0,1113.8 2298.5,1109.4 2299.0,1107.6 2299.5,1112.2 2300.0,1106.3 2300.5,1102.3 2301.0,1105.3 2301.5,1101.5 2302.0,1101.8 2302.5,1095.2 2303.0,1097.3 2303.5,1101.5 2304.0,1096.4 2304.5,1090.3 2305.0,1090.3 2305.5,1093.6 2306.0,1089.5 2306.5,1089.0 2307.0,1080.8 2307.5,1085.0 2308.0,1082.5 2308.5,1081.5 2309.0,1088.2 2309.5,1078.1 2310.0,1076.2 2310.5,1077.0 2311.0,1071.0 2311.5,1072.3 2312.0,1069.0 2312.5,1072.5 2313.0,1069.5 2313.5,1063.4 2314.0,1067.1 2314.5,1063.8 2315.0,1058.7 2315.5,1064.8 2316.0,1070.6 2316.5,1051.9 2317.0,1061.6 2317.5,1066.9 2318.0,1063.7 2318.5,1064.1 2319.0,1064.8 2319.5,1057.3 2320.0,1061.1 2320.5,1059.4 2321.0,1051.6 2321.5,1046.9 2322.0,1063.0 2322.5,1059.0 2323.0,1053.9 2323.5,1050.9 2324.0,1048.3 2324.5,1056.2 2325.0,1054.4 2325.5,1053.0 2326.0,1055.1 2326.5,1059.5 2327.0,1058.5 2327.5,1060.3 2328.0,1054.1 2328.5,1066.8 2329.0,1063.0 2329.5,1062.1 2330.0,1063.6 2330.5,1059.8 2331.0,1065.1 2331.5,1064.9 2332.0,1065.5 2332.5,1072.4 2333.0,1070.2 2333.5,1065.7 2334.0,1064.1 2334.5,1071.7 2335.0,1068.2 2335.5,1071.2 2336.0,1071.8 2336.5,1067.7 2337.0,1077.4 2337.5,1075.0 2338.0,1074.6 2338.5,1079.4 2339.0,1079.1 2339.5,1079.2 2340.0,1073.6 2340.5,1085.8 2341.0,1092.1 2341.5,1089.8 2342.0,1091.8 2342.5,1093.2 2343.0,1094.0 2343.5,1092.6 2344.0,1108.6 2344.5,1101.3 2345.0,1102.5 2345.5,1106.0 2346.0,1113.1 2346.5,1100.5 2347.0,1109.6 2347.5,1104.5 2348.0,1107.8 2348.5,1110.7 2349.0,1110.1 2349.5,1112.8 2350.0,1111.2 2350.5,1122.7 2351.0,1112.7 2351.5,1110.3 2352.0,1117.2 2352.5,1118.1 2353.0,1113.6 2353.5,1121.9 2354.0,1118.7 2354.5,1123.2 2355.0,1122.5 2355.5,1126.0 2356.0,1122.3 2356.5,1119.7 2357.0,1121.3 2357.5,1123.3 2358.0,1122.4 2358.5,1122.8 2359.0,1125.8 2359.5,1125.2 2360.0,1124.3" fill="none" stroke="#ff0000" stroke-width="5.6" stroke-linejoin="round" stroke-linecap="round"/>
<path d="M152.0,1440.4L152.5,1426.2 153.0,1438.2 153.5,1435.7 154.0,1439.6 154.5,1437.0 155.0,1441.4 155.5,1436.3 156.0,1434.9 156.5,1438.3 157.0,1438.0 157.5,1435.9 158.0,1436.3 158.5,1439.3 159.0,1439.4 159.5,1436.1 160.0,1436.5 160.5,1432.5 161.0,1442.6 161.5,1437.3 162.0,1441.9 162.5,1439.3 163.0,1443.8 163.5,1442.7 164.0,1439.4 164.5,1442.8 165.0,1435.9 165.5,1442.3 166.0,1434.6 166.5,1439.9 167.0,1442.0 167.5,1439.7 168.0,1438.1 168.5,1436.9 169.0,1438.3 169.5,1442.3 170.0,1441.9 170.5,1438.8 171.0,1436.1 171.5,1441.5 172.0,1435.6 172.5,1438.3 173.0,1437.8 173.5,1442.0 174.0,1440.7 174.5,1441.4 175.0,1440.9 175.5,1438.3 176.0,1441.8 176.5,1444.3 177.0,1440.3 177.5,1442.3 178.0,1440.3 178.5,1443.6 179.0,1442.6 179.5,1443.3 180.0,1441.9 180.5,1445.6 181.0,1440.1 181.5,1440.3 182.0,1439.7 182.5,1443.1 183.0,1439.8 183.5,1439.9 184.0,1443.8 184.5,1445.1 185.0,1443.6 185.5,1434.7 186.0,1439.6 186.5,1439.4 187.0,1439.2 187.5,1441.6 188.0,1447.9 188.5,1442.2 189.0,1441.2 189.5,1445.3 190.0,1443.8 190.5,1444.2 191.0,1442.2 191.5,1444.2 192.0,1445.6 192.5,1439.5 193.0,1440.5 193.5,1448.0 194.0,1447.6 194.5,1444.2 195.0,1443.1 195.5,1445.5 196.0,1443.1 196.5,1445.6 197.0,1451.1 197.5,1447.3 198.0,1450.3 198.5,1446.9 199.0,1448.7 199.5,1451.6 200.0,1444.7 200.5,1447.5 201.0,1448.2 201.5,1449.6 202.0,1453.1 202.5,1451.1 203.0,1445.7 203.5,1449.0 204.0,1447.7 204.5,1447.8 205.0,1455.5 205.5,1447.8 206.0,1451.3 206.5,1449.1 207.0,1453.3 207.5,1452.2 208.0,1451.8 208.5,1451.4 209.0,1454.6 209.5,1449.5 210.0,1450.2 210.5,1449.3 211.0,1455.6 211.5,1451.6 212.0,1449.9 212.5,1451.5 213.0,1459.0 213.5,1452.5 214.0,1455.0 214.5,1454.2 215.0,1453.1 215.5,1451.5 216.0,1452.5 216.5,1452.5 217.0,1448.0 217.5,1460.0 218.0,1456.0 218.5,1454.1 219.0,1453.4 219.5,1452.0 220.0,1456.4 220.5,1453.7 221.0,1455.4 221.5,1450.9 222.0,1455.3 222.5,1459.4 223.0,1453.9 223.5,1456.6 224.0,1454.8 224.5,1457.5 225.0,1457.5 225.5,1455.1 226.0,1453.7 226.5,1455.8 227.0,1455.3 227.5,1453.8 228.0,1456.5 228.5,1456.5 229.0,1453.4 229.5,1455.3 230.0,1462.8 230.5,1457.7 231.0,1456.1 231.5,1462.0 232.0,1454.9 232.5,1450.1 233.0,1451.6 233.5,1452.6 234.0,1457.0 234.5,1458.8 235.0,1451.3 235.5,1459.3 236.0,1453.7 236.5,1457.4 237.0,1458.0 237.5,1458.0 238.0,1457.0 238.5,1457.5 239.0,1454.5 239.5,1458.0 240.0,1459.7 240.5,1459.7 241.0,1463.8 241.5,1460.2 242.0,1459.5 242.5,1461.8 243.0,1458.5 243.5,1455.0 244.0,1452.9 244.5,1461.2 245.0,1459.7 245.5,1460.4 246.0,1457.7 246.5,1459.4 247.0,1463.1 247.5,1459.6 248.0,1456.3 248.5,1457.9 249.0,1462.3 249.5,1456.6 250.0,1453.2 250.5,1454.0 251.0,1456.3 251.5,1461.3 252.0,1459.7 252.5,1457.8 253.0,1456.7 253.5,1459.5 254.0,1459.4 254.5,1458.6 255.0,1459.4 255.5,1458.3 256.0,1464.2 256.5,1454.7 257.0,1460.5 257.5,1457.9 258.0,1461.9 258.5,1459.8 259.0,1461.2 259.5,1461.7 260.0,1461.0 260.5,1462.8 261.0,1457.4 261.5,1462.8 262.0,1460.2 262.5,1461.6 263.0,1464.3 263.5,1463.3 264.0,1465.3 264.5,1455.7 265.0,1458.7 265.5,1463.1 266.0,1458.4 266.5,1460.5 267.0,1464.9 267.5,1463.0 268.0,1458.9 268.5,1462.1 269.0,1462.6 269.5,1461.3 270.0,1460.9 270.5,1461.5 271.0,1457.8 271.5,1461.5 272.0,1459.1 272.5,1462.2 273.0,1462.3 273.5,1459.3 274.0,1462.7 274.5,1462.2 275.0,1461.3 275.5,1463.1 276.0,1460.8 276.5,1460.8 277.0,1461.7 277.5,1461.4 278.0,1464.1 278.5,1456.2 279.0,1460.9 279.5,1457.1 280.0,1460.5 280.5,1462.2 281.0,1461.6 281.5,1463.8 282.0,1462.4 282.5,1455.5 283.0,1459.2 283.5,1465.2 284.0,1465.2 284.5,1462.0 285.0,1458.3 285.5,1466.7 286.0,1457.1 286.5,1462.5 287.0,1461.8 287.5,1462.4 288.0,1459.3 288.5,1461.1 289.0,1464.4 289.5,1460.9 290.0,1458.9 290.5,1462.0 291.0,1462.3 291.5,1461.8 292.0,1460.4 292.5,1463.4 293.0,1461.9 293.5,1459.6 294.0,1462.8 294.5,1462.3 295.0,1462.7 295.5,1458.6 296.0,1460.7 296.5,1463.5 297.0,1464.6 297.5,1463.3 298.0,1462.9 298.5,1464.2 299.0,1464.9 299.5,1466.6 300.0,1463.8 300.5,1461.5 301.0,1463.9 301.5,1458.5 302.0,1463.0 302.5,1462.0 303.0,1462.9 303.5,1464.1 304.0,1463.1 304.5,1459.8 305.0,1462.3 305.5,1461.3 306.0,1463.1 306.5,1463.9 307.0,1461.0 307.5,1464.8 308.0,1466.0 308.5,1462.6 309.0,1464.8 309.5,1459.9 310.0,1462.0 310.5,1465.3 311.0,1459.3 311.5,1462.1 312.0,1461.2 312.5,1465.7 313.0,1465.7 313.5,1461.7 314.0,1463.4 314.5,1457.3 315.0,1464.9 315.5,1463.8 316.0,1465.9 316.5,1457.6 317.0,1463.7 317.5,1462.1 318.0,1457.0 318.5,1461.2 319.0,1462.5 319.5,1464.5 320.0,1463.1 320.5,1461.4 321.0,1463.5 321.5,1462.2 322.0,1461.0 322.5,1460.1 323.0,1462.7 323.5,1462.6 324.0,1466.3 324.5,1461.2 325.0,1465.7 325.5,1462.8 326.0,1464.7 326.5,1459.9 327.0,1460.0 327.5,1461.2 328.0,1463.8 328.5,1462.2 329.0,1463.4 329.5,1462.4 330.0,1463.9 330.5,1462.0 331.0,1460.4 331.5,1462.7 332.0,1461.7 332.5,1465.4 333.0,1461.0 333.5,1461.6 334.0,1460.7 334.5,1463.9 335.0,1463.3 335.5,1462.7 336.0,1458.4 336.5,1457.8 337.0,1461.8 337.5,1462.8 338.0,1464.5 338.5,1457.1 339.0,1460.7 339.5,1457.3 340.0,1458.9 340.5,1460.6 341.0,1463.2 341.5,1459.8 342.0,1459.4 342.5,1460.3 343.0,1463.8 343.5,1466.5 344.0,1457.5 344.5,1460.3 345.0,1459.9 345.5,1463.6 346.0,1461.9 346.5,1464.4 347.0,1458.6 347.5,1460.9 348.0,1459.8 348.5,1458.3 349.0,1460.4 349.5,1458.1 350.0,1465.7 350.5,1461.7 351.0,1458.4 351.5,1459.3 352.0,1464.7 352.5,1459.6 353.0,1462.3 353.5,1462.0 354.0,1463.1 354.5,1462.1 355.0,1460.2 355.5,1459.3 356.0,1456.6 356.5,1460.5 357.0,1460.9 357.5,1459.7 358.0,1460.2 358.5,1457.8 359.0,1465.5 359.5,1459.4 360.0,1458.1 360.5,1459.1 361.0,1460.1 361.5,1462.2 362.0,1454.9 362.5,1461.6 363.0,1459.0 363.5,1460.0 364.0,1462.7 364.5,1462.1 365.0,1458.8 365.5,1460.2 366.0,1464.6 366.5,1463.5 367.0,1462.3 367.5,1460.4 368.0,1462.5 368.5,1461.2 369.0,1459.1 369.5,1458.0 370.0,1461.5 370.5,1461.2 371.0,1463.0 371.5,1459.2 372.0,1463.5 372.5,1459.4 373.0,1463.1 373.5,1461.5 374.0,1458.9 374.5,1458.0 375.0,1459.9 375.5,1459.6 376.0,1462.3 376.5,1458.6 377.0,1456.8 377.5,1460.1 378.0,1464.5 378.5,1463.9 379.0,1458.7 379.5,1459.5 380.0,1460.8 380.5,1458.5 381.0,1459.5 381.5,1459.4 382.0,1457.6 382.5,1458.6 383.0,1458.9 383.5,1460.5 384.0,1457.2 384.5,1460.2 385.0,1457.7 385.5,1458.0 386.0,1457.3 386.5,1469.1 387.0,1462.7 387.5,1462.9 388.0,1461.6 388.5,1459.2 389.0,1459.9 389.5,1460.3 390.0,1460.7 390.5,1461.0 391.0,1463.1 391.5,1452.7 392.0,1458.2 392.5,1461.0 393.0,1458.6 393.5,1459.0 394.0,1462.7 394.5,1459.7 395.0,1463.3 395.5,1459.1 396.0,1459.7 396.5,1456.6 397.0,1454.4 397.5,1458.0 398.0,1459.1 398.5,1458.1 399.0,1455.7 399.5,1460.3 400.0,1458.9 400.5,1458.7 401.0,1456.8 401.5,1462.4 402.0,1462.0 402.5,1459.2 403.0,1458.2 403.5,1459.0 404.0,1462.3 404.5,1464.9 405.0,1458.3 405.5,1457.2 406.0,1454.0 406.5,1464.7 407.0,1455.5 407.5,1460.1 408.0,1459.2 408.5,1461.1 409.0,1456.0 409.5,1454.1 410.0,1458.3 410.5,1458.8 411.0,1460.5 411.5,1453.9 412.0,1456.7 412.5,1457.1 413.0,1454.5 413.5,1457.3 414.0,1459.5 414.5,1457.5 415.0,1454.2 415.5,1458.3 416.0,1459.5 416.5,1458.7 417.0,1459.3 417.5,1453.5 418.0,1458.4 418.5,1458.7 419.0,1456.4 419.5,1457.1 420.0,1455.4 420.5,1460.0 421.0,1456.4 421.5,1454.8 422.0,1457.4 422.5,1457.2 423.0,1458.5 423.5,1454.9 424.0,1455.2 424.5,1457.7 425.0,1462.0 425.5,1457.7 426.0,1453.4 426.5,1456.9 427.0,1454.6 427.5,1452.0 428.0,1454.7 428.5,1454.9 429.0,1457.2 429.5,1459.2 430.0,1458.7 430.5,1457.9 431.0,1454.9 431.5,1456.2 432.0,1455.6 432.5,1458.9 433.0,1454.0 433.5,1454.1 434.0,1458.8 434.5,1456.5 435.0,1453.9 435.5,1455.3 436.0,1455.1 436.5,1455.0 437.0,1456.2 437.5,1455.0 438.0,1453.5 438.5,1452.4 439.0,1449.3 439.5,1451.9 440.0,1455.3 440.5,1452.6 441.0,1449.9 441.5,1450.2 442.0,1447.9 442.5,1449.5 443.0,1452.3 443.5,1450.4 444.0,1447.2 444.5,1444.1 445.0,1439.2 445.5,1434.0 446.0,1433.6 446.5,1428.8 447.0,1427.5 447.5,1421.2 448.0,1414.3 448.5,1411.0 449.0,1410.8 449.5,1395.4 450.0,1393.5 450.5,1385.5 451.0,1377.1 451.5,1369.0 452.0,1364.7 452.5,1359.6 453.0,1356.1 453.5,1352.3 454.0,1349.0 454.6,1345.6 455.5,1353.7 456.0,1359.2 456.5,1367.2 457.0,1382.1 457.5,1389.2 458.0,1398.4 458.5,1411.1 459.0,1415.1 459.5,1427.1 460.0,1434.6 460.5,1437.8 461.0,1443.5 461.5,1451.2 462.0,1452.0 462.5,1452.8 463.0,1453.4 463.5,1451.9 464.0,1453.6 464.5,1453.9 465.0,1455.1 465.5,1455.7 466.0,1453.9 466.5,1459.8 467.0,1453.9 467.5,1457.3 468.0,1459.1 468.5,1456.8 469.0,1455.4 469.5,1457.1 470.0,1461.7 470.5,1458.7 471.0,1456.6 471.5,1458.7 472.0,1456.9 472.5,1453.0 473.0,1458.0 473.5,1459.9 474.0,1460.2 474.5,1457.3 475.0,1454.1 475.5,1460.2 476.0,1457.1 476.5,1459.1 477.0,1460.0 477.5,1458.2 478.0,1457.2 478.5,1455.8 479.0,1456.2 479.5,1457.3 480.0,1456.1 480.5,1458.0 481.0,1452.5 481.5,1454.7 482.0,1457.0 482.5,1455.3 483.0,1455.7 483.5,1454.2 484.0,1458.5 484.5,1460.7 485.0,1454.4 485.5,1459.5 486.0,1453.3 486.5,1457.1 487.0,1452.0 487.5,1457.9 488.0,1456.8 488.5,1457.0 489.0,1459.6 489.5,1458.1 490.0,1456.6 490.5,1454.7 491.0,1456.7 491.5,1454.9 492.0,1455.6 492.5,1460.1 493.0,1458.6 493.5,1457.2 494.0,1458.0 494.5,1453.0 495.0,1456.7 495.5,1452.4 496.0,1454.9 496.5,1457.3 497.0,1457.3 497.5,1458.1 498.0,1456.8 498.5,1456.5 499.0,1456.3 499.5,1459.7 500.0,1459.4 500.5,1452.8 501.0,1456.6 501.5,1459.3 502.0,1455.6 502.5,1456.7 503.0,1454.8 503.5,1453.3 504.0,1456.5 504.5,1455.1 505.0,1455.7 505.5,1452.6 506.0,1453.2 506.5,1455.7 507.0,1454.9 507.5,1457.2 508.0,1453.4 508.5,1457.5 509.0,1457.2 509.5,1456.0 510.0,1457.3 510.5,1455.5 511.0,1455.2 511.5,1455.6 512.0,1452.5 512.5,1455.4 513.0,1457.4 513.5,1451.6 514.0,1457.1 514.5,1453.8 515.0,1454.4 515.5,1455.5 516.0,1455.8 516.5,1458.4 517.0,1454.7 517.5,1459.2 518.0,1455.0 518.5,1456.1 519.0,1456.5 519.5,1453.1 520.0,1452.0 520.5,1454.9 521.0,1456.3 521.5,1456.6 522.0,1453.6 522.5,1458.7 523.0,1454.0 523.5,1452.6 524.0,1457.0 524.5,1457.1 525.0,1451.7 525.5,1456.0 526.0,1450.8 526.5,1454.0 527.0,1459.4 527.5,1456.9 528.0,1455.4 528.5,1455.2 529.0,1451.5 529.5,1454.3 530.0,1454.5 530.5,1450.8 531.0,1453.8 531.5,1454.6 532.0,1453.7 532.5,1454.1 533.0,1452.4 533.5,1450.1 534.0,1453.0 534.5,1448.0 535.0,1451.0 535.5,1455.4 536.0,1457.1 536.5,1453.6 537.0,1446.5 537.5,1455.8 538.0,1453.8 538.5,1451.9 539.0,1454.2 539.5,1453.6 540.0,1449.2 540.5,1448.9 541.0,1454.7 541.5,1446.3 542.0,1453.6 542.5,1452.8 543.0,1454.4 543.5,1456.3 544.0,1455.3 544.5,1455.8 545.0,1453.9 545.5,1453.1 546.0,1454.5 546.5,1451.7 547.0,1449.4 547.5,1451.5 548.0,1447.6 548.5,1450.3 549.0,1456.8 549.5,1452.9 550.0,1451.1 550.5,1450.0 551.0,1447.0 551.5,1450.1 552.0,1449.5 552.5,1451.4 553.0,1451.6 553.5,1451.2 554.0,1446.4 554.5,1454.9 555.0,1452.3 555.5,1451.2 556.0,1450.3 556.5,1452.2 557.0,1454.2 557.5,1452.6 558.0,1448.0 558.5,1447.7 559.0,1444.9 559.5,1451.2 560.0,1452.6 560.5,1453.8 561.0,1451.0 561.5,1452.7 562.0,1448.2 562.5,1451.8 563.0,1450.1 563.5,1448.7 564.0,1446.0 564.5,1453.2 565.0,1444.4 565.5,1451.7 566.0,1448.0 566.5,1451.6 567.0,1448.5 567.5,1451.8 568.0,1449.2 568.5,1447.0 569.0,1448.2 569.5,1445.3 570.0,1450.1 570.5,1451.9 571.0,1450.2 571.5,1449.3 572.0,1452.2 572.5,1445.7 573.0,1450.1 573.5,1448.5 574.0,1447.1 574.5,1449.7 575.0,1445.1 575.5,1447.6 576.0,1448.7 576.5,1444.6 577.0,1446.9 577.5,1448.8 578.0,1449.7 578.5,1444.6 579.0,1449.3 579.5,1446.0 580.0,1446.8 580.5,1445.0 581.0,1448.4 581.5,1444.2 582.0,1446.7 582.5,1446.8 583.0,1447.7 583.5,1442.7 584.0,1447.4 584.5,1445.2 585.0,1448.9 585.5,1443.9 586.0,1443.1 586.5,1444.3 587.0,1443.5 587.5,1443.7 588.0,1440.6 588.5,1438.2 589.0,1439.7 589.5,1441.9 590.0,1444.5 590.5,1442.4 591.0,1440.4 591.5,1442.5 592.0,1442.9 592.5,1450.2 593.0,1446.0 593.5,1442.8 594.0,1438.2 594.5,1441.5 595.0,1441.0 595.5,1443.3 596.0,1447.5 596.5,1441.3 597.0,1435.8 597.5,1440.8 598.0,1436.3 598.5,1443.2 599.0,1443.8 599.5,1441.5 600.0,1436.2 600.5,1439.8 601.0,1443.5 601.5,1437.1 602.0,1438.1 602.5,1440.4 603.0,1440.9 603.5,1439.6 604.0,1440.2 604.5,1439.6 605.0,1437.2 605.5,1438.5 606.0,1439.4 606.5,1435.3 607.0,1438.8 607.5,1438.4 608.0,1439.3 608.5,1438.8 609.0,1434.6 609.5,1433.8 610.0,1438.0 610.5,1436.7 611.0,1437.2 611.5,1435.1 612.0,1432.9 612.5,1437.2 613.0,1435.8 613.5,1437.8 614.0,1439.0 614.5,1438.8 615.0,1438.4 615.5,1432.5 616.0,1428.9 616.5,1433.1 617.0,1431.1 617.5,1430.6 618.0,1436.2 618.5,1429.3 619.0,1436.5 619.5,1436.9 620.0,1441.3 620.5,1436.3 621.0,1439.2 621.5,1430.8 622.0,1430.4 622.5,1435.1 623.0,1428.0 623.5,1435.1 624.0,1430.6 624.5,1425.2 625.0,1436.5 625.5,1427.2 626.0,1437.9 626.5,1425.6 627.0,1427.2 627.5,1430.2 628.0,1429.3 628.5,1424.1 629.0,1429.0 629.5,1429.0 630.0,1429.5 630.5,1422.9 631.0,1425.7 631.5,1426.9 632.0,1429.5 632.5,1427.2 633.0,1425.3 633.5,1424.8 634.0,1430.4 634.5,1423.0 635.0,1426.2 635.5,1418.2 636.0,1430.1 636.5,1425.9 637.0,1418.6 637.5,1425.8 638.0,1428.0 638.5,1425.9 639.0,1423.3 639.5,1425.5 640.0,1420.2 640.5,1421.5 641.0,1420.9 641.5,1422.0 642.0,1418.2 642.5,1425.7 643.0,1420.7 643.5,1417.3 644.0,1419.9 644.5,1421.6 645.0,1420.3 645.5,1423.5 646.0,1418.5 646.5,1416.9 647.0,1420.9 647.5,1423.2 648.0,1415.6 648.5,1413.3 649.0,1416.2 649.5,1417.8 650.0,1414.5 650.5,1418.2 651.0,1414.6 651.5,1420.1 652.0,1413.1 652.5,1413.7 653.0,1416.8 653.5,1418.6 654.0,1419.2 654.5,1413.6 655.0,1415.8 655.5,1417.3 656.0,1420.1 656.5,1412.2 657.0,1410.8 657.5,1416.4 658.0,1413.8 658.5,1419.0 659.0,1414.4 659.5,1415.2 660.0,1411.3 660.5,1414.7 661.0,1417.7 661.5,1412.6 662.0,1409.3 662.5,1416.1 663.0,1411.9 663.5,1413.0 664.0,1410.1 664.5,1415.5 665.0,1409.5 665.5,1409.9 666.0,1410.9 666.5,1409.2 667.0,1400.9 667.5,1408.2 668.0,1400.3 668.5,1402.4 669.0,1397.4 669.5,1396.2 670.0,1393.2 670.5,1392.8 671.0,1398.9 671.5,1401.7 672.0,1407.0 672.5,1407.6 673.0,1405.1 673.5,1412.6 674.0,1417.0 674.5,1412.3 675.0,1409.5 675.5,1406.9 676.0,1410.6 676.5,1405.4 677.0,1413.0 677.5,1408.9 678.0,1408.2 678.5,1411.0 679.0,1405.8 679.5,1404.0 680.0,1408.4 680.5,1414.0 681.0,1406.8 681.5,1412.6 682.0,1403.1 682.5,1409.1 683.0,1411.0 683.5,1415.3 684.0,1402.9 684.5,1408.6 685.0,1405.6 685.5,1409.6 686.0,1406.5 686.5,1408.6 687.0,1405.5 687.5,1406.1 688.0,1409.3 688.5,1412.9 689.0,1408.3 689.5,1407.9 690.0,1405.7 690.5,1412.7 691.0,1400.3 691.5,1400.0 692.0,1404.1 692.5,1408.3 693.0,1410.0 693.5,1408.5 694.0,1409.1 694.5,1407.0 695.0,1404.7 695.5,1402.5 696.0,1407.8 696.5,1402.8 697.0,1407.6 697.5,1408.7 698.0,1403.9 698.5,1404.4 699.0,1404.0 699.5,1408.3 700.0,1406.4 700.5,1403.5 701.0,1406.8 701.5,1411.1 702.0,1406.7 702.5,1406.2 703.0,1404.3 703.5,1402.4 704.0,1405.6 704.5,1405.8 705.0,1404.5 705.5,1409.7 706.0,1404.7 706.5,1404.9 707.0,1406.1 707.5,1407.3 708.0,1399.1 708.5,1406.3 709.0,1409.7 709.5,1401.4 710.0,1406.6 710.5,1403.5 711.0,1401.7 711.5,1406.1 712.0,1404.8 712.5,1397.9 713.0,1403.1 713.5,1408.0 714.0,1403.0 714.5,1402.5 715.0,1403.8 715.5,1403.5 716.0,1407.6 716.5,1402.0 717.0,1400.9 717.5,1406.5 718.0,1408.5 718.5,1407.4 719.0,1407.9 719.5,1402.7 720.0,1399.8 720.5,1402.5 721.0,1404.9 721.5,1399.0 722.0,1403.9 722.5,1407.0 723.0,1402.5 723.5,1411.9 724.0,1407.6 724.5,1400.7 725.0,1401.0 725.5,1402.5 726.0,1407.5 726.5,1406.7 727.0,1403.2 727.5,1405.8 728.0,1408.0 728.5,1407.1 729.0,1399.8 729.5,1401.6 730.0,1402.3 730.5,1399.6 731.0,1408.7 731.5,1403.5 732.0,1403.6 732.5,1403.0 733.0,1407.1 733.5,1408.1 734.0,1408.6 734.5,1410.6 735.0,1403.2 735.5,1412.2 736.0,1415.2 736.5,1404.9 737.0,1405.6 737.5,1409.1 738.0,1411.4 738.5,1406.3 739.0,1404.5 739.5,1414.6 740.0,1405.8 740.5,1398.2 741.0,1409.6 741.5,1411.4 742.0,1413.9 742.5,1414.3 743.0,1418.9 743.5,1406.5 744.0,1405.1 744.5,1403.6 745.0,1414.6 745.5,1407.3 746.0,1403.1 746.5,1401.9 747.0,1409.6 747.5,1407.7 748.0,1410.4 748.5,1406.5 749.0,1407.0 749.5,1411.2 750.0,1409.0 750.5,1411.8 751.0,1409.4 751.5,1409.0 752.0,1411.3 752.5,1409.0 753.0,1410.8 753.5,1411.8 754.0,1408.6 754.5,1410.1 755.0,1410.9 755.5,1412.9 756.0,1411.5 756.5,1411.6 757.0,1412.5 757.5,1409.9 758.0,1412.3 758.5,1408.7 759.0,1405.1 759.5,1412.7 760.0,1404.8 760.5,1411.0 761.0,1416.8 761.5,1414.2 762.0,1408.4 762.5,1414.4 763.0,1412.8 763.5,1409.3 764.0,1411.9 764.5,1410.5 765.0,1411.4 765.5,1413.6 766.0,1407.4 766.5,1415.6 767.0,1419.6 767.5,1412.4 768.0,1409.8 768.5,1411.9 769.0,1417.4 769.5,1411.8 770.0,1415.2 770.5,1421.4 771.0,1411.5 771.5,1414.4 772.0,1412.3 772.5,1413.1 773.0,1414.9 773.5,1412.1 774.0,1416.3 774.5,1415.5 775.0,1418.9 775.5,1417.5 776.0,1416.6 776.5,1420.4 777.0,1415.0 777.5,1417.9 778.0,1413.9 778.5,1420.8 779.0,1413.9 779.5,1419.6 780.0,1414.2 780.5,1417.4 781.0,1413.4 781.5,1414.5 782.0,1414.1 782.5,1418.7 783.0,1419.2 783.5,1420.0 784.0,1419.0 784.5,1417.2 785.0,1420.1 785.5,1423.1 786.0,1417.0 786.5,1415.9 787.0,1420.2 787.5,1425.0 788.0,1418.3 788.5,1417.6 789.0,1415.5 789.5,1416.5 790.0,1415.9 790.5,1415.8 791.0,1422.3 791.5,1423.0 792.0,1419.3 792.5,1419.3 793.0,1421.5 793.5,1418.9 794.0,1419.2 794.5,1420.6 795.0,1418.5 795.5,1422.5 796.0,1428.5 796.5,1418.1 797.0,1418.7 797.5,1414.9 798.0,1415.7 798.5,1416.8 799.0,1417.2 799.5,1414.6 800.0,1410.5 800.5,1414.3 801.0,1410.1 801.5,1411.3 802.0,1407.4 802.5,1405.2 803.0,1402.5 803.5,1392.7 804.0,1399.1 804.5,1387.8 805.0,1386.3 805.5,1380.7 806.0,1370.3 806.5,1360.0 807.0,1357.4 807.5,1343.3 808.0,1335.8 808.5,1326.7 809.0,1312.5 809.5,1297.0 810.0,1288.3 810.5,1280.1 811.0,1264.7 811.5,1259.1 812.0,1242.1 812.5,1235.5 813.0,1226.6 813.5,1224.6 814.2,1229.9 815.0,1236.8 815.5,1248.8 816.0,1266.4 816.5,1292.6 817.0,1310.1 817.5,1328.0 818.0,1354.4 818.5,1362.3 819.0,1380.7 819.5,1393.5 820.0,1403.5 820.5,1413.5 821.0,1415.5 821.5,1414.9 822.0,1423.3 822.5,1423.1 823.0,1420.2 823.5,1422.0 824.0,1423.8 824.5,1420.7 825.0,1429.1 825.5,1430.1 826.0,1430.4 826.5,1427.1 827.0,1429.8 827.5,1433.9 828.0,1431.9 828.5,1430.8 829.0,1429.4 829.5,1431.7 830.0,1435.9 830.5,1432.5 831.0,1439.4 831.5,1440.1 832.0,1435.3 832.5,1428.8 833.0,1433.0 833.5,1437.6 834.0,1432.5 834.5,1432.4 835.0,1434.6 835.5,1442.5 836.0,1433.6 836.5,1429.5 837.0,1436.1 837.5,1436.6 838.0,1437.7 838.5,1436.0 839.0,1436.9 839.5,1434.7 840.0,1439.0 840.5,1436.3 841.0,1438.0 841.5,1434.5 842.0,1440.7 842.5,1437.6 843.0,1435.8 843.5,1437.3 844.0,1434.1 844.5,1435.7 845.0,1439.8 845.5,1439.3 846.0,1440.1 846.5,1439.9 847.0,1437.2 847.5,1438.4 848.0,1443.5 848.5,1438.0 849.0,1434.0 849.5,1438.4 850.0,1437.4 850.5,1438.4 851.0,1438.8 851.5,1435.9 852.0,1440.1 852.5,1438.6 853.0,1440.8 853.5,1437.2 854.0,1436.5 854.5,1438.2 855.0,1444.1 855.5,1434.5 856.0,1442.7 856.5,1439.5 857.0,1443.0 857.5,1438.7 858.0,1441.0 858.5,1441.0 859.0,1446.0 859.5,1439.8 860.0,1440.9 860.5,1438.1 861.0,1441.2 861.5,1438.3 862.0,1440.2 862.5,1441.6 863.0,1442.2 863.5,1438.1 864.0,1438.3 864.5,1444.0 865.0,1439.4 865.5,1441.4 866.0,1440.2 866.5,1436.6 867.0,1440.8 867.5,1440.8 868.0,1446.1 868.5,1436.0 869.0,1439.8 869.5,1443.0 870.0,1439.9 870.5,1435.4 871.0,1443.2 871.5,1441.9 872.0,1439.2 872.5,1438.8 873.0,1439.7 873.5,1442.2 874.0,1441.2 874.5,1439.9 875.0,1442.7 875.5,1444.6 876.0,1440.1 876.5,1446.1 877.0,1441.9 877.5,1443.5 878.0,1443.1 878.5,1443.3 879.0,1442.6 879.5,1435.8 880.0,1439.4 880.5,1444.5 881.0,1439.2 881.5,1442.4 882.0,1437.9 882.5,1440.5 883.0,1446.4 883.5,1442.9 884.0,1439.9 884.5,1440.5 885.0,1437.7 885.5,1443.6 886.0,1441.7 886.5,1444.4 887.0,1444.5 887.5,1441.6 888.0,1439.8 888.5,1439.2 889.0,1441.4 889.5,1442.6 890.0,1446.3 890.5,1440.0 891.0,1443.8 891.5,1439.8 892.0,1441.1 892.5,1444.8 893.0,1444.1 893.5,1441.3 894.0,1441.1 894.5,1445.9 895.0,1442.4 895.5,1442.1 896.0,1440.1 896.5,1449.8 897.0,1448.1 897.5,1444.6 898.0,1449.2 898.5,1444.6 899.0,1442.4 899.5,1444.9 900.0,1447.3 900.5,1440.5 901.0,1446.9 901.5,1446.8 902.0,1447.7 902.5,1445.0 903.0,1446.8 903.5,1439.2 904.0,1443.7 904.5,1446.6 905.0,1445.4 905.5,1444.6 906.0,1440.5 906.5,1443.4 907.0,1439.1 907.5,1443.0 908.0,1444.4 908.5,1442.0 909.0,1444.4 909.5,1442.9 910.0,1444.9 910.5,1441.1 911.0,1437.2 911.5,1437.5 912.0,1438.0 912.5,1439.0 913.0,1438.2 913.5,1434.7 914.0,1435.6 914.5,1432.0 915.0,1433.8 915.5,1426.8 916.0,1431.5 916.5,1427.3 917.0,1423.6 917.5,1420.1 918.0,1422.7 918.5,1418.4 919.0,1420.6 919.5,1423.1 920.0,1418.6 920.5,1419.1 921.0,1420.7 921.5,1419.1 922.0,1427.1 922.5,1423.3 923.0,1427.7 923.5,1428.8 924.0,1428.5 924.5,1435.6 925.0,1435.0 925.5,1434.2 926.0,1435.9 926.5,1434.2 927.0,1437.8 927.5,1444.0 928.0,1445.2 928.5,1441.6 929.0,1446.4 929.5,1448.1 930.0,1448.2 930.5,1449.9 931.0,1442.2 931.5,1448.0 932.0,1445.3 932.5,1449.8 933.0,1446.4 933.5,1448.7 934.0,1450.9 934.5,1444.8 935.0,1447.2 935.5,1447.2 936.0,1449.0 936.5,1445.2 937.0,1451.3 937.5,1454.3 938.0,1448.7 938.5,1450.8 939.0,1442.7 939.5,1446.5 940.0,1451.3 940.5,1450.4 941.0,1451.3 941.5,1453.1 942.0,1449.9 942.5,1449.1 943.0,1448.5 943.5,1450.0 944.0,1444.3 944.5,1453.5 945.0,1444.2 945.5,1445.7 946.0,1449.9 946.5,1452.2 947.0,1451.2 947.5,1453.6 948.0,1448.6 948.5,1448.1 949.0,1451.2 949.5,1446.9 950.0,1450.3 950.5,1451.1 951.0,1450.5 951.5,1444.5 952.0,1449.1 952.5,1444.5 953.0,1451.9 953.5,1448.6 954.0,1452.3 954.5,1453.1 955.0,1446.3 955.5,1452.0 956.0,1450.7 956.5,1453.5 957.0,1446.5 957.5,1446.4 958.0,1447.7 958.5,1444.9 959.0,1450.0 959.5,1447.8 960.0,1450.1 960.5,1450.5 961.0,1451.8 961.5,1446.2 962.0,1451.5 962.5,1451.5 963.0,1447.0 963.5,1448.0 964.0,1445.8 964.5,1452.7 965.0,1453.0 965.5,1447.4 966.0,1449.3 966.5,1450.6 967.0,1451.3 967.5,1449.3 968.0,1453.8 968.5,1447.1 969.0,1451.7 969.5,1449.8 970.0,1450.3 970.5,1447.6 971.0,1445.1 971.5,1448.2 972.0,1450.8 972.5,1447.4 973.0,1445.2 973.5,1449.2 974.0,1449.6 974.5,1447.1 975.0,1449.4 975.5,1450.7 976.0,1450.3 976.5,1452.1 977.0,1452.8 977.5,1449.7 978.0,1447.8 978.5,1445.4 979.0,1452.5 979.5,1450.8 980.0,1452.6 980.5,1447.9 981.0,1450.4 981.5,1448.0 982.0,1447.9 982.5,1446.5 983.0,1449.6 983.5,1451.5 984.0,1452.3 984.5,1451.0 985.0,1449.7 985.5,1455.6 986.0,1454.4 986.5,1453.1 987.0,1450.9 987.5,1453.8 988.0,1448.7 988.5,1447.5 989.0,1452.3 989.5,1451.2 990.0,1453.5 990.5,1448.9 991.0,1451.6 991.5,1448.3 992.0,1450.1 992.5,1452.2 993.0,1450.9 993.5,1448.7 994.0,1447.4 994.5,1450.2 995.0,1448.8 995.5,1447.5 996.0,1451.4 996.5,1448.9 997.0,1454.5 997.5,1456.5 998.0,1454.1 998.5,1458.4 999.0,1448.3 999.5,1447.0 1000.0,1451.0 1000.5,1447.0 1001.0,1451.8 1001.5,1453.7 1002.0,1453.4 1002.5,1453.9 1003.0,1451.0 1003.5,1451.4 1004.0,1452.2 1004.5,1451.4 1005.0,1453.9 1005.5,1450.6 1006.0,1451.5 1006.5,1449.9 1007.0,1454.1 1007.5,1452.0 1008.0,1452.0 1008.5,1450.5 1009.0,1447.3 1009.5,1450.6 1010.0,1446.3 1010.5,1451.6 1011.0,1448.7 1011.5,1455.0 1012.0,1450.2 1012.5,1451.7 1013.0,1450.6 1013.5,1449.0 1014.0,1448.0 1014.5,1445.6 1015.0,1450.3 1015.5,1446.8 1016.0,1454.7 1016.5,1448.7 1017.0,1450.4 1017.5,1451.9 1018.0,1451.6 1018.5,1454.9 1019.0,1451.8 1019.5,1450.8 1020.0,1451.7 1020.5,1455.8 1021.0,1453.9 1021.5,1447.1 1022.0,1451.5 1022.5,1449.7 1023.0,1452.0 1023.5,1453.6 1024.0,1452.0 1024.5,1453.5 1025.0,1456.2 1025.5,1447.6 1026.0,1451.8 1026.5,1452.0 1027.0,1452.9 1027.5,1452.0 1028.0,1454.0 1028.5,1451.6 1029.0,1452.7 1029.5,1447.7 1030.0,1452.0 1030.5,1448.4 1031.0,1452.9 1031.5,1455.8 1032.0,1451.1 1032.5,1452.3 1033.0,1453.0 1033.5,1454.6 1034.0,1453.0 1034.5,1454.1 1035.0,1449.6 1035.5,1450.6 1036.0,1447.1 1036.5,1456.3 1037.0,1447.6 1037.5,1452.9 1038.0,1450.9 1038.5,1450.7 1039.0,1447.4 1039.5,1450.2 1040.0,1450.4 1040.5,1451.2 1041.0,1449.2 1041.5,1450.6 1042.0,1447.5 1042.5,1453.0 1043.0,1448.2 1043.5,1459.0 1044.0,1449.0 1044.5,1448.1 1045.0,1450.2 1045.5,1449.3 1046.0,1452.4 1046.5,1452.8 1047.0,1448.0 1047.5,1447.9 1048.0,1447.7 1048.5,1450.8 1049.0,1452.1 1049.5,1451.3 1050.0,1449.3 1050.5,1449.8 1051.0,1451.4 1051.5,1452.9 1052.0,1449.7 1052.5,1452.9 1053.0,1449.0 1053.5,1450.5 1054.0,1452.9 1054.5,1447.9 1055.0,1445.8 1055.5,1447.4 1056.0,1449.9 1056.5,1447.7 1057.0,1450.1 1057.5,1454.0 1058.0,1449.7 1058.5,1454.1 1059.0,1453.0 1059.5,1448.2 1060.0,1453.4 1060.5,1453.2 1061.0,1453.6 1061.5,1451.7 1062.0,1452.0 1062.5,1450.0 1063.0,1449.2 1063.5,1451.4 1064.0,1453.4 1064.5,1450.1 1065.0,1455.8 1065.5,1450.7 1066.0,1452.6 1066.5,1448.5 1067.0,1455.8 1067.5,1453.8 1068.0,1455.3 1068.5,1449.1 1069.0,1455.7 1069.5,1453.4 1070.0,1450.7 1070.5,1451.3 1071.0,1448.6 1071.5,1451.9 1072.0,1454.6 1072.5,1450.3 1073.0,1453.4 1073.5,1449.5 1074.0,1445.9 1074.5,1452.1 1075.0,1456.3 1075.5,1455.6 1076.0,1451.0 1076.5,1455.8 1077.0,1455.3 1077.5,1453.6 1078.0,1451.8 1078.5,1455.2 1079.0,1452.5 1079.5,1451.8 1080.0,1455.4 1080.5,1451.1 1081.0,1454.5 1081.5,1456.5 1082.0,1451.1 1082.5,1453.3 1083.0,1454.2 1083.5,1448.5 1084.0,1451.6 1084.5,1451.4 1085.0,1451.5 1085.5,1450.6 1086.0,1456.0 1086.5,1450.5 1087.0,1452.5 1087.5,1454.1 1088.0,1456.5 1088.5,1448.5 1089.0,1449.1 1089.5,1449.5 1090.0,1451.2 1090.5,1454.2 1091.0,1451.3 1091.5,1451.8 1092.0,1455.0 1092.5,1450.1 1093.0,1451.1 1093.5,1455.5 1094.0,1452.2 1094.5,1448.4 1095.0,1448.0 1095.5,1452.2 1096.0,1446.1 1096.5,1446.5 1097.0,1450.6 1097.5,1451.7 1098.0,1452.3 1098.5,1445.1 1099.0,1448.8 1099.5,1438.4 1100.0,1444.7 1100.5,1454.4 1101.0,1450.6 1101.5,1448.1 1102.0,1443.6 1102.5,1442.5 1103.0,1448.7 1103.5,1445.2 1104.0,1443.3 1104.5,1447.3 1105.0,1447.1 1105.5,1443.3 1106.0,1444.0 1106.5,1451.1 1107.0,1442.6 1107.5,1448.1 1108.0,1443.7 1108.5,1443.5 1109.0,1443.2 1109.5,1445.9 1110.0,1446.5 1110.5,1448.8 1111.0,1445.3 1111.5,1448.7 1112.0,1446.5 1112.5,1446.4 1113.0,1450.3 1113.5,1450.2 1114.0,1445.5 1114.5,1450.1 1115.0,1445.4 1115.5,1447.6 1116.0,1454.6 1116.5,1454.1 1117.0,1450.4 1117.5,1452.5 1118.0,1454.3 1118.5,1455.4 1119.0,1455.4 1119.5,1449.1 1120.0,1450.8 1120.5,1451.1 1121.0,1444.7 1121.5,1448.7 1122.0,1451.5 1122.5,1449.9 1123.0,1448.8 1123.5,1447.2 1124.0,1448.6 1124.5,1449.8 1125.0,1448.9 1125.5,1452.4 1126.0,1451.4 1126.5,1445.9 1127.0,1451.2 1127.5,1448.7 1128.0,1450.3 1128.5,1446.4 1129.0,1450.0 1129.5,1445.5 1130.0,1449.4 1130.5,1446.3 1131.0,1445.0 1131.5,1441.6 1132.0,1439.9 1132.5,1445.0 1133.0,1438.6 1133.5,1436.7 1134.0,1438.6 1134.5,1435.2 1135.0,1433.6 1135.5,1425.3 1136.0,1419.2 1136.5,1417.4 1137.0,1416.7 1137.5,1408.0 1138.0,1402.3 1138.5,1395.0 1139.0,1386.0 1139.5,1377.4 1140.0,1367.6 1140.5,1359.7 1141.0,1351.2 1141.5,1340.4 1142.0,1335.9 1142.5,1328.0 1143.0,1322.8 1143.5,1319.5 1144.0,1321.0 1144.5,1319.9 1145.0,1327.4 1145.5,1328.5 1146.0,1340.9 1146.5,1345.1 1147.0,1359.5 1147.5,1368.5 1148.0,1378.9 1148.5,1387.2 1149.0,1398.7 1149.5,1408.3 1150.0,1409.5 1150.5,1420.0 1151.0,1426.1 1151.5,1431.5 1152.0,1434.5 1152.5,1433.8 1153.0,1441.4 1153.5,1438.5 1154.0,1443.4 1154.5,1443.8 1155.0,1442.8 1155.5,1442.7 1156.0,1445.0 1156.5,1449.6 1157.0,1448.0 1157.5,1445.3 1158.0,1448.8 1158.5,1451.5 1159.0,1452.9 1159.5,1443.3 1160.0,1449.7 1160.5,1450.1 1161.0,1446.1 1161.5,1443.6 1162.0,1451.6 1162.5,1447.4 1163.0,1444.5 1163.5,1446.0 1164.0,1450.7 1164.5,1454.4 1165.0,1451.4 1165.5,1446.9 1166.0,1452.4 1166.5,1444.6 1167.0,1452.0 1167.5,1452.0 1168.0,1454.4 1168.5,1452.6 1169.0,1453.2 1169.5,1450.8 1170.0,1450.0 1170.5,1451.1 1171.0,1456.1 1171.5,1450.1 1172.0,1451.7 1172.5,1450.9 1173.0,1453.9 1173.5,1453.7 1174.0,1457.7 1174.5,1458.3 1175.0,1455.9 1175.5,1455.5 1176.0,1453.1 1176.5,1449.9 1177.0,1454.1 1177.5,1453.8 1178.0,1451.0 1178.5,1454.3 1179.0,1456.2 1179.5,1451.6 1180.0,1456.0 1180.5,1454.8 1181.0,1452.5 1181.5,1454.0 1182.0,1455.6 1182.5,1453.3 1183.0,1453.6 1183.5,1456.9 1184.0,1455.0 1184.5,1455.0 1185.0,1452.4 1185.5,1455.3 1186.0,1457.2 1186.5,1451.2 1187.0,1449.4 1187.5,1451.4 1188.0,1453.1 1188.5,1450.9 1189.0,1449.1 1189.5,1457.3 1190.0,1452.2 1190.5,1451.1 1191.0,1446.0 1191.5,1455.3 1192.0,1449.1 1192.5,1456.2 1193.0,1454.2 1193.5,1453.3 1194.0,1452.1 1194.5,1455.0 1195.0,1451.1 1195.5,1453.3 1196.0,1451.1 1196.5,1451.4 1197.0,1456.0 1197.5,1454.8 1198.0,1449.5 1198.5,1449.6 1199.0,1451.7 1199.5,1451.2 1200.0,1452.7 1200.5,1450.4 1201.0,1448.6 1201.5,1453.2 1202.0,1450.4 1202.5,1452.6 1203.0,1448.5 1203.5,1454.5 1204.0,1451.3 1204.5,1451.2 1205.0,1451.4 1205.5,1446.4 1206.0,1452.0 1206.5,1448.8 1207.0,1447.2 1207.5,1450.9 1208.0,1454.1 1208.5,1447.8 1209.0,1453.4 1209.5,1443.7 1210.0,1449.8 1210.5,1447.3 1211.0,1449.1 1211.5,1453.6 1212.0,1449.4 1212.5,1443.4 1213.0,1450.3 1213.5,1443.1 1214.0,1443.4 1214.5,1441.3 1215.0,1442.5 1215.5,1440.1 1216.0,1442.3 1216.5,1436.4 1217.0,1434.2 1217.5,1428.3 1218.0,1427.3 1218.5,1417.0 1219.0,1410.6 1219.5,1410.6 1220.0,1403.8 1220.5,1395.2 1221.0,1393.7 1221.5,1378.7 1222.0,1377.7 1222.5,1371.5 1223.0,1358.8 1223.5,1358.8 1224.0,1356.2 1224.7,1352.2 1225.5,1355.3 1226.0,1360.4 1226.5,1364.9 1227.0,1371.2 1227.5,1385.0 1228.0,1392.0 1228.5,1399.8 1229.0,1408.8 1229.5,1412.6 1230.0,1419.4 1230.5,1428.7 1231.0,1431.4 1231.5,1436.6 1232.0,1441.3 1232.5,1445.6 1233.0,1441.0 1233.5,1443.5 1234.0,1442.6 1234.5,1445.5 1235.0,1449.3 1235.5,1447.3 1236.0,1454.6 1236.5,1448.4 1237.0,1445.4 1237.5,1447.9 1238.0,1455.6 1238.5,1448.3 1239.0,1450.6 1239.5,1448.9 1240.0,1448.3 1240.5,1454.1 1241.0,1448.3 1241.5,1446.9 1242.0,1449.6 1242.5,1449.9 1243.0,1452.8 1243.5,1452.0 1244.0,1454.9 1244.5,1451.3 1245.0,1453.0 1245.5,1453.2 1246.0,1454.5 1246.5,1448.9 1247.0,1451.2 1247.5,1445.2 1248.0,1450.0 1248.5,1448.9 1249.0,1449.8 1249.5,1455.8 1250.0,1454.5 1250.5,1448.1 1251.0,1456.3 1251.5,1455.0 1252.0,1452.2 1252.5,1451.4 1253.0,1451.2 1253.5,1451.4 1254.0,1453.0 1254.5,1450.5 1255.0,1453.5 1255.5,1449.9 1256.0,1448.7 1256.5,1449.7 1257.0,1450.4 1257.5,1450.0 1258.0,1448.1 1258.5,1443.3 1259.0,1442.4 1259.5,1440.0 1260.0,1441.9 1260.5,1442.3 1261.0,1438.5 1261.5,1435.9 1262.0,1432.5 1262.5,1430.6 1263.0,1427.8 1263.5,1430.8 1264.2,1424.1 1265.0,1425.8 1265.5,1430.7 1266.0,1430.5 1266.5,1435.2 1267.0,1434.6 1267.5,1439.0 1268.0,1440.6 1268.5,1438.5 1269.0,1444.8 1269.5,1447.9 1270.0,1444.1 1270.5,1446.3 1271.0,1448.9 1271.5,1451.7 1272.0,1449.0 1272.5,1454.3 1273.0,1447.4 1273.5,1453.5 1274.0,1446.7 1274.5,1448.6 1275.0,1446.3 1275.5,1451.2 1276.0,1450.2 1276.5,1444.1 1277.0,1441.7 1277.5,1454.0 1278.0,1447.6 1278.5,1444.0 1279.0,1445.9 1279.5,1447.0 1280.0,1452.2 1280.5,1449.1 1281.0,1448.0 1281.5,1445.3 1282.0,1449.4 1282.5,1443.0 1283.0,1450.4 1283.5,1449.9 1284.0,1446.0 1284.5,1443.2 1285.0,1445.4 1285.5,1446.6 1286.0,1452.0 1286.5,1451.1 1287.0,1444.7 1287.5,1444.1 1288.0,1442.3 1288.5,1446.6 1289.0,1443.9 1289.5,1447.0 1290.0,1445.0 1290.5,1443.1 1291.0,1441.5 1291.5,1439.7 1292.0,1445.3 1292.5,1439.8 1293.0,1445.1 1293.5,1438.4 1294.0,1435.8 1294.5,1442.6 1295.0,1440.7 1295.5,1444.7 1296.0,1442.1 1296.5,1441.8 1297.0,1444.3 1297.5,1440.0 1298.0,1443.5 1298.5,1448.3 1299.0,1442.1 1299.5,1438.9 1300.0,1441.1 1300.5,1438.9 1301.0,1440.0 1301.5,1445.2 1302.0,1437.7 1302.5,1436.6 1303.0,1440.9 1303.5,1437.9 1304.0,1437.8 1304.5,1435.7 1305.0,1437.0 1305.5,1439.1 1306.0,1435.3 1306.5,1430.5 1307.0,1428.6 1307.5,1424.5 1308.0,1421.7 1308.5,1423.4 1309.0,1418.7 1309.5,1414.6 1310.0,1410.5 1310.5,1403.1 1311.0,1400.3 1311.5,1397.4 1312.0,1396.2 1312.5,1388.9 1313.0,1385.3 1313.5,1380.8 1314.3,1384.4 1315.0,1382.2 1315.5,1385.7 1316.0,1389.2 1316.5,1389.8 1317.0,1396.9 1317.5,1403.6 1318.0,1402.9 1318.5,1408.4 1319.0,1412.0 1319.5,1418.5 1320.0,1427.6 1320.5,1426.4 1321.0,1432.0 1321.5,1432.1 1322.0,1432.7 1322.5,1435.9 1323.0,1438.2 1323.5,1438.6 1324.0,1440.1 1324.5,1441.6 1325.0,1440.5 1325.5,1446.9 1326.0,1444.6 1326.5,1443.7 1327.0,1442.9 1327.5,1445.7 1328.0,1443.0 1328.5,1442.1 1329.0,1444.6 1329.5,1449.0 1330.0,1445.4 1330.5,1446.6 1331.0,1443.8 1331.5,1447.7 1332.0,1445.1 1332.5,1445.1 1333.0,1444.7 1333.5,1446.5 1334.0,1444.2 1334.5,1445.9 1335.0,1446.5 1335.5,1444.6 1336.0,1442.1 1336.5,1448.3 1337.0,1443.9 1337.5,1442.1 1338.0,1447.1 1338.5,1446.9 1339.0,1449.9 1339.5,1450.2 1340.0,1441.1 1340.5,1445.2 1341.0,1447.3 1341.5,1442.9 1342.0,1449.3 1342.5,1447.0 1343.0,1444.2 1343.5,1444.4 1344.0,1446.5 1344.5,1451.0 1345.0,1450.3 1345.5,1441.3 1346.0,1446.5 1346.5,1440.8 1347.0,1444.2 1347.5,1441.7 1348.0,1443.4 1348.5,1442.8 1349.0,1444.8 1349.5,1441.6 1350.0,1445.4 1350.5,1443.0 1351.0,1440.7 1351.5,1447.0 1352.0,1443.9 1352.5,1442.3 1353.0,1443.0 1353.5,1444.6 1354.0,1442.3 1354.5,1441.0 1355.0,1442.2 1355.5,1441.1 1356.0,1441.1 1356.5,1447.0 1357.0,1444.8 1357.5,1446.3 1358.0,1441.3 1358.5,1437.9 1359.0,1441.6 1359.5,1444.1 1360.0,1441.3 1360.5,1443.2 1361.0,1440.1 1361.5,1444.1 1362.0,1441.5 1362.5,1442.7 1363.0,1444.6 1363.5,1440.8 1364.0,1439.9 1364.5,1440.6 1365.0,1444.3 1365.5,1441.9 1366.0,1445.7 1366.5,1444.2 1367.0,1445.8 1367.5,1443.3 1368.0,1446.1 1368.5,1444.8 1369.0,1437.6 1369.5,1446.7 1370.0,1445.2 1370.5,1441.7 1371.0,1439.6 1371.5,1437.8 1372.0,1443.2 1372.5,1440.5 1373.0,1439.7 1373.5,1440.2 1374.0,1438.4 1374.5,1445.4 1375.0,1440.5 1375.5,1442.8 1376.0,1443.3 1376.5,1443.9 1377.0,1442.4 1377.5,1445.1 1378.0,1441.2 1378.5,1448.6 1379.0,1438.5 1379.5,1444.7 1380.0,1448.8 1380.5,1440.2 1381.0,1446.7 1381.5,1448.4 1382.0,1441.6 1382.5,1447.0 1383.0,1441.3 1383.5,1443.7 1384.0,1442.2 1384.5,1440.2 1385.0,1439.8 1385.5,1441.3 1386.0,1438.7 1386.5,1443.3 1387.0,1443.2 1387.5,1445.8 1388.0,1443.8 1388.5,1442.2 1389.0,1441.7 1389.5,1449.2 1390.0,1438.1 1390.5,1438.6 1391.0,1448.3 1391.5,1444.9 1392.0,1442.4 1392.5,1443.2 1393.0,1444.3 1393.5,1437.3 1394.0,1440.3 1394.5,1443.0 1395.0,1442.6 1395.5,1443.7 1396.0,1441.1 1396.5,1439.2 1397.0,1438.3 1397.5,1441.6 1398.0,1439.6 1398.5,1440.7 1399.0,1443.2 1399.5,1442.5 1400.0,1435.2 1400.5,1441.8 1401.0,1435.6 1401.5,1433.4 1402.0,1443.8 1402.5,1438.4 1403.0,1435.6 1403.5,1435.8 1404.0,1439.3 1404.5,1442.1 1405.0,1439.8 1405.5,1435.0 1406.0,1431.9 1406.5,1434.4 1407.0,1437.2 1407.5,1435.1 1408.0,1429.0 1408.5,1432.3 1409.0,1432.6 1409.5,1426.7 1410.0,1430.2 1410.5,1429.8 1411.0,1425.7 1411.5,1417.6 1412.0,1416.3 1412.5,1413.7 1413.0,1409.7 1413.5,1410.7 1414.0,1406.4 1414.5,1405.2 1415.0,1406.4 1415.5,1405.3 1416.0,1404.5 1416.5,1411.3 1417.0,1412.4 1417.5,1417.8 1418.0,1418.6 1418.5,1418.9 1419.0,1424.4 1419.5,1422.1 1420.0,1418.9 1420.5,1428.1 1421.0,1427.1 1421.5,1423.5 1422.0,1418.5 1422.5,1420.1 1423.0,1426.1 1423.5,1422.5 1424.0,1421.3 1424.5,1423.6 1425.0,1419.9 1425.5,1419.8 1426.0,1424.9 1426.5,1422.3 1427.0,1422.7 1427.5,1421.7 1428.0,1422.8 1428.5,1421.6 1429.0,1415.9 1429.5,1417.4 1430.0,1422.9 1430.5,1417.6 1431.0,1422.2 1431.5,1415.0 1432.0,1410.8 1432.5,1415.2 1433.0,1412.7 1433.5,1411.5 1434.0,1410.7 1434.5,1405.8 1435.0,1413.9 1435.5,1410.9 1436.0,1407.7 1436.5,1404.7 1437.0,1411.9 1437.5,1409.1 1438.0,1410.7 1438.5,1409.1 1439.0,1409.7 1439.5,1406.4 1440.0,1400.7 1440.5,1405.7 1441.0,1407.6 1441.5,1398.8 1442.0,1401.5 1442.5,1407.4 1443.0,1397.2 1443.5,1405.6 1444.0,1396.7 1444.5,1393.4 1445.0,1396.6 1445.5,1395.5 1446.0,1400.3 1446.5,1388.5 1447.0,1391.8 1447.5,1391.1 1448.0,1389.7 1448.5,1393.2 1449.0,1390.0 1449.5,1391.2 1450.0,1389.5 1450.5,1393.7 1451.0,1386.5 1451.5,1388.3 1452.0,1390.6 1452.5,1388.7 1453.0,1386.0 1453.5,1388.5 1454.0,1386.3 1454.5,1385.7 1455.0,1383.6 1455.5,1386.4 1456.0,1386.1 1456.5,1379.0 1457.0,1382.8 1457.5,1381.7 1458.0,1382.0 1458.5,1375.8 1459.0,1373.2 1459.5,1376.5 1460.0,1380.9 1460.5,1371.8 1461.0,1379.1 1461.5,1374.5 1462.0,1374.4 1462.5,1373.7 1463.0,1370.8 1463.5,1370.4 1464.0,1373.1 1464.5,1376.0 1465.0,1369.7 1465.5,1369.8 1466.0,1363.7 1466.5,1365.6 1467.0,1369.4 1467.5,1368.5 1468.0,1361.6 1468.5,1361.3 1469.0,1358.5 1469.5,1355.5 1470.0,1360.0 1470.5,1354.8 1471.0,1361.8 1471.5,1344.7 1472.0,1345.0 1472.5,1346.0 1473.0,1350.5 1473.5,1348.4 1474.0,1344.6 1474.5,1333.0 1475.0,1347.0 1475.5,1338.1 1476.0,1350.8 1476.5,1344.5 1477.0,1340.0 1477.5,1341.6 1478.0,1349.6 1478.5,1340.6 1479.0,1336.7 1479.5,1330.0 1480.0,1340.6 1480.5,1337.7 1481.0,1346.1 1481.5,1341.4 1482.0,1345.4 1482.5,1338.3 1483.0,1336.2 1483.5,1344.2 1484.0,1339.0 1484.5,1336.2 1485.0,1339.0 1485.5,1343.9 1486.0,1336.2 1486.5,1347.9 1487.0,1341.2 1487.5,1333.3 1488.0,1333.7 1488.5,1338.3 1489.0,1337.0 1489.5,1336.8 1490.0,1337.8 1490.5,1339.6 1491.0,1337.3 1491.5,1336.0 1492.0,1329.8 1492.5,1345.9 1493.0,1339.0 1493.5,1341.0 1494.0,1339.3 1494.5,1344.4 1495.0,1338.7 1495.5,1344.3 1496.0,1336.1 1496.5,1337.7 1497.0,1341.3 1497.5,1341.6 1498.0,1344.4 1498.5,1336.5 1499.0,1341.3 1499.5,1336.9 1500.0,1332.9 1500.5,1343.9 1501.0,1339.2 1501.5,1335.2 1502.0,1336.4 1502.5,1342.3 1503.0,1340.0 1503.5,1339.6 1504.0,1343.3 1504.5,1340.3 1505.0,1332.4 1505.5,1344.6 1506.0,1339.0 1506.5,1339.9 1507.0,1331.2 1507.5,1327.8 1508.0,1343.3 1508.5,1341.6 1509.0,1344.3 1509.5,1346.3 1510.0,1349.7 1510.5,1352.4 1511.0,1352.7 1511.5,1343.8 1512.0,1345.6 1512.5,1350.4 1513.0,1357.0 1513.5,1356.6 1514.0,1350.3 1514.5,1348.3 1515.0,1355.6 1515.5,1354.5 1516.0,1359.1 1516.5,1360.5 1517.0,1359.3 1517.5,1355.0 1518.0,1354.4 1518.5,1359.3 1519.0,1363.4 1519.5,1362.0 1520.0,1366.3 1520.5,1362.6 1521.0,1369.9 1521.5,1367.8 1522.0,1366.1 1522.5,1365.5 1523.0,1369.0 1523.5,1371.0 1524.0,1378.1 1524.5,1373.2 1525.0,1376.6 1525.5,1366.7 1526.0,1380.0 1526.5,1376.8 1527.0,1374.5 1527.5,1370.2 1528.0,1376.8 1528.5,1387.5 1529.0,1385.3 1529.5,1386.1 1530.0,1382.1 1530.5,1387.1 1531.0,1388.0 1531.5,1387.7 1532.0,1383.6 1532.5,1385.6 1533.0,1387.5 1533.5,1400.9 1534.0,1382.7 1534.5,1397.1 1535.0,1396.8 1535.5,1393.1 1536.0,1396.0 1536.5,1395.1 1537.0,1396.4 1537.5,1392.9 1538.0,1388.5 1538.5,1406.2 1539.0,1403.4 1539.5,1392.6 1540.0,1402.5 1540.5,1397.6 1541.0,1401.4 1541.5,1396.6 1542.0,1397.2 1542.5,1408.4 1543.0,1400.7 1543.5,1402.7 1544.0,1406.2 1544.5,1409.6 1545.0,1403.4 1545.5,1408.0 1546.0,1409.2 1546.5,1405.2 1547.0,1406.0 1547.5,1410.8 1548.0,1409.0 1548.5,1415.6 1549.0,1404.8 1549.5,1413.4 1550.0,1411.8 1550.5,1408.4 1551.0,1413.4 1551.5,1409.7 1552.0,1414.0 1552.5,1419.4 1553.0,1414.1 1553.5,1419.1 1554.0,1418.7 1554.5,1416.8 1555.0,1418.1 1555.5,1420.2 1556.0,1421.1 1556.5,1419.0 1557.0,1420.6 1557.5,1424.1 1558.0,1419.0 1558.5,1418.9 1559.0,1424.1 1559.5,1425.0 1560.0,1416.8 1560.5,1424.8 1561.0,1429.3 1561.5,1428.0 1562.0,1424.7 1562.5,1427.4 1563.0,1421.6 1563.5,1429.1 1564.0,1428.4 1564.5,1430.6 1565.0,1427.8 1565.5,1430.7 1566.0,1427.7 1566.5,1432.7 1567.0,1431.1 1567.5,1424.7 1568.0,1425.4 1568.5,1432.3 1569.0,1434.0 1569.5,1435.1 1570.0,1430.1 1570.5,1432.5 1571.0,1431.3 1571.5,1430.5 1572.0,1432.0 1572.5,1436.6 1573.0,1431.9 1573.5,1438.7 1574.0,1429.8 1574.5,1432.9 1575.0,1435.6 1575.5,1435.8 1576.0,1434.9 1576.5,1429.8 1577.0,1434.1 1577.5,1439.2 1578.0,1437.2 1578.5,1437.0 1579.0,1436.9 1579.5,1435.6 1580.0,1435.9 1580.5,1434.5 1581.0,1440.3 1581.5,1437.8 1582.0,1437.8 1582.5,1437.3 1583.0,1436.3 1583.5,1433.0 1584.0,1437.2 1584.5,1435.5 1585.0,1436.0 1585.5,1438.3 1586.0,1441.6 1586.5,1435.1 1587.0,1438.1 1587.5,1442.7 1588.0,1434.8 1588.5,1439.9 1589.0,1437.3 1589.5,1440.6 1590.0,1443.0 1590.5,1438.4 1591.0,1441.3 1591.5,1439.3 1592.0,1443.6 1592.5,1428.6 1593.0,1435.2 1593.5,1437.0 1594.0,1437.0 1594.5,1440.6 1595.0,1438.2 1595.5,1433.0 1596.0,1428.9 1596.5,1434.7 1597.0,1430.7 1597.5,1427.6 1598.0,1429.0 1598.5,1429.8 1599.0,1424.1 1599.5,1425.4 1600.0,1415.2 1600.5,1421.4 1601.0,1424.8 1601.6,1421.5 1602.5,1417.7 1603.0,1417.6 1603.5,1423.2 1604.0,1421.8 1604.5,1424.7 1605.0,1423.5 1605.5,1427.5 1606.0,1433.7 1606.5,1432.0 1607.0,1433.6 1607.5,1433.9 1608.0,1438.4 1608.5,1441.0 1609.0,1441.4 1609.5,1434.6 1610.0,1442.9 1610.5,1441.1 1611.0,1443.9 1611.5,1441.8 1612.0,1448.2 1612.5,1450.6 1613.0,1448.3 1613.5,1450.8 1614.0,1447.1 1614.5,1446.0 1615.0,1441.6 1615.5,1445.5 1616.0,1446.2 1616.5,1451.6 1617.0,1445.3 1617.5,1448.1 1618.0,1449.8 1618.5,1448.4 1619.0,1448.4 1619.5,1451.3 1620.0,1446.5 1620.5,1449.0 1621.0,1449.6 1621.5,1453.3 1622.0,1452.8 1622.5,1450.9 1623.0,1451.8 1623.5,1444.3 1624.0,1450.6 1624.5,1448.6 1625.0,1446.2 1625.5,1451.9 1626.0,1449.3 1626.5,1448.7 1627.0,1446.2 1627.5,1451.2 1628.0,1454.0 1628.5,1451.4 1629.0,1453.0 1629.5,1453.8 1630.0,1451.3 1630.5,1450.6 1631.0,1450.1 1631.5,1451.0 1632.0,1450.5 1632.5,1452.2 1633.0,1450.9 1633.5,1455.0 1634.0,1450.2 1634.5,1456.5 1635.0,1451.5 1635.5,1451.6 1636.0,1454.5 1636.5,1451.1 1637.0,1448.4 1637.5,1455.2 1638.0,1456.8 1638.5,1448.6 1639.0,1454.7 1639.5,1452.2 1640.0,1453.1 1640.5,1457.6 1641.0,1450.5 1641.5,1452.6 1642.0,1457.0 1642.5,1454.6 1643.0,1455.2 1643.5,1452.5 1644.0,1452.2 1644.5,1452.4 1645.0,1454.8 1645.5,1453.3 1646.0,1455.4 1646.5,1460.8 1647.0,1450.1 1647.5,1455.1 1648.0,1454.2 1648.5,1451.8 1649.0,1454.9 1649.5,1452.3 1650.0,1451.1 1650.5,1454.4 1651.0,1458.3 1651.5,1453.9 1652.0,1455.4 1652.5,1452.8 1653.0,1452.6 1653.5,1450.8 1654.0,1454.4 1654.5,1455.5 1655.0,1450.1 1655.5,1449.7 1656.0,1455.6 1656.5,1452.7 1657.0,1450.4 1657.5,1455.9 1658.0,1453.8 1658.5,1453.3 1659.0,1454.2 1659.5,1452.7 1660.0,1461.2 1660.5,1449.0 1661.0,1453.0 1661.5,1455.6 1662.0,1455.2 1662.5,1451.3 1663.0,1453.4 1663.5,1454.0 1664.0,1457.6 1664.5,1458.2 1665.0,1458.3 1665.5,1454.8 1666.0,1457.7 1666.5,1455.7 1667.0,1453.8 1667.5,1453.6 1668.0,1456.1 1668.5,1455.3 1669.0,1453.2 1669.5,1452.3 1670.0,1452.3 1670.5,1458.0 1671.0,1454.1 1671.5,1455.1 1672.0,1458.4 1672.5,1458.7 1673.0,1457.2 1673.5,1456.2 1674.0,1454.1 1674.5,1455.4 1675.0,1456.0 1675.5,1457.1 1676.0,1454.1 1676.5,1457.6 1677.0,1458.2 1677.5,1456.7 1678.0,1452.6 1678.5,1451.5 1679.0,1457.7 1679.5,1452.0 1680.0,1456.6 1680.5,1463.0 1681.0,1456.0 1681.5,1453.1 1682.0,1458.5 1682.5,1455.3 1683.0,1456.2 1683.5,1452.4 1684.0,1454.9 1684.5,1459.6 1685.0,1455.8 1685.5,1454.7 1686.0,1456.2 1686.5,1456.7 1687.0,1458.4 1687.5,1457.7 1688.0,1458.3 1688.5,1452.9 1689.0,1455.0 1689.5,1451.1 1690.0,1459.1 1690.5,1454.0 1691.0,1454.3 1691.5,1459.2 1692.0,1456.8 1692.5,1453.7 1693.0,1453.5 1693.5,1452.7 1694.0,1455.2 1694.5,1459.8 1695.0,1448.8 1695.5,1454.7 1696.0,1453.4 1696.5,1448.4 1697.0,1449.1 1697.5,1447.8 1698.0,1444.1 1698.5,1442.8 1699.0,1446.1 1699.5,1442.0 1700.0,1438.2 1700.5,1435.1 1701.0,1435.0 1701.5,1433.4 1702.0,1433.3 1702.5,1433.2 1703.0,1427.9 1703.5,1424.3 1704.0,1426.1 1704.5,1424.8 1705.0,1422.6 1705.5,1425.5 1706.0,1423.8 1706.5,1425.3 1707.0,1425.3 1707.5,1427.3 1708.0,1428.6 1708.5,1425.9 1709.0,1431.4 1709.5,1430.1 1710.0,1426.8 1710.5,1430.6 1711.0,1434.7 1711.5,1435.3 1712.0,1430.4 1712.5,1432.4 1713.0,1428.3 1713.5,1432.0 1714.0,1424.9 1714.5,1425.6 1715.0,1430.1 1715.5,1429.8 1716.0,1426.8 1716.5,1429.4 1717.0,1432.2 1717.5,1428.5 1718.0,1431.0 1718.5,1428.6 1719.0,1428.6 1719.5,1437.4 1720.0,1434.9 1720.5,1434.6 1721.0,1433.5 1721.5,1440.7 1722.0,1442.9 1722.5,1445.6 1723.0,1443.1 1723.5,1447.2 1724.0,1446.3 1724.5,1445.1 1725.0,1448.1 1725.5,1447.7 1726.0,1447.7 1726.5,1449.0 1727.0,1453.2 1727.5,1451.7 1728.0,1450.2 1728.5,1452.0 1729.0,1452.3 1729.5,1452.7 1730.0,1453.6 1730.5,1451.5 1731.0,1456.9 1731.5,1450.9 1732.0,1452.3 1732.5,1450.5 1733.0,1453.0 1733.5,1452.7 1734.0,1454.6 1734.5,1450.6 1735.0,1454.8 1735.5,1450.3 1736.0,1457.4 1736.5,1453.1 1737.0,1457.4 1737.5,1458.2 1738.0,1451.8 1738.5,1459.4 1739.0,1454.5 1739.5,1448.9 1740.0,1454.5 1740.5,1453.9 1741.0,1456.7 1741.5,1446.7 1742.0,1442.2 1742.5,1447.5 1743.0,1444.6 1743.5,1442.0 1744.0,1443.8 1744.5,1448.8 1745.0,1446.0 1745.5,1450.4 1746.0,1448.6 1746.5,1448.9 1747.0,1452.4 1747.5,1459.1 1748.0,1458.6 1748.5,1457.8 1749.0,1455.4 1749.5,1457.3 1750.0,1458.2 1750.5,1453.2 1751.0,1456.3 1751.5,1461.8 1752.0,1454.0 1752.5,1457.9 1753.0,1456.3 1753.5,1456.8 1754.0,1460.0 1754.5,1455.9 1755.0,1459.7 1755.5,1457.9 1756.0,1460.7 1756.5,1456.1 1757.0,1461.0 1757.5,1458.3 1758.0,1457.1 1758.5,1456.7 1759.0,1453.7 1759.5,1460.9 1760.0,1456.8 1760.5,1461.5 1761.0,1464.2 1761.5,1454.9 1762.0,1459.4 1762.5,1457.1 1763.0,1459.0 1763.5,1459.9 1764.0,1455.9 1764.5,1461.3 1765.0,1458.4 1765.5,1462.7 1766.0,1458.9 1766.5,1459.3 1767.0,1458.9 1767.5,1465.5 1768.0,1457.7 1768.5,1453.2 1769.0,1461.0 1769.5,1458.9 1770.0,1460.7 1770.5,1461.5 1771.0,1462.2 1771.5,1459.1 1772.0,1459.6 1772.5,1461.1 1773.0,1461.7 1773.5,1455.0 1774.0,1462.8 1774.5,1455.5 1775.0,1458.7 1775.5,1460.8 1776.0,1456.8 1776.5,1456.7 1777.0,1461.5 1777.5,1461.3 1778.0,1454.3 1778.5,1457.5 1779.0,1458.5 1779.5,1461.0 1780.0,1458.4 1780.5,1459.6 1781.0,1458.3 1781.5,1459.1 1782.0,1463.5 1782.5,1458.7 1783.0,1458.2 1783.5,1453.3 1784.0,1454.4 1784.5,1453.5 1785.0,1456.6 1785.5,1455.9 1786.0,1454.8 1786.5,1458.2 1787.0,1452.8 1787.5,1456.9 1788.0,1456.0 1788.5,1454.4 1789.0,1454.2 1789.5,1455.1 1790.0,1458.2 1790.5,1458.6 1791.0,1452.6 1791.5,1456.5 1792.0,1454.6 1792.5,1458.6 1793.0,1459.3 1793.5,1458.5 1794.0,1457.6 1794.5,1458.0 1795.0,1452.1 1795.5,1457.4 1796.0,1457.1 1796.5,1455.9 1797.0,1454.5 1797.5,1453.4 1798.0,1454.3 1798.5,1454.8 1799.0,1449.9 1799.5,1456.1 1800.0,1456.8 1800.5,1460.2 1801.0,1460.3 1801.5,1457.5 1802.0,1456.5 1802.5,1456.4 1803.0,1458.5 1803.5,1458.9 1804.0,1452.6 1804.5,1458.3 1805.0,1455.2 1805.5,1456.4 1806.0,1455.5 1806.5,1457.3 1807.0,1453.9 1807.5,1456.5 1808.0,1452.8 1808.5,1458.8 1809.0,1458.4 1809.5,1455.5 1810.0,1456.1 1810.5,1454.9 1811.0,1458.1 1811.5,1457.7 1812.0,1455.3 1812.5,1455.9 1813.0,1457.0 1813.5,1454.6 1814.0,1457.1 1814.5,1457.6 1815.0,1462.3 1815.5,1457.3 1816.0,1454.8 1816.5,1459.5 1817.0,1457.3 1817.5,1455.4 1818.0,1458.5 1818.5,1455.1 1819.0,1460.0 1819.5,1458.4 1820.0,1455.8 1820.5,1456.5 1821.0,1461.6 1821.5,1456.0 1822.0,1455.7 1822.5,1458.4 1823.0,1457.2 1823.5,1456.4 1824.0,1458.4 1824.5,1452.1 1825.0,1457.2 1825.5,1460.4 1826.0,1460.2 1826.5,1455.3 1827.0,1457.1 1827.5,1459.1 1828.0,1456.6 1828.5,1458.5 1829.0,1458.5 1829.5,1453.2 1830.0,1459.2 1830.5,1457.6 1831.0,1457.2 1831.5,1456.9 1832.0,1452.5 1832.5,1457.4 1833.0,1460.0 1833.5,1460.9 1834.0,1458.2 1834.5,1457.5 1835.0,1457.0 1835.5,1461.1 1836.0,1463.0 1836.5,1458.2 1837.0,1452.1 1837.5,1458.8 1838.0,1461.9 1838.5,1455.1 1839.0,1456.4 1839.5,1454.7 1840.0,1458.8 1840.5,1463.8 1841.0,1460.8 1841.5,1454.6 1842.0,1455.3 1842.5,1459.7 1843.0,1457.7 1843.5,1454.4 1844.0,1459.1 1844.5,1456.3 1845.0,1459.4 1845.5,1459.6 1846.0,1458.9 1846.5,1455.7 1847.0,1456.1 1847.5,1457.6 1848.0,1456.5 1848.5,1460.2 1849.0,1460.4 1849.5,1458.0 1850.0,1459.6 1850.5,1460.9 1851.0,1454.9 1851.5,1456.1 1852.0,1461.4 1852.5,1456.3 1853.0,1455.2 1853.5,1456.5 1854.0,1457.3 1854.5,1452.4 1855.0,1455.8 1855.5,1458.0 1856.0,1454.4 1856.5,1454.0 1857.0,1457.3 1857.5,1452.8 1858.0,1451.5 1858.5,1453.9 1859.0,1455.9 1859.5,1453.2 1860.0,1447.2 1860.5,1451.7 1861.0,1454.3 1861.5,1457.3 1862.0,1452.7 1862.5,1458.9 1863.0,1450.0 1863.5,1450.9 1864.0,1452.4 1864.5,1454.0 1865.0,1451.0 1865.5,1453.3 1866.0,1450.7 1866.5,1452.5 1867.0,1452.6 1867.5,1451.4 1868.0,1451.3 1868.5,1450.0 1869.0,1448.6 1869.5,1457.8 1870.0,1447.8 1870.5,1453.4 1871.0,1452.3 1871.5,1449.5 1872.0,1449.1 1872.5,1447.0 1873.0,1449.2 1873.5,1445.4 1874.0,1448.0 1874.5,1452.8 1875.0,1450.3 1875.5,1443.1 1876.0,1446.5 1876.5,1444.5 1877.0,1441.2 1877.5,1447.0 1878.0,1438.5 1878.5,1443.6 1879.0,1446.2 1879.5,1444.5 1880.0,1436.0 1880.5,1437.5 1881.0,1436.6 1881.5,1436.0 1882.0,1437.7 1882.5,1436.3 1883.0,1438.8 1883.5,1432.1 1884.0,1434.9 1884.5,1437.3 1885.0,1435.7 1885.5,1429.9 1886.0,1435.9 1886.5,1436.8 1887.0,1437.1 1887.5,1435.2 1888.0,1440.4 1888.5,1439.3 1889.0,1437.4 1889.5,1441.5 1890.0,1440.3 1890.5,1439.5 1891.0,1439.4 1891.5,1438.5 1892.0,1441.7 1892.5,1440.1 1893.0,1444.7 1893.5,1441.5 1894.0,1443.9 1894.5,1439.6 1895.0,1440.4 1895.5,1441.8 1896.0,1443.7 1896.5,1444.1 1897.0,1441.9 1897.5,1442.0 1898.0,1442.8 1898.5,1443.2 1899.0,1443.7 1899.5,1436.1 1900.0,1442.8 1900.5,1439.8 1901.0,1439.9 1901.5,1437.1 1902.0,1440.8 1902.5,1441.4 1903.0,1440.7 1903.5,1435.0 1904.0,1431.7 1904.5,1438.7 1905.0,1433.1 1905.5,1428.7 1906.0,1435.4 1906.5,1426.2 1907.0,1434.3 1907.5,1429.7 1908.1,1436.1 1909.0,1431.3 1909.5,1429.9 1910.0,1432.5 1910.5,1430.5 1911.0,1431.9 1911.5,1435.5 1912.0,1435.2 1912.5,1432.4 1913.0,1435.3 1913.5,1442.1 1914.0,1434.0 1914.5,1439.8 1915.0,1445.6 1915.5,1436.8 1916.0,1441.4 1916.5,1439.7 1917.0,1437.1 1917.5,1442.2 1918.0,1442.0 1918.5,1440.1 1919.0,1438.1 1919.5,1443.1 1920.0,1442.0 1920.5,1439.6 1921.0,1438.0 1921.5,1439.7 1922.0,1439.1 1922.5,1438.9 1923.0,1444.1 1923.5,1440.3 1924.0,1444.7 1924.5,1444.1 1925.0,1443.7 1925.5,1442.6 1926.0,1441.1 1926.5,1441.3 1927.0,1447.2 1927.5,1445.0 1928.0,1441.2 1928.5,1444.3 1929.0,1441.1 1929.5,1442.7 1930.0,1440.3 1930.5,1440.7 1931.0,1440.5 1931.5,1444.6 1932.0,1446.9 1932.5,1444.0 1933.0,1445.2 1933.5,1443.5 1934.0,1443.0 1934.5,1445.2 1935.0,1441.3 1935.5,1447.4 1936.0,1446.7 1936.5,1445.5 1937.0,1444.5 1937.5,1443.0 1938.0,1448.7 1938.5,1443.7 1939.0,1442.6 1939.5,1441.4 1940.0,1442.0 1940.5,1443.3 1941.0,1442.8 1941.5,1445.4 1942.0,1442.2 1942.5,1441.0 1943.0,1444.5 1943.5,1440.8 1944.0,1447.7 1944.5,1439.0 1945.0,1441.9 1945.5,1439.9 1946.0,1442.8 1946.5,1445.4 1947.0,1440.2 1947.5,1436.8 1948.0,1441.9 1948.5,1441.0 1949.0,1442.4 1949.5,1438.1 1950.0,1438.3 1950.5,1437.8 1951.0,1438.2 1951.5,1439.2 1952.0,1443.2 1952.5,1440.4 1953.0,1437.8 1953.5,1434.6 1954.0,1442.6 1954.5,1440.2 1955.0,1442.2 1955.5,1430.1 1956.0,1444.7 1956.5,1434.9 1957.0,1434.3 1957.5,1435.3 1958.0,1435.6 1958.5,1440.9 1959.0,1430.1 1959.5,1438.3 1960.0,1440.2 1960.5,1439.5 1961.0,1438.0 1961.5,1438.6 1962.0,1434.5 1962.5,1433.3 1963.0,1433.3 1963.5,1429.8 1964.0,1437.6 1964.5,1434.4 1965.0,1435.4 1965.5,1438.5 1966.0,1437.9 1966.5,1435.3 1967.0,1430.9 1967.5,1427.8 1968.0,1435.4 1968.5,1427.5 1969.0,1431.3 1969.5,1431.4 1970.0,1429.2 1970.5,1431.3 1971.0,1433.3 1971.5,1434.3 1972.0,1428.0 1972.5,1424.6 1973.0,1427.3 1973.5,1423.9 1974.0,1423.1 1974.5,1425.9 1975.0,1427.3 1975.5,1423.2 1976.0,1422.3 1976.5,1423.6 1977.0,1420.7 1977.5,1413.8 1978.0,1414.1 1978.5,1413.3 1979.0,1417.7 1979.5,1408.2 1980.0,1410.7 1980.5,1402.2 1981.0,1408.8 1981.5,1407.5 1982.0,1407.5 1982.5,1413.1 1983.0,1409.2 1983.5,1417.0 1984.0,1414.3 1984.5,1414.1 1985.0,1412.7 1985.5,1422.4 1986.0,1418.5 1986.5,1424.7 1987.0,1427.8 1987.5,1421.0 1988.0,1424.0 1988.5,1426.7 1989.0,1423.0 1989.5,1418.3 1990.0,1427.0 1990.5,1422.4 1991.0,1420.7 1991.5,1422.6 1992.0,1429.1 1992.5,1421.6 1993.0,1423.0 1993.5,1421.5 1994.0,1428.8 1994.5,1427.2 1995.0,1430.2 1995.5,1428.2 1996.0,1426.8 1996.5,1429.9 1997.0,1428.6 1997.5,1426.1 1998.0,1427.6 1998.5,1431.5 1999.0,1427.5 1999.5,1420.0 2000.0,1418.5 2000.5,1422.3 2001.0,1428.7 2001.5,1426.9 2002.0,1427.8 2002.5,1425.1 2003.0,1424.9 2003.5,1423.8 2004.0,1424.9 2004.5,1425.1 2005.0,1424.8 2005.5,1421.7 2006.0,1420.9 2006.5,1429.4 2007.0,1425.8 2007.5,1426.5 2008.0,1423.2 2008.5,1425.1 2009.0,1426.3 2009.5,1423.5 2010.0,1421.6 2010.5,1425.7 2011.0,1425.5 2011.5,1419.2 2012.0,1419.6 2012.5,1425.9 2013.0,1418.7 2013.5,1418.0 2014.0,1417.4 2014.5,1420.1 2015.0,1418.4 2015.5,1420.7 2016.0,1414.4 2016.5,1415.5 2017.0,1417.3 2017.8,1417.2 2018.5,1414.9 2019.0,1417.4 2019.5,1416.8 2020.0,1419.5 2020.5,1417.6 2021.0,1425.5 2021.5,1422.7 2022.0,1423.4 2022.5,1417.6 2023.0,1424.4 2023.5,1428.7 2024.0,1431.2 2024.5,1425.9 2025.0,1435.6 2025.5,1437.7 2026.0,1429.4 2026.5,1435.6 2027.0,1430.1 2027.5,1434.6 2028.0,1435.1 2028.5,1437.3 2029.0,1435.8 2029.5,1434.5 2030.0,1436.0 2030.5,1437.9 2031.0,1434.9 2031.5,1438.6 2032.0,1434.9 2032.5,1437.9 2033.0,1440.3 2033.5,1436.0 2034.0,1439.0 2034.5,1430.9 2035.0,1437.1 2035.5,1444.9 2036.0,1436.4 2036.5,1436.5 2037.0,1442.2 2037.5,1439.0 2038.0,1438.6 2038.5,1439.4 2039.0,1443.9 2039.5,1440.5 2040.0,1436.8 2040.5,1445.6 2041.0,1446.0 2041.5,1444.7 2042.0,1442.8 2042.5,1440.4 2043.0,1449.0 2043.5,1438.5 2044.0,1447.9 2044.5,1447.8 2045.0,1447.2 2045.5,1447.0 2046.0,1448.6 2046.5,1446.5 2047.0,1449.1 2047.5,1448.9 2048.0,1447.5 2048.5,1447.8 2049.0,1447.9 2049.5,1451.9 2050.0,1445.5 2050.5,1447.8 2051.0,1452.3 2051.5,1446.8 2052.0,1449.9 2052.5,1449.1 2053.0,1445.3 2053.5,1450.0 2054.0,1452.0 2054.5,1449.4 2055.0,1452.5 2055.5,1451.5 2056.0,1451.2 2056.5,1446.3 2057.0,1452.1 2057.5,1451.7 2058.0,1452.8 2058.5,1452.7 2059.0,1448.9 2059.5,1450.0 2060.0,1448.4 2060.5,1452.3 2061.0,1449.8 2061.5,1455.3 2062.0,1454.4 2062.5,1449.1 2063.0,1453.8 2063.5,1451.0 2064.0,1447.5 2064.5,1453.9 2065.0,1449.4 2065.5,1451.7 2066.0,1454.6 2066.5,1454.6 2067.0,1459.9 2067.5,1454.7 2068.0,1453.1 2068.5,1451.4 2069.0,1448.3 2069.5,1452.4 2070.0,1453.5 2070.5,1458.5 2071.0,1453.1 2071.5,1450.1 2072.0,1454.8 2072.5,1454.4 2073.0,1456.0 2073.5,1454.7 2074.0,1452.5 2074.5,1450.9 2075.0,1453.8 2075.5,1454.3 2076.0,1455.4 2076.5,1458.3 2077.0,1454.4 2077.5,1453.6 2078.0,1448.7 2078.5,1457.2 2079.0,1452.3 2079.5,1454.6 2080.0,1453.4 2080.5,1456.0 2081.0,1455.1 2081.5,1455.2 2082.0,1454.1 2082.5,1458.0 2083.0,1453.3 2083.5,1455.2 2084.0,1459.4 2084.5,1453.9 2085.0,1461.9 2085.5,1455.9 2086.0,1460.2 2086.5,1461.5 2087.0,1456.9 2087.5,1458.2 2088.0,1460.8 2088.5,1458.9 2089.0,1463.9 2089.5,1459.9 2090.0,1457.4 2090.5,1460.7 2091.0,1458.4 2091.5,1462.7 2092.0,1454.8 2092.5,1462.4 2093.0,1463.4 2093.5,1462.4 2094.0,1458.8 2094.5,1453.7 2095.0,1456.7 2095.5,1458.8 2096.0,1462.4 2096.5,1459.5 2097.0,1457.7 2097.5,1460.0 2098.0,1462.6 2098.5,1458.4 2099.0,1459.6 2099.5,1460.2 2100.0,1460.8 2100.5,1461.8 2101.0,1462.6 2101.5,1456.1 2102.0,1461.2 2102.5,1459.7 2103.0,1458.0 2103.5,1460.7 2104.0,1460.3 2104.5,1459.7 2105.0,1461.6 2105.5,1459.7 2106.0,1461.1 2106.5,1460.8 2107.0,1460.7 2107.5,1460.6 2108.0,1460.0 2108.5,1463.8 2109.0,1462.4 2109.5,1461.8 2110.0,1463.0 2110.5,1459.7 2111.0,1464.6 2111.5,1457.6 2112.0,1460.6 2112.5,1457.6 2113.0,1460.3 2113.5,1462.4 2114.0,1461.8 2114.5,1466.3 2115.0,1462.4 2115.5,1463.0 2116.0,1461.9 2116.5,1459.8 2117.0,1464.0 2117.5,1465.5 2118.0,1459.7 2118.5,1458.1 2119.0,1458.5 2119.5,1461.8 2120.0,1463.2 2120.5,1464.2 2121.0,1457.7 2121.5,1459.3 2122.0,1463.2 2122.5,1463.9 2123.0,1462.1 2123.5,1461.7 2124.0,1464.1 2124.5,1461.6 2125.0,1459.4 2125.5,1466.3 2126.0,1465.3 2126.5,1462.5 2127.0,1463.1 2127.5,1461.5 2128.0,1467.0 2128.5,1464.5 2129.0,1465.7 2129.5,1463.0 2130.0,1461.2 2130.5,1468.5 2131.0,1464.4 2131.5,1465.8 2132.0,1466.6 2132.5,1467.8 2133.0,1464.7 2133.5,1460.2 2134.0,1464.8 2134.5,1462.3 2135.0,1463.0 2135.5,1465.9 2136.0,1464.1 2136.5,1462.8 2137.0,1463.2 2137.5,1464.5 2138.0,1466.5 2138.5,1466.3 2139.0,1460.3 2139.5,1464.6 2140.0,1464.1 2140.5,1465.0 2141.0,1465.0 2141.5,1464.7 2142.0,1465.5 2142.5,1463.8 2143.0,1465.9 2143.5,1467.6 2144.0,1462.4 2144.5,1460.6 2145.0,1462.5 2145.5,1463.1 2146.0,1462.5 2146.5,1461.1 2147.0,1461.7 2147.5,1464.6 2148.0,1465.1 2148.5,1461.0 2149.0,1462.5 2149.5,1459.7 2150.0,1461.2 2150.5,1463.1 2151.0,1461.8 2151.5,1462.4 2152.0,1459.6 2152.5,1462.1 2153.0,1458.8 2153.5,1462.5 2154.0,1462.3 2154.5,1460.4 2155.0,1461.9 2155.5,1462.9 2156.0,1463.3 2156.5,1466.9 2157.0,1465.8 2157.5,1461.3 2158.0,1466.3 2158.5,1462.5 2159.0,1467.7 2159.5,1462.9 2160.0,1460.7 2160.5,1463.1 2161.0,1461.8 2161.5,1464.8 2162.0,1460.8 2162.5,1460.5 2163.0,1455.9 2163.5,1460.5 2164.0,1459.5 2164.5,1459.4 2165.0,1463.3 2165.5,1462.5 2166.0,1460.6 2166.5,1460.0 2167.0,1458.4 2167.5,1457.8 2168.0,1461.4 2168.5,1460.6 2169.0,1457.4 2169.5,1459.6 2170.0,1459.0 2170.5,1459.6 2171.0,1463.4 2171.5,1457.9 2172.0,1462.7 2172.5,1461.9 2173.0,1459.7 2173.5,1461.7 2174.0,1460.6 2174.5,1459.1 2175.0,1455.5 2175.5,1456.7 2176.0,1457.5 2176.5,1459.0 2177.0,1459.8 2177.5,1463.2 2178.0,1460.3 2178.5,1464.4 2179.0,1463.3 2179.5,1463.2 2180.0,1460.6 2180.5,1461.2 2181.0,1462.7 2181.5,1460.6 2182.0,1461.6 2182.5,1457.8 2183.0,1463.1 2183.5,1462.8 2184.0,1461.0 2184.5,1465.4 2185.0,1466.0 2185.5,1463.6 2186.0,1461.2 2186.5,1463.9 2187.0,1463.6 2187.5,1465.1 2188.0,1462.3 2188.5,1464.6 2189.0,1465.0 2189.5,1464.7 2190.0,1464.6 2190.5,1463.8 2191.0,1462.9 2191.5,1461.6 2192.0,1459.3 2192.5,1459.6 2193.0,1462.5 2193.5,1463.1 2194.0,1467.0 2194.5,1465.5 2195.0,1462.6 2195.5,1463.3 2196.0,1462.8 2196.5,1462.6 2197.0,1468.6 2197.5,1462.6 2198.0,1465.1 2198.5,1463.6 2199.0,1461.7 2199.5,1463.8 2200.0,1460.7 2200.5,1463.7 2201.0,1466.0 2201.5,1461.9 2202.0,1466.4 2202.5,1462.5 2203.0,1462.9 2203.5,1463.8 2204.0,1466.6 2204.5,1462.1 2205.0,1464.9 2205.5,1461.8 2206.0,1465.6 2206.5,1468.7 2207.0,1460.0 2207.5,1463.2 2208.0,1462.4 2208.5,1462.6 2209.0,1460.0 2209.5,1463.8 2210.0,1461.8 2210.5,1462.3 2211.0,1464.4 2211.5,1462.8 2212.0,1462.1 2212.5,1467.6 2213.0,1463.9 2213.5,1462.9 2214.0,1463.4 2214.5,1463.5 2215.0,1463.0 2215.5,1464.5 2216.0,1461.4 2216.5,1466.3 2217.0,1463.5 2217.5,1465.8 2218.0,1462.6 2218.5,1467.1 2219.0,1464.4 2219.5,1463.5 2220.0,1466.8 2220.5,1463.4 2221.0,1465.0 2221.5,1462.5 2222.0,1469.4 2222.5,1463.1 2223.0,1462.0 2223.5,1463.6 2224.0,1465.3 2224.5,1461.1 2225.0,1465.0 2225.5,1461.8 2226.0,1461.2 2226.5,1460.4 2227.0,1465.4 2227.5,1459.3 2228.0,1460.3 2228.5,1460.2 2229.0,1461.1 2229.5,1461.7 2230.0,1459.3 2230.5,1458.8 2231.0,1454.6 2231.5,1461.9 2232.0,1459.5 2232.5,1460.2 2233.0,1458.2 2233.5,1452.8 2234.0,1457.5 2234.5,1458.1 2235.0,1450.4 2235.5,1455.5 2236.0,1450.7 2236.5,1450.7 2237.0,1448.7 2237.5,1449.3 2238.0,1451.6 2238.5,1453.0 2239.0,1453.4 2239.5,1454.2 2240.0,1452.8 2240.5,1455.6 2241.0,1456.7 2241.5,1458.3 2242.0,1457.9 2242.5,1461.0 2243.0,1458.2 2243.5,1453.7 2244.0,1460.8 2244.5,1460.8 2245.0,1462.1 2245.5,1457.9 2246.0,1462.8 2246.5,1461.7 2247.0,1458.7 2247.5,1458.4 2248.0,1463.3 2248.5,1466.1 2249.0,1462.9 2249.5,1459.5 2250.0,1462.2 2250.5,1459.2 2251.0,1460.6 2251.5,1462.0 2252.0,1460.6 2252.5,1463.8 2253.0,1457.5 2253.5,1461.4 2254.0,1463.4 2254.5,1461.3 2255.0,1463.2 2255.5,1460.0 2256.0,1462.4 2256.5,1458.1 2257.0,1460.7 2257.5,1460.1 2258.0,1461.9 2258.5,1459.0 2259.0,1460.5 2259.5,1452.7 2260.0,1459.2 2260.5,1461.5 2261.0,1462.8 2261.5,1460.9 2262.0,1459.8 2262.5,1464.1 2263.0,1459.6 2263.5,1459.0 2264.0,1460.1 2264.5,1459.1 2265.0,1456.8 2265.5,1455.3 2266.0,1456.6 2266.5,1459.7 2267.0,1460.3 2267.5,1459.9 2268.0,1457.4 2268.5,1457.5 2269.0,1460.5 2269.5,1456.8 2270.0,1457.2 2270.5,1461.6 2271.0,1458.4 2271.5,1456.7 2272.0,1456.3 2272.5,1460.6 2273.0,1457.6 2273.5,1457.8 2274.0,1457.7 2274.5,1452.4 2275.0,1454.8 2275.5,1457.3 2276.0,1456.4 2276.5,1457.3 2277.0,1453.9 2277.5,1453.6 2278.0,1456.4 2278.5,1459.0 2279.0,1452.1 2279.5,1453.8 2280.0,1451.1 2280.5,1448.9 2281.0,1452.0 2281.5,1451.0 2282.0,1444.7 2282.5,1448.8 2283.0,1448.0 2283.5,1445.2 2284.0,1446.3 2284.5,1452.4 2285.0,1441.2 2285.5,1442.7 2286.0,1448.5 2286.5,1445.7 2287.0,1445.7 2287.5,1443.7 2288.0,1443.0 2288.5,1440.5 2289.0,1444.6 2289.5,1435.0 2290.0,1440.6 2290.5,1432.8 2291.0,1431.3 2291.5,1436.3 2292.0,1440.7 2292.5,1436.7 2293.0,1434.1 2293.5,1438.4 2294.0,1432.0 2294.5,1429.0 2295.0,1432.2 2295.5,1424.9 2296.0,1434.9 2296.5,1428.1 2297.0,1425.7 2297.5,1423.1 2298.0,1426.3 2298.5,1428.4 2299.0,1419.1 2299.5,1420.6 2300.0,1419.7 2300.5,1414.7 2301.0,1420.6 2301.5,1416.5 2302.0,1412.7 2302.5,1416.0 2303.0,1409.0 2303.5,1412.1 2304.0,1410.5 2304.5,1405.4 2305.0,1405.2 2305.5,1406.7 2306.0,1397.8 2306.5,1403.3 2307.0,1403.6 2307.5,1402.0 2308.0,1401.2 2308.5,1396.2 2309.0,1400.2 2309.5,1400.8 2310.0,1403.4 2310.5,1401.7 2311.0,1404.8 2311.5,1401.1 2312.0,1402.1 2312.5,1403.4 2313.0,1400.9 2313.5,1405.8 2314.0,1394.5 2314.5,1395.8 2315.0,1404.7 2315.5,1394.8 2316.0,1398.1 2316.5,1398.4 2317.0,1401.9 2317.5,1397.9 2318.0,1397.9 2318.5,1409.0 2319.0,1400.5 2319.5,1402.5 2320.0,1405.7 2320.5,1404.8 2321.0,1403.3 2321.5,1402.4 2322.0,1405.4 2322.5,1410.0 2323.0,1411.0 2323.5,1413.8 2324.0,1415.1 2324.5,1421.1 2325.0,1419.4 2325.5,1416.1 2326.0,1417.5 2326.5,1418.3 2327.0,1418.6 2327.5,1420.3 2328.0,1421.6 2328.5,1420.1 2329.0,1419.8 2329.5,1421.9 2330.0,1426.9 2330.5,1429.6 2331.0,1427.8 2331.5,1427.5 2332.0,1430.6 2332.5,1428.9 2333.0,1430.5 2333.5,1433.5 2334.0,1425.7 2334.5,1428.5 2335.0,1438.7 2335.5,1432.3 2336.0,1431.0 2336.5,1430.4 2337.0,1432.9 2337.5,1431.3 2338.0,1433.5 2338.5,1434.4 2339.0,1439.6 2339.5,1435.2 2340.0,1439.3 2340.5,1435.6 2341.0,1447.1 2341.5,1436.1 2342.0,1439.8 2342.5,1441.4 2343.0,1441.4 2343.5,1444.8 2344.0,1445.2 2344.5,1444.5 2345.0,1449.5 2345.5,1443.7 2346.0,1445.3 2346.5,1445.4 2347.0,1446.5 2347.5,1447.6 2348.0,1446.9 2348.5,1446.1 2349.0,1446.1 2349.5,1447.0 2350.0,1445.7 2350.5,1446.6 2351.0,1445.4 2351.5,1443.0 2352.0,1450.6 2352.5,1446.9 2353.0,1452.1 2353.5,1447.6 2354.0,1451.4 2354.5,1447.7 2355.0,1454.3 2355.5,1449.5 2356.0,1448.1 2356.5,1451.3 2357.0,1450.2 2357.5,1460.1 2358.0,1450.8 2358.5,1456.0 2359.0,1448.7 2359.5,1456.8 2360.0,1452.3" fill="none" stroke="#000000" stroke-width="5.6" stroke-linejoin="round" stroke-linecap="round"/>
<path d="M126.00,45.90 L152.0,45.90 L152.0,1493.0 L2360.50,1493.0 L2360.50,1518.5 M152.0,1493.00 L126.00,1493.00 M152.0,1437.34 L138.80,1437.34 M152.0,1381.68 L126.00,1381.68 M152.0,1326.03 L138.80,1326.03 M152.0,1270.37 L126.00,1270.37 M152.0,1214.71 L138.80,1214.71 M152.0,1159.05 L126.00,1159.05 M152.0,1103.40 L138.80,1103.40 M152.0,1047.74 L126.00,1047.74 M152.0,992.08 L138.80,992.08 M152.0,936.42 L126.00,936.42 M152.0,880.77 L138.80,880.77 M152.0,825.11 L126.00,825.11 M152.0,769.45 L138.80,769.45 M152.0,713.79 L126.00,713.79 M152.0,658.13 L138.80,658.13 M152.0,602.48 L126.00,602.48 M152.0,546.82 L138.80,546.82 M152.0,491.16 L126.00,491.16 M152.0,435.50 L138.80,435.50 M152.0,379.85 L126.00,379.85 M152.0,324.19 L138.80,324.19 M152.0,268.53 L126.00,268.53 M152.0,212.87 L138.80,212.87 M152.0,157.22 L126.00,157.22 M152.0,101.56 L138.80,101.56 M191.85,1493.0 L191.85,1506.2 M389.00,1493.0 L389.00,1518.5 M586.15,1493.0 L586.15,1506.2 M783.30,1493.0 L783.30,1518.5 M980.45,1493.0 L980.45,1506.2 M1177.60,1493.0 L1177.60,1518.5 M1374.75,1493.0 L1374.75,1506.2 M1571.90,1493.0 L1571.90,1518.5 M1769.05,1493.0 L1769.05,1506.2 M1966.20,1493.0 L1966.20,1518.5 M2163.35,1493.0 L2163.35,1506.2" fill="none" stroke="#000" stroke-width="5.8" stroke-linecap="round" stroke-linejoin="miter"/>
<text x="389.0" y="1582" font-size="57.5" text-anchor="middle">10</text>
<text x="783.3" y="1582" font-size="57.5" text-anchor="middle">20</text>
<text x="1177.6" y="1582" font-size="57.5" text-anchor="middle">30</text>
<text x="1571.9" y="1582" font-size="57.5" text-anchor="middle">40</text>
<text x="1966.2" y="1582" font-size="57.5" text-anchor="middle">50</text>
<text x="2360.5" y="1582" font-size="57.5" text-anchor="middle">60</text>
<text x="1240.5" y="1680" font-size="70">2<tspan dx="1.5" style="font-family:'Liberation Serif',serif">θ</tspan><tspan letter-spacing="1"> (°)</tspan></text>
<text transform="translate(95,1048.5) rotate(-90)" font-size="70">Intensity (a. u.)</text>
<rect x="440.0" y="372.0" width="35" height="37" fill="#000" shape-rendering="crispEdges"/>
<rect x="801.0" y="141.9" width="35" height="37" fill="#000" shape-rendering="crispEdges"/>
<rect x="905.0" y="673.0" width="35" height="37" fill="#000" shape-rendering="crispEdges"/>
<rect x="1128.5" y="226.2" width="35" height="37" fill="#000" shape-rendering="crispEdges"/>
<rect x="1215.5" y="404.1" width="35" height="37" fill="#000" shape-rendering="crispEdges"/>
<rect x="1299.1" y="509.1" width="35" height="37" fill="#000" shape-rendering="crispEdges"/>
<rect x="436.0" y="1288.9" width="35" height="37" fill="#000" shape-rendering="crispEdges"/>
<rect x="796.0" y="1170.9" width="35" height="37" fill="#000" shape-rendering="crispEdges"/>
<rect x="902.0" y="1345.8" width="35" height="37" fill="#000" shape-rendering="crispEdges"/>
<rect x="1128.0" y="1259.0" width="35" height="37" fill="#000" shape-rendering="crispEdges"/>
<rect x="1208.0" y="1293.0" width="35" height="37" fill="#000" shape-rendering="crispEdges"/>
<rect x="1301.5" y="1322.9" width="35" height="37" fill="#000" shape-rendering="crispEdges"/>
<ellipse cx="704.8" cy="1004.8" rx="19.5" ry="18" fill="#008000"/>
<ellipse cx="1501.6" cy="908.0" rx="19.5" ry="18" fill="#008000"/>
<ellipse cx="711.7" cy="1364.4" rx="19.5" ry="18" fill="#008000"/>
<ellipse cx="1486.6" cy="1294.0" rx="19.5" ry="18" fill="#008000"/>
<rect x="1870" y="66" width="36" height="37" fill="#000" shape-rendering="crispEdges"/>
<ellipse cx="1887" cy="174" rx="19.5" ry="18.5" fill="#008000"/>
<text x="1929" y="109" font-size="70">CaSO<tspan font-size="42" dy="24">4</tspan><tspan dy="-24" dx="-2.5">·</tspan><tspan dx="-3">2H</tspan><tspan font-size="42" dy="24">2</tspan><tspan dy="-24">O</tspan></text>
<text x="1929.5" y="192" font-size="70">Mg(OH)<tspan font-size="42" dy="24">2</tspan></text>
<text x="1572" y="513" font-size="70">solid precipitated from the</text>
<text x="1572" y="600" font-size="70">filtered mother liquor after</text>
<text x="1572" y="686.5" font-size="70">separating Mg(OH)<tspan font-size="42" dy="24">2</tspan></text>
<text x="1572" y="966.2" font-size="70">solid filtered after 1 minute</text>
<text x="1572" y="1051.5" font-size="70">reaction time, washed</text>
<text x="1565.5" y="1274" font-size="70">solid filtered after 1 minute</text>
<text x="1565.5" y="1360" font-size="70">reaction time, unwashed</text>
</svg>
</body></html>
